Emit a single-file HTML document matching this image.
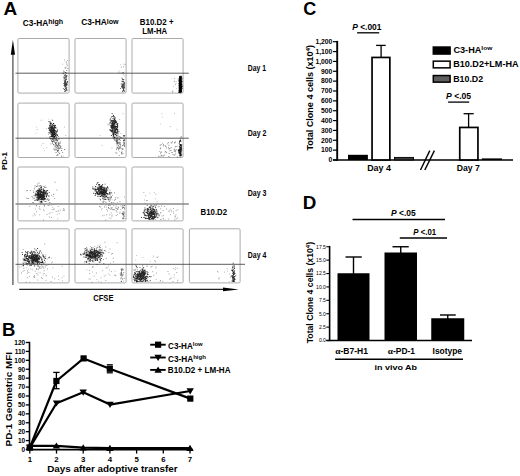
<!DOCTYPE html>
<html><head><meta charset="utf-8"><style>
html,body{margin:0;padding:0;background:#fff;}
body{width:520px;height:476px;overflow:hidden;}
svg{display:block;}
</style></head><body>
<svg width="520" height="476" viewBox="0 0 520 476">
<rect width="520" height="476" fill="#fff"/>
<rect x="17.9" y="38.5" width="51.199999999999996" height="54.599999999999994" rx="1.2" fill="none" stroke="#ababab" stroke-width="1.0"/>
<rect x="75.0" y="38.5" width="51.099999999999994" height="54.599999999999994" rx="1.2" fill="none" stroke="#ababab" stroke-width="1.0"/>
<rect x="132.0" y="38.5" width="51.099999999999994" height="54.599999999999994" rx="1.2" fill="none" stroke="#ababab" stroke-width="1.0"/>
<rect x="17.9" y="103.1" width="51.199999999999996" height="54.400000000000006" rx="1.2" fill="none" stroke="#ababab" stroke-width="1.0"/>
<rect x="75.0" y="103.1" width="51.099999999999994" height="54.400000000000006" rx="1.2" fill="none" stroke="#ababab" stroke-width="1.0"/>
<rect x="132.0" y="103.1" width="51.099999999999994" height="54.400000000000006" rx="1.2" fill="none" stroke="#ababab" stroke-width="1.0"/>
<rect x="17.9" y="167.0" width="51.199999999999996" height="53.900000000000006" rx="1.2" fill="none" stroke="#ababab" stroke-width="1.0"/>
<rect x="75.0" y="167.0" width="51.099999999999994" height="53.900000000000006" rx="1.2" fill="none" stroke="#ababab" stroke-width="1.0"/>
<rect x="132.0" y="167.0" width="51.099999999999994" height="53.900000000000006" rx="1.2" fill="none" stroke="#ababab" stroke-width="1.0"/>
<rect x="17.9" y="228.8" width="51.199999999999996" height="54.099999999999966" rx="1.2" fill="none" stroke="#ababab" stroke-width="1.0"/>
<rect x="75.0" y="228.8" width="51.099999999999994" height="54.099999999999966" rx="1.2" fill="none" stroke="#ababab" stroke-width="1.0"/>
<rect x="132.0" y="228.8" width="51.099999999999994" height="54.099999999999966" rx="1.2" fill="none" stroke="#ababab" stroke-width="1.0"/>
<rect x="189.4" y="228.8" width="50.69999999999999" height="54.099999999999966" rx="1.2" fill="none" stroke="#ababab" stroke-width="1.0"/>
<path d="M65.7 84.0h0.9v0.9h-0.9zM64.2 82.2h0.9v0.9h-0.9zM64.1 81.0h0.9v0.9h-0.9zM66.9 84.4h0.9v0.9h-0.9zM64.6 80.8h0.9v0.9h-0.9zM65.7 87.2h0.9v0.9h-0.9zM64.2 84.7h0.9v0.9h-0.9zM66.1 83.8h0.9v0.9h-0.9zM64.8 75.3h0.9v0.9h-0.9zM63.8 71.6h0.9v0.9h-0.9zM65.0 72.0h0.9v0.9h-0.9zM65.6 75.8h0.9v0.9h-0.9zM65.1 85.0h0.9v0.9h-0.9zM64.7 67.6h0.9v0.9h-0.9zM65.4 83.7h0.9v0.9h-0.9zM64.7 74.1h0.9v0.9h-0.9zM64.3 77.6h0.9v0.9h-0.9zM64.3 90.9h0.9v0.9h-0.9zM66.4 83.8h0.9v0.9h-0.9zM65.2 80.2h0.9v0.9h-0.9zM65.4 84.7h0.9v0.9h-0.9zM65.4 76.0h0.9v0.9h-0.9zM65.4 89.6h0.9v0.9h-0.9zM63.9 89.0h0.9v0.9h-0.9zM66.0 84.5h0.9v0.9h-0.9zM66.1 82.8h0.9v0.9h-0.9zM66.1 83.6h0.9v0.9h-0.9zM64.7 85.3h0.9v0.9h-0.9zM63.9 84.8h0.9v0.9h-0.9zM65.1 80.2h0.9v0.9h-0.9zM66.7 89.8h0.9v0.9h-0.9zM64.3 75.4h0.9v0.9h-0.9zM62.9 88.2h0.9v0.9h-0.9zM65.2 81.0h0.9v0.9h-0.9zM64.9 81.9h0.9v0.9h-0.9zM67.1 82.4h0.9v0.9h-0.9zM64.9 81.2h0.9v0.9h-0.9zM65.2 86.3h0.9v0.9h-0.9zM64.0 82.7h0.9v0.9h-0.9zM64.8 83.9h0.9v0.9h-0.9zM66.1 83.8h0.9v0.9h-0.9zM66.6 81.8h0.9v0.9h-0.9zM66.0 84.0h0.9v0.9h-0.9zM65.7 75.6h0.9v0.9h-0.9zM62.9 73.0h0.9v0.9h-0.9zM64.2 82.0h0.9v0.9h-0.9zM64.6 78.6h0.9v0.9h-0.9zM65.9 85.3h0.9v0.9h-0.9zM65.1 82.9h0.9v0.9h-0.9zM65.9 88.6h0.9v0.9h-0.9zM65.2 77.3h0.9v0.9h-0.9zM64.0 84.2h0.9v0.9h-0.9zM64.3 85.7h0.9v0.9h-0.9zM65.5 90.3h0.9v0.9h-0.9zM64.6 84.6h0.9v0.9h-0.9zM62.9 83.2h0.9v0.9h-0.9zM65.7 76.6h0.9v0.9h-0.9zM66.3 70.2h0.9v0.9h-0.9zM66.2 72.7h0.9v0.9h-0.9zM66.2 78.5h0.9v0.9h-0.9zM63.5 84.9h0.9v0.9h-0.9zM65.0 83.6h0.9v0.9h-0.9zM64.1 83.0h0.9v0.9h-0.9zM64.6 91.1h0.9v0.9h-0.9zM64.3 83.7h0.9v0.9h-0.9zM63.8 79.9h0.9v0.9h-0.9zM65.3 90.3h0.9v0.9h-0.9zM64.9 79.5h0.9v0.9h-0.9zM65.3 80.4h0.9v0.9h-0.9zM64.9 81.6h0.9v0.9h-0.9zM64.3 75.0h0.9v0.9h-0.9zM65.7 77.1h0.9v0.9h-0.9zM64.5 82.6h0.9v0.9h-0.9zM66.2 72.6h0.9v0.9h-0.9zM65.4 83.8h0.9v0.9h-0.9zM65.8 79.1h0.9v0.9h-0.9zM65.1 80.5h0.9v0.9h-0.9zM63.8 76.8h0.9v0.9h-0.9zM65.3 85.9h0.9v0.9h-0.9zM64.7 81.1h0.9v0.9h-0.9zM64.9 88.1h0.9v0.9h-0.9zM65.3 83.0h0.9v0.9h-0.9zM64.6 86.5h0.9v0.9h-0.9zM66.4 75.0h0.9v0.9h-0.9zM65.1 90.3h0.9v0.9h-0.9zM66.2 87.5h0.9v0.9h-0.9zM66.4 89.4h0.9v0.9h-0.9zM67.1 81.0h0.9v0.9h-0.9zM66.3 75.9h0.9v0.9h-0.9zM66.3 87.2h0.9v0.9h-0.9zM63.3 76.6h0.9v0.9h-0.9zM64.1 89.3h0.9v0.9h-0.9zM66.3 83.9h0.9v0.9h-0.9zM62.8 73.3h0.9v0.9h-0.9zM65.4 85.7h0.9v0.9h-0.9zM65.3 82.4h0.9v0.9h-0.9zM63.5 78.4h0.9v0.9h-0.9z" fill="#000" fill-opacity="0.75"/>
<path d="M65.8 61.2h0.9v0.9h-0.9zM65.7 66.5h0.9v0.9h-0.9zM62.6 72.2h0.9v0.9h-0.9zM66.0 63.7h0.9v0.9h-0.9zM65.8 61.8h0.9v0.9h-0.9zM66.9 64.8h0.9v0.9h-0.9zM66.8 67.9h0.9v0.9h-0.9zM64.0 59.5h0.9v0.9h-0.9zM66.3 63.7h0.9v0.9h-0.9zM67.2 60.0h0.9v0.9h-0.9zM67.4 67.9h0.9v0.9h-0.9zM63.0 70.5h0.9v0.9h-0.9zM62.2 63.7h0.9v0.9h-0.9zM65.9 63.6h0.9v0.9h-0.9z" fill="#000" fill-opacity="0.4"/>
<path d="M120.8 83.4h0.9v0.9h-0.9zM122.4 71.9h0.9v0.9h-0.9zM122.0 81.2h0.9v0.9h-0.9zM122.9 86.7h0.9v0.9h-0.9zM123.9 86.7h0.9v0.9h-0.9zM123.2 89.0h0.9v0.9h-0.9zM123.6 81.8h0.9v0.9h-0.9zM124.2 83.4h0.9v0.9h-0.9zM122.8 80.8h0.9v0.9h-0.9zM121.5 86.5h0.9v0.9h-0.9zM123.8 84.4h0.9v0.9h-0.9zM120.1 88.2h0.9v0.9h-0.9zM122.9 87.6h0.9v0.9h-0.9zM121.8 86.9h0.9v0.9h-0.9zM122.8 85.3h0.9v0.9h-0.9zM122.6 84.0h0.9v0.9h-0.9zM124.0 90.8h0.9v0.9h-0.9zM123.1 89.5h0.9v0.9h-0.9zM122.7 87.5h0.9v0.9h-0.9zM123.1 85.6h0.9v0.9h-0.9zM122.4 86.2h0.9v0.9h-0.9zM123.1 88.8h0.9v0.9h-0.9zM121.8 84.9h0.9v0.9h-0.9zM124.0 86.2h0.9v0.9h-0.9zM122.8 84.7h0.9v0.9h-0.9zM123.1 85.5h0.9v0.9h-0.9zM122.7 79.3h0.9v0.9h-0.9zM124.0 82.7h0.9v0.9h-0.9zM123.6 83.0h0.9v0.9h-0.9zM123.2 83.8h0.9v0.9h-0.9zM121.9 86.5h0.9v0.9h-0.9zM122.8 85.3h0.9v0.9h-0.9zM123.4 81.8h0.9v0.9h-0.9zM121.8 80.9h0.9v0.9h-0.9zM123.6 87.7h0.9v0.9h-0.9zM121.5 83.8h0.9v0.9h-0.9zM122.0 90.8h0.9v0.9h-0.9zM122.4 82.7h0.9v0.9h-0.9zM122.8 87.8h0.9v0.9h-0.9zM123.3 87.5h0.9v0.9h-0.9zM123.0 85.2h0.9v0.9h-0.9zM122.9 87.4h0.9v0.9h-0.9zM123.1 89.2h0.9v0.9h-0.9zM123.4 78.9h0.9v0.9h-0.9zM121.5 77.7h0.9v0.9h-0.9zM123.8 90.3h0.9v0.9h-0.9zM121.1 85.8h0.9v0.9h-0.9zM122.3 84.8h0.9v0.9h-0.9zM122.1 87.5h0.9v0.9h-0.9zM122.9 81.2h0.9v0.9h-0.9zM121.7 85.7h0.9v0.9h-0.9zM121.7 87.0h0.9v0.9h-0.9zM122.5 91.4h0.9v0.9h-0.9zM122.9 88.8h0.9v0.9h-0.9zM122.6 84.8h0.9v0.9h-0.9zM121.4 80.7h0.9v0.9h-0.9zM122.8 90.1h0.9v0.9h-0.9zM124.1 87.5h0.9v0.9h-0.9zM122.1 78.7h0.9v0.9h-0.9zM123.4 87.3h0.9v0.9h-0.9zM124.1 84.8h0.9v0.9h-0.9zM121.7 87.4h0.9v0.9h-0.9zM123.9 82.3h0.9v0.9h-0.9z" fill="#000" fill-opacity="0.75"/>
<path d="M122.8 71.9h0.9v0.9h-0.9zM123.8 75.4h0.9v0.9h-0.9zM120.3 64.4h0.9v0.9h-0.9zM122.7 72.6h0.9v0.9h-0.9zM119.5 72.5h0.9v0.9h-0.9zM121.9 78.8h0.9v0.9h-0.9zM123.4 63.7h0.9v0.9h-0.9zM118.5 70.7h0.9v0.9h-0.9zM123.1 73.7h0.9v0.9h-0.9zM118.1 72.4h0.9v0.9h-0.9zM124.7 64.3h0.9v0.9h-0.9zM121.3 73.1h0.9v0.9h-0.9zM120.9 66.8h0.9v0.9h-0.9zM123.0 66.3h0.9v0.9h-0.9z" fill="#000" fill-opacity="0.4"/>
<path d="M179.2 76.2L181.4 75.6L182 92.6L178.6 92.6Z" fill="#000"/>
<path d="M181.1 84.3h0.9v0.9h-0.9zM180.3 76.9h0.9v0.9h-0.9zM179.4 81.3h0.9v0.9h-0.9zM179.8 88.8h0.9v0.9h-0.9zM179.6 92.0h0.9v0.9h-0.9zM180.1 86.4h0.9v0.9h-0.9zM180.8 80.7h0.9v0.9h-0.9zM180.8 83.7h0.9v0.9h-0.9zM179.3 84.3h0.9v0.9h-0.9zM180.3 84.0h0.9v0.9h-0.9zM179.5 89.3h0.9v0.9h-0.9zM178.8 84.3h0.9v0.9h-0.9zM179.3 87.8h0.9v0.9h-0.9zM178.9 90.0h0.9v0.9h-0.9zM179.6 79.1h0.9v0.9h-0.9zM180.6 78.9h0.9v0.9h-0.9zM179.7 80.5h0.9v0.9h-0.9zM179.6 87.4h0.9v0.9h-0.9zM179.4 86.7h0.9v0.9h-0.9zM178.6 78.4h0.9v0.9h-0.9zM180.3 85.7h0.9v0.9h-0.9zM180.3 85.3h0.9v0.9h-0.9zM179.4 76.7h0.9v0.9h-0.9zM181.0 77.8h0.9v0.9h-0.9zM179.4 88.6h0.9v0.9h-0.9zM180.0 77.5h0.9v0.9h-0.9zM179.3 87.1h0.9v0.9h-0.9zM179.3 89.7h0.9v0.9h-0.9zM178.9 83.1h0.9v0.9h-0.9zM181.5 79.6h0.9v0.9h-0.9zM179.9 88.6h0.9v0.9h-0.9zM178.6 80.1h0.9v0.9h-0.9zM180.3 82.5h0.9v0.9h-0.9zM180.2 84.1h0.9v0.9h-0.9zM180.2 78.9h0.9v0.9h-0.9zM181.5 84.3h0.9v0.9h-0.9zM180.2 80.7h0.9v0.9h-0.9zM179.6 81.5h0.9v0.9h-0.9zM179.4 84.2h0.9v0.9h-0.9zM180.2 87.5h0.9v0.9h-0.9zM180.1 85.8h0.9v0.9h-0.9zM179.4 80.9h0.9v0.9h-0.9zM179.8 83.3h0.9v0.9h-0.9zM180.3 85.7h0.9v0.9h-0.9zM180.4 77.7h0.9v0.9h-0.9zM179.7 77.8h0.9v0.9h-0.9zM178.4 83.0h0.9v0.9h-0.9zM180.4 85.0h0.9v0.9h-0.9zM179.9 83.7h0.9v0.9h-0.9zM179.4 82.6h0.9v0.9h-0.9zM179.8 83.2h0.9v0.9h-0.9zM179.2 85.0h0.9v0.9h-0.9zM180.4 85.7h0.9v0.9h-0.9zM179.9 83.8h0.9v0.9h-0.9zM178.8 87.3h0.9v0.9h-0.9zM180.5 86.8h0.9v0.9h-0.9zM180.6 85.9h0.9v0.9h-0.9zM180.1 81.2h0.9v0.9h-0.9zM180.7 87.7h0.9v0.9h-0.9zM178.9 85.5h0.9v0.9h-0.9zM181.4 87.2h0.9v0.9h-0.9zM180.5 89.5h0.9v0.9h-0.9zM181.1 76.7h0.9v0.9h-0.9zM179.0 86.4h0.9v0.9h-0.9zM179.7 78.0h0.9v0.9h-0.9zM180.0 90.9h0.9v0.9h-0.9zM181.9 85.9h0.9v0.9h-0.9zM179.2 83.3h0.9v0.9h-0.9zM180.7 81.0h0.9v0.9h-0.9zM180.4 86.5h0.9v0.9h-0.9zM179.6 89.5h0.9v0.9h-0.9zM181.0 84.2h0.9v0.9h-0.9zM181.3 87.4h0.9v0.9h-0.9zM180.0 86.5h0.9v0.9h-0.9zM179.4 86.3h0.9v0.9h-0.9zM180.8 76.3h0.9v0.9h-0.9zM180.6 84.2h0.9v0.9h-0.9zM180.0 76.0h0.9v0.9h-0.9zM179.5 81.5h0.9v0.9h-0.9zM180.6 89.0h0.9v0.9h-0.9zM180.3 81.5h0.9v0.9h-0.9zM180.8 83.9h0.9v0.9h-0.9zM181.8 87.9h0.9v0.9h-0.9zM180.6 90.2h0.9v0.9h-0.9zM181.0 86.0h0.9v0.9h-0.9zM180.3 81.8h0.9v0.9h-0.9zM180.3 83.7h0.9v0.9h-0.9zM181.5 85.5h0.9v0.9h-0.9zM181.6 84.3h0.9v0.9h-0.9zM180.1 79.7h0.9v0.9h-0.9zM181.0 83.5h0.9v0.9h-0.9zM178.9 89.7h0.9v0.9h-0.9zM180.6 79.9h0.9v0.9h-0.9zM178.9 81.2h0.9v0.9h-0.9zM180.7 89.7h0.9v0.9h-0.9zM179.9 87.0h0.9v0.9h-0.9zM180.1 89.6h0.9v0.9h-0.9zM179.5 90.0h0.9v0.9h-0.9zM180.5 80.2h0.9v0.9h-0.9zM180.9 81.0h0.9v0.9h-0.9zM179.5 85.8h0.9v0.9h-0.9zM180.0 84.9h0.9v0.9h-0.9zM179.7 89.1h0.9v0.9h-0.9zM181.4 82.3h0.9v0.9h-0.9zM180.5 84.8h0.9v0.9h-0.9zM180.2 92.2h0.9v0.9h-0.9zM180.4 79.6h0.9v0.9h-0.9zM179.6 86.8h0.9v0.9h-0.9zM179.0 76.3h0.9v0.9h-0.9zM179.6 87.8h0.9v0.9h-0.9zM180.5 83.8h0.9v0.9h-0.9zM180.0 87.6h0.9v0.9h-0.9zM179.5 87.0h0.9v0.9h-0.9zM179.4 82.7h0.9v0.9h-0.9zM180.3 90.2h0.9v0.9h-0.9zM180.0 80.8h0.9v0.9h-0.9zM180.9 83.4h0.9v0.9h-0.9zM179.4 76.5h0.9v0.9h-0.9zM180.2 89.3h0.9v0.9h-0.9zM180.0 83.3h0.9v0.9h-0.9zM180.7 90.6h0.9v0.9h-0.9zM179.8 87.9h0.9v0.9h-0.9zM180.9 87.3h0.9v0.9h-0.9zM180.7 83.5h0.9v0.9h-0.9zM180.0 87.9h0.9v0.9h-0.9zM180.6 76.0h0.9v0.9h-0.9zM180.0 80.8h0.9v0.9h-0.9zM180.0 81.5h0.9v0.9h-0.9zM181.3 85.8h0.9v0.9h-0.9zM179.8 78.5h0.9v0.9h-0.9zM178.5 84.9h0.9v0.9h-0.9zM178.9 86.2h0.9v0.9h-0.9zM180.2 86.0h0.9v0.9h-0.9zM180.2 82.9h0.9v0.9h-0.9zM179.7 81.8h0.9v0.9h-0.9zM180.3 76.1h0.9v0.9h-0.9zM180.9 91.1h0.9v0.9h-0.9zM181.6 81.1h0.9v0.9h-0.9zM180.2 84.2h0.9v0.9h-0.9zM180.4 83.0h0.9v0.9h-0.9zM180.2 82.3h0.9v0.9h-0.9zM180.0 79.1h0.9v0.9h-0.9zM180.8 83.3h0.9v0.9h-0.9zM179.3 88.0h0.9v0.9h-0.9zM181.1 83.5h0.9v0.9h-0.9zM180.4 85.8h0.9v0.9h-0.9zM179.7 92.3h0.9v0.9h-0.9zM179.8 84.9h0.9v0.9h-0.9zM178.5 92.0h0.9v0.9h-0.9zM179.8 81.1h0.9v0.9h-0.9zM180.8 87.8h0.9v0.9h-0.9zM178.9 91.5h0.9v0.9h-0.9zM180.0 88.3h0.9v0.9h-0.9zM180.8 81.2h0.9v0.9h-0.9zM178.4 79.9h0.9v0.9h-0.9zM179.0 82.6h0.9v0.9h-0.9zM180.6 81.3h0.9v0.9h-0.9zM181.7 86.1h0.9v0.9h-0.9zM178.9 83.5h0.9v0.9h-0.9zM179.5 80.7h0.9v0.9h-0.9zM180.7 78.4h0.9v0.9h-0.9zM178.5 81.3h0.9v0.9h-0.9zM180.2 88.0h0.9v0.9h-0.9zM180.4 86.3h0.9v0.9h-0.9zM180.3 87.7h0.9v0.9h-0.9zM180.7 90.7h0.9v0.9h-0.9zM180.7 86.5h0.9v0.9h-0.9zM180.2 77.2h0.9v0.9h-0.9zM180.5 83.2h0.9v0.9h-0.9zM181.8 77.7h0.9v0.9h-0.9zM179.2 85.0h0.9v0.9h-0.9zM180.0 76.0h0.9v0.9h-0.9zM179.7 84.1h0.9v0.9h-0.9zM179.7 85.0h0.9v0.9h-0.9zM179.6 87.3h0.9v0.9h-0.9zM181.2 84.3h0.9v0.9h-0.9zM179.5 82.2h0.9v0.9h-0.9zM179.3 88.4h0.9v0.9h-0.9zM180.3 82.1h0.9v0.9h-0.9z" fill="#000" fill-opacity="0.9"/>
<path d="M173.2 85.7h0.9v0.9h-0.9zM177.9 79.1h0.9v0.9h-0.9zM173.7 80.8h0.9v0.9h-0.9zM175.6 82.7h0.9v0.9h-0.9zM177.9 79.0h0.9v0.9h-0.9zM177.7 78.4h0.9v0.9h-0.9zM172.3 91.0h0.9v0.9h-0.9zM175.1 84.1h0.9v0.9h-0.9zM175.6 80.9h0.9v0.9h-0.9zM176.2 87.9h0.9v0.9h-0.9zM174.0 78.1h0.9v0.9h-0.9zM174.0 81.4h0.9v0.9h-0.9zM172.0 91.5h0.9v0.9h-0.9zM172.2 90.6h0.9v0.9h-0.9z" fill="#000" fill-opacity="0.35"/>
<path d="M53.0 130.1h0.9v0.9h-0.9zM52.4 136.0h0.9v0.9h-0.9zM51.0 122.7h0.9v0.9h-0.9zM52.7 130.5h0.9v0.9h-0.9zM53.8 136.4h0.9v0.9h-0.9zM51.2 134.4h0.9v0.9h-0.9zM56.4 134.0h0.9v0.9h-0.9zM53.4 133.9h0.9v0.9h-0.9zM55.4 130.8h0.9v0.9h-0.9zM51.8 126.4h0.9v0.9h-0.9zM54.0 132.4h0.9v0.9h-0.9zM52.7 128.5h0.9v0.9h-0.9zM52.5 129.2h0.9v0.9h-0.9zM50.6 130.1h0.9v0.9h-0.9zM53.9 130.2h0.9v0.9h-0.9zM51.6 126.2h0.9v0.9h-0.9zM51.2 133.7h0.9v0.9h-0.9zM50.9 131.5h0.9v0.9h-0.9zM56.9 135.1h0.9v0.9h-0.9zM53.3 139.6h0.9v0.9h-0.9zM53.1 133.8h0.9v0.9h-0.9zM55.0 130.6h0.9v0.9h-0.9zM53.4 124.4h0.9v0.9h-0.9zM54.7 130.0h0.9v0.9h-0.9zM51.5 131.5h0.9v0.9h-0.9zM53.8 131.6h0.9v0.9h-0.9zM53.3 130.6h0.9v0.9h-0.9zM48.8 128.6h0.9v0.9h-0.9zM54.1 134.4h0.9v0.9h-0.9zM52.7 131.2h0.9v0.9h-0.9zM52.4 135.3h0.9v0.9h-0.9zM51.8 127.4h0.9v0.9h-0.9zM51.0 136.1h0.9v0.9h-0.9zM52.2 136.0h0.9v0.9h-0.9zM53.9 125.3h0.9v0.9h-0.9zM50.4 130.3h0.9v0.9h-0.9zM53.8 128.7h0.9v0.9h-0.9zM52.5 135.9h0.9v0.9h-0.9zM53.9 132.2h0.9v0.9h-0.9zM52.7 127.5h0.9v0.9h-0.9zM51.6 130.5h0.9v0.9h-0.9zM52.3 128.3h0.9v0.9h-0.9zM51.6 130.8h0.9v0.9h-0.9zM54.0 128.4h0.9v0.9h-0.9zM54.0 131.3h0.9v0.9h-0.9zM54.1 135.8h0.9v0.9h-0.9zM52.5 140.9h0.9v0.9h-0.9zM52.5 134.2h0.9v0.9h-0.9zM56.3 138.5h0.9v0.9h-0.9zM49.8 121.9h0.9v0.9h-0.9zM54.1 133.3h0.9v0.9h-0.9zM52.8 133.8h0.9v0.9h-0.9zM53.8 132.4h0.9v0.9h-0.9zM54.1 129.9h0.9v0.9h-0.9zM52.2 120.2h0.9v0.9h-0.9zM53.4 125.7h0.9v0.9h-0.9zM50.9 129.7h0.9v0.9h-0.9zM51.3 132.4h0.9v0.9h-0.9zM49.5 126.7h0.9v0.9h-0.9zM53.3 130.3h0.9v0.9h-0.9zM52.9 135.1h0.9v0.9h-0.9zM53.1 135.2h0.9v0.9h-0.9zM53.4 130.0h0.9v0.9h-0.9zM52.6 135.3h0.9v0.9h-0.9zM52.1 129.4h0.9v0.9h-0.9zM51.1 131.1h0.9v0.9h-0.9zM52.5 135.2h0.9v0.9h-0.9zM51.5 132.8h0.9v0.9h-0.9zM53.3 132.0h0.9v0.9h-0.9zM55.5 128.2h0.9v0.9h-0.9zM55.6 131.8h0.9v0.9h-0.9zM52.0 134.9h0.9v0.9h-0.9zM53.0 128.7h0.9v0.9h-0.9zM52.6 130.8h0.9v0.9h-0.9zM49.4 129.6h0.9v0.9h-0.9zM48.8 129.9h0.9v0.9h-0.9zM51.6 132.3h0.9v0.9h-0.9zM51.7 127.3h0.9v0.9h-0.9zM50.4 132.0h0.9v0.9h-0.9zM49.8 122.9h0.9v0.9h-0.9zM49.8 121.5h0.9v0.9h-0.9zM51.7 137.9h0.9v0.9h-0.9zM50.7 133.7h0.9v0.9h-0.9zM52.2 131.9h0.9v0.9h-0.9zM53.4 130.1h0.9v0.9h-0.9zM53.8 138.4h0.9v0.9h-0.9zM51.0 131.3h0.9v0.9h-0.9zM52.4 133.2h0.9v0.9h-0.9zM52.9 134.2h0.9v0.9h-0.9zM50.4 138.7h0.9v0.9h-0.9zM53.7 129.0h0.9v0.9h-0.9zM51.0 129.1h0.9v0.9h-0.9zM50.1 129.6h0.9v0.9h-0.9zM56.5 130.5h0.9v0.9h-0.9zM51.4 135.9h0.9v0.9h-0.9zM51.3 126.7h0.9v0.9h-0.9zM51.8 135.2h0.9v0.9h-0.9zM53.5 127.2h0.9v0.9h-0.9zM52.4 134.5h0.9v0.9h-0.9zM49.4 125.8h0.9v0.9h-0.9zM48.5 127.8h0.9v0.9h-0.9zM51.9 134.0h0.9v0.9h-0.9zM55.8 132.3h0.9v0.9h-0.9zM51.3 136.0h0.9v0.9h-0.9zM54.9 134.2h0.9v0.9h-0.9zM50.5 127.3h0.9v0.9h-0.9zM49.9 130.3h0.9v0.9h-0.9zM49.5 137.6h0.9v0.9h-0.9zM51.4 125.6h0.9v0.9h-0.9zM52.6 129.4h0.9v0.9h-0.9zM52.3 131.8h0.9v0.9h-0.9zM49.7 136.1h0.9v0.9h-0.9zM51.4 130.6h0.9v0.9h-0.9zM52.9 131.0h0.9v0.9h-0.9zM50.9 126.5h0.9v0.9h-0.9zM53.5 134.0h0.9v0.9h-0.9zM55.4 127.0h0.9v0.9h-0.9zM51.5 141.2h0.9v0.9h-0.9zM56.7 131.3h0.9v0.9h-0.9zM53.3 134.0h0.9v0.9h-0.9zM51.5 129.7h0.9v0.9h-0.9zM51.5 129.7h0.9v0.9h-0.9zM52.3 133.9h0.9v0.9h-0.9zM50.3 128.8h0.9v0.9h-0.9zM51.0 130.5h0.9v0.9h-0.9zM54.1 129.5h0.9v0.9h-0.9zM53.5 132.0h0.9v0.9h-0.9zM52.8 132.1h0.9v0.9h-0.9zM51.9 130.0h0.9v0.9h-0.9zM51.2 134.1h0.9v0.9h-0.9zM53.3 136.5h0.9v0.9h-0.9zM51.3 127.2h0.9v0.9h-0.9zM52.4 127.4h0.9v0.9h-0.9zM53.9 127.0h0.9v0.9h-0.9zM48.4 127.5h0.9v0.9h-0.9zM48.9 127.6h0.9v0.9h-0.9zM54.2 130.1h0.9v0.9h-0.9zM50.7 133.7h0.9v0.9h-0.9zM54.9 126.7h0.9v0.9h-0.9zM52.7 131.9h0.9v0.9h-0.9zM57.0 134.7h0.9v0.9h-0.9zM53.5 136.3h0.9v0.9h-0.9zM53.7 132.0h0.9v0.9h-0.9zM50.5 128.0h0.9v0.9h-0.9zM51.0 130.9h0.9v0.9h-0.9zM52.6 130.2h0.9v0.9h-0.9zM52.5 141.2h0.9v0.9h-0.9zM52.2 130.0h0.9v0.9h-0.9zM54.4 132.2h0.9v0.9h-0.9zM50.9 128.5h0.9v0.9h-0.9zM50.1 123.3h0.9v0.9h-0.9zM52.9 132.9h0.9v0.9h-0.9zM51.3 126.0h0.9v0.9h-0.9zM53.3 130.5h0.9v0.9h-0.9zM51.8 127.9h0.9v0.9h-0.9zM49.6 122.6h0.9v0.9h-0.9zM50.0 138.2h0.9v0.9h-0.9zM52.7 128.9h0.9v0.9h-0.9zM51.0 129.0h0.9v0.9h-0.9zM52.5 130.2h0.9v0.9h-0.9zM49.5 130.5h0.9v0.9h-0.9zM51.0 130.0h0.9v0.9h-0.9zM52.5 128.0h0.9v0.9h-0.9zM54.3 133.2h0.9v0.9h-0.9zM53.7 128.1h0.9v0.9h-0.9zM55.0 135.5h0.9v0.9h-0.9zM53.1 136.8h0.9v0.9h-0.9zM53.7 129.5h0.9v0.9h-0.9zM52.0 124.3h0.9v0.9h-0.9zM51.6 128.2h0.9v0.9h-0.9zM50.1 122.9h0.9v0.9h-0.9zM53.9 130.2h0.9v0.9h-0.9zM53.0 135.0h0.9v0.9h-0.9zM51.1 129.8h0.9v0.9h-0.9zM52.3 132.4h0.9v0.9h-0.9zM55.7 132.9h0.9v0.9h-0.9zM50.1 130.7h0.9v0.9h-0.9zM49.7 126.9h0.9v0.9h-0.9zM53.9 124.8h0.9v0.9h-0.9zM50.2 131.8h0.9v0.9h-0.9zM54.9 133.2h0.9v0.9h-0.9zM51.2 129.0h0.9v0.9h-0.9zM52.8 128.9h0.9v0.9h-0.9zM54.8 133.1h0.9v0.9h-0.9zM55.1 135.7h0.9v0.9h-0.9zM54.4 136.5h0.9v0.9h-0.9zM51.4 123.6h0.9v0.9h-0.9zM52.1 132.0h0.9v0.9h-0.9zM52.5 134.7h0.9v0.9h-0.9zM54.3 126.0h0.9v0.9h-0.9zM53.2 133.4h0.9v0.9h-0.9zM54.7 134.4h0.9v0.9h-0.9zM48.8 132.5h0.9v0.9h-0.9zM51.4 127.6h0.9v0.9h-0.9zM52.2 126.0h0.9v0.9h-0.9zM52.4 136.0h0.9v0.9h-0.9zM55.1 125.0h0.9v0.9h-0.9zM50.3 128.7h0.9v0.9h-0.9zM53.3 131.5h0.9v0.9h-0.9zM53.4 127.2h0.9v0.9h-0.9zM50.7 128.5h0.9v0.9h-0.9zM53.8 131.1h0.9v0.9h-0.9zM52.7 127.6h0.9v0.9h-0.9zM57.0 129.5h0.9v0.9h-0.9zM54.3 127.0h0.9v0.9h-0.9zM52.3 130.3h0.9v0.9h-0.9zM54.3 133.6h0.9v0.9h-0.9zM53.8 136.1h0.9v0.9h-0.9zM51.3 127.9h0.9v0.9h-0.9zM53.7 132.7h0.9v0.9h-0.9zM54.0 136.7h0.9v0.9h-0.9zM55.5 135.0h0.9v0.9h-0.9zM50.2 131.5h0.9v0.9h-0.9zM49.5 125.5h0.9v0.9h-0.9zM52.1 137.8h0.9v0.9h-0.9zM54.2 135.9h0.9v0.9h-0.9zM55.1 138.0h0.9v0.9h-0.9zM52.1 130.1h0.9v0.9h-0.9zM52.8 130.8h0.9v0.9h-0.9zM52.1 128.1h0.9v0.9h-0.9zM50.7 138.1h0.9v0.9h-0.9zM51.2 131.9h0.9v0.9h-0.9zM54.0 131.2h0.9v0.9h-0.9zM53.7 130.1h0.9v0.9h-0.9zM53.3 123.1h0.9v0.9h-0.9zM53.1 127.7h0.9v0.9h-0.9zM48.5 131.9h0.9v0.9h-0.9zM52.4 127.1h0.9v0.9h-0.9zM53.9 137.4h0.9v0.9h-0.9zM50.4 132.0h0.9v0.9h-0.9zM56.2 136.6h0.9v0.9h-0.9zM52.2 130.7h0.9v0.9h-0.9zM53.0 123.0h0.9v0.9h-0.9zM55.2 142.5h0.9v0.9h-0.9zM54.1 136.1h0.9v0.9h-0.9zM54.1 125.8h0.9v0.9h-0.9zM51.4 125.0h0.9v0.9h-0.9zM54.1 131.6h0.9v0.9h-0.9zM53.4 132.3h0.9v0.9h-0.9zM50.0 127.3h0.9v0.9h-0.9zM51.4 130.9h0.9v0.9h-0.9zM49.7 124.9h0.9v0.9h-0.9zM49.3 128.7h0.9v0.9h-0.9zM49.1 124.8h0.9v0.9h-0.9zM53.3 131.2h0.9v0.9h-0.9zM51.3 139.8h0.9v0.9h-0.9zM53.6 127.3h0.9v0.9h-0.9zM51.9 129.6h0.9v0.9h-0.9zM53.0 138.3h0.9v0.9h-0.9zM49.7 125.6h0.9v0.9h-0.9zM53.2 131.9h0.9v0.9h-0.9zM50.1 124.5h0.9v0.9h-0.9zM53.7 132.8h0.9v0.9h-0.9zM53.1 127.5h0.9v0.9h-0.9zM50.0 133.4h0.9v0.9h-0.9zM53.0 129.0h0.9v0.9h-0.9zM48.8 128.4h0.9v0.9h-0.9zM53.5 129.1h0.9v0.9h-0.9zM49.9 138.1h0.9v0.9h-0.9zM52.2 142.5h0.9v0.9h-0.9zM55.0 134.5h0.9v0.9h-0.9zM53.3 134.9h0.9v0.9h-0.9zM52.8 125.1h0.9v0.9h-0.9zM48.1 127.8h0.9v0.9h-0.9zM55.3 143.1h0.9v0.9h-0.9zM52.1 138.9h0.9v0.9h-0.9zM55.9 136.8h0.9v0.9h-0.9zM53.4 137.5h0.9v0.9h-0.9zM51.5 125.1h0.9v0.9h-0.9zM48.5 121.0h0.9v0.9h-0.9zM51.0 131.1h0.9v0.9h-0.9zM52.2 129.8h0.9v0.9h-0.9zM55.7 138.9h0.9v0.9h-0.9zM54.4 130.0h0.9v0.9h-0.9zM51.5 127.1h0.9v0.9h-0.9zM51.0 134.8h0.9v0.9h-0.9zM50.2 129.5h0.9v0.9h-0.9zM55.2 130.7h0.9v0.9h-0.9zM52.4 127.1h0.9v0.9h-0.9zM50.1 126.7h0.9v0.9h-0.9z" fill="#000" fill-opacity="0.85"/>
<path d="M58.2 137.9h0.9v0.9h-0.9zM57.4 141.4h0.9v0.9h-0.9zM58.2 143.6h0.9v0.9h-0.9zM58.0 147.6h0.9v0.9h-0.9zM56.7 149.9h0.9v0.9h-0.9zM52.9 144.4h0.9v0.9h-0.9zM53.4 144.1h0.9v0.9h-0.9zM54.8 145.6h0.9v0.9h-0.9zM58.1 146.4h0.9v0.9h-0.9zM53.3 137.9h0.9v0.9h-0.9zM57.2 140.0h0.9v0.9h-0.9zM61.2 155.8h0.9v0.9h-0.9zM59.5 143.2h0.9v0.9h-0.9zM57.9 136.2h0.9v0.9h-0.9zM50.4 143.4h0.9v0.9h-0.9zM55.9 139.7h0.9v0.9h-0.9zM56.9 144.7h0.9v0.9h-0.9zM53.5 137.5h0.9v0.9h-0.9zM58.1 148.7h0.9v0.9h-0.9zM58.9 153.1h0.9v0.9h-0.9zM53.4 148.5h0.9v0.9h-0.9zM57.9 137.9h0.9v0.9h-0.9zM56.8 140.1h0.9v0.9h-0.9zM54.8 146.1h0.9v0.9h-0.9zM55.4 144.2h0.9v0.9h-0.9zM57.9 142.7h0.9v0.9h-0.9zM56.7 150.2h0.9v0.9h-0.9zM56.3 140.4h0.9v0.9h-0.9zM59.0 144.9h0.9v0.9h-0.9zM56.6 145.9h0.9v0.9h-0.9zM53.9 141.3h0.9v0.9h-0.9zM54.8 140.2h0.9v0.9h-0.9zM57.9 143.1h0.9v0.9h-0.9zM56.0 143.7h0.9v0.9h-0.9zM58.6 137.9h0.9v0.9h-0.9zM61.4 148.2h0.9v0.9h-0.9zM61.2 150.0h0.9v0.9h-0.9zM58.1 144.2h0.9v0.9h-0.9zM62.2 152.2h0.9v0.9h-0.9zM59.2 148.1h0.9v0.9h-0.9zM57.4 154.0h0.9v0.9h-0.9zM55.8 148.9h0.9v0.9h-0.9zM54.7 142.2h0.9v0.9h-0.9zM57.1 145.1h0.9v0.9h-0.9zM54.7 149.5h0.9v0.9h-0.9zM57.3 150.6h0.9v0.9h-0.9zM58.0 145.2h0.9v0.9h-0.9zM54.1 149.4h0.9v0.9h-0.9zM64.2 149.1h0.9v0.9h-0.9zM56.4 134.2h0.9v0.9h-0.9zM57.3 148.3h0.9v0.9h-0.9zM56.5 155.0h0.9v0.9h-0.9zM60.3 146.3h0.9v0.9h-0.9zM55.8 145.0h0.9v0.9h-0.9zM56.2 146.9h0.9v0.9h-0.9zM55.6 152.0h0.9v0.9h-0.9zM57.8 150.2h0.9v0.9h-0.9zM53.2 130.1h0.9v0.9h-0.9zM54.5 139.7h0.9v0.9h-0.9zM58.5 138.8h0.9v0.9h-0.9zM60.4 145.9h0.9v0.9h-0.9zM55.6 148.4h0.9v0.9h-0.9zM59.5 145.0h0.9v0.9h-0.9zM58.4 151.8h0.9v0.9h-0.9zM56.8 146.4h0.9v0.9h-0.9zM60.2 141.5h0.9v0.9h-0.9zM54.6 146.6h0.9v0.9h-0.9zM57.8 142.7h0.9v0.9h-0.9zM57.6 150.0h0.9v0.9h-0.9zM56.1 141.9h0.9v0.9h-0.9zM51.8 136.4h0.9v0.9h-0.9zM57.2 151.2h0.9v0.9h-0.9zM60.1 147.7h0.9v0.9h-0.9zM58.0 150.0h0.9v0.9h-0.9zM58.0 143.5h0.9v0.9h-0.9zM55.8 148.9h0.9v0.9h-0.9zM56.8 146.5h0.9v0.9h-0.9zM53.8 134.0h0.9v0.9h-0.9zM55.7 144.5h0.9v0.9h-0.9zM53.8 136.1h0.9v0.9h-0.9zM57.2 145.7h0.9v0.9h-0.9zM56.7 138.7h0.9v0.9h-0.9zM54.7 138.6h0.9v0.9h-0.9zM57.4 154.4h0.9v0.9h-0.9zM58.5 142.3h0.9v0.9h-0.9zM55.8 143.8h0.9v0.9h-0.9zM59.5 146.8h0.9v0.9h-0.9zM52.0 132.9h0.9v0.9h-0.9zM53.2 140.4h0.9v0.9h-0.9zM54.0 141.2h0.9v0.9h-0.9zM55.6 148.3h0.9v0.9h-0.9z" fill="#000" fill-opacity="0.6"/>
<path d="M51.0 132.2h0.9v0.9h-0.9zM51.1 124.4h0.9v0.9h-0.9zM42.7 143.1h0.9v0.9h-0.9zM43.2 147.7h0.9v0.9h-0.9zM46.3 146.9h0.9v0.9h-0.9zM59.2 143.7h0.9v0.9h-0.9zM48.6 118.7h0.9v0.9h-0.9zM36.2 126.7h0.9v0.9h-0.9zM49.0 137.6h0.9v0.9h-0.9zM41.2 144.7h0.9v0.9h-0.9zM35.4 132.7h0.9v0.9h-0.9zM65.3 135.1h0.9v0.9h-0.9zM44.1 149.9h0.9v0.9h-0.9zM51.7 118.9h0.9v0.9h-0.9zM46.1 128.2h0.9v0.9h-0.9zM36.7 129.0h0.9v0.9h-0.9zM62.9 155.7h0.9v0.9h-0.9zM64.0 126.6h0.9v0.9h-0.9zM40.8 119.8h0.9v0.9h-0.9zM48.0 133.8h0.9v0.9h-0.9z" fill="#000" fill-opacity="0.3"/>
<path d="M112.9 125.8h0.9v0.9h-0.9zM111.4 129.4h0.9v0.9h-0.9zM113.4 122.3h0.9v0.9h-0.9zM112.9 127.8h0.9v0.9h-0.9zM111.5 124.4h0.9v0.9h-0.9zM115.7 126.4h0.9v0.9h-0.9zM115.6 121.3h0.9v0.9h-0.9zM113.2 131.3h0.9v0.9h-0.9zM111.3 131.3h0.9v0.9h-0.9zM109.9 118.7h0.9v0.9h-0.9zM112.6 125.0h0.9v0.9h-0.9zM113.3 124.4h0.9v0.9h-0.9zM112.9 116.2h0.9v0.9h-0.9zM111.3 120.1h0.9v0.9h-0.9zM111.0 125.2h0.9v0.9h-0.9zM110.7 120.4h0.9v0.9h-0.9zM114.6 126.8h0.9v0.9h-0.9zM112.0 130.1h0.9v0.9h-0.9zM111.2 123.3h0.9v0.9h-0.9zM110.0 129.8h0.9v0.9h-0.9zM113.5 133.3h0.9v0.9h-0.9zM113.6 123.0h0.9v0.9h-0.9zM114.9 132.1h0.9v0.9h-0.9zM114.5 132.2h0.9v0.9h-0.9zM116.7 132.8h0.9v0.9h-0.9zM116.1 126.1h0.9v0.9h-0.9zM113.8 127.8h0.9v0.9h-0.9zM112.3 122.5h0.9v0.9h-0.9zM111.6 131.2h0.9v0.9h-0.9zM114.6 130.2h0.9v0.9h-0.9zM109.6 129.0h0.9v0.9h-0.9zM114.6 126.3h0.9v0.9h-0.9zM113.1 123.2h0.9v0.9h-0.9zM113.1 114.9h0.9v0.9h-0.9zM114.7 123.5h0.9v0.9h-0.9zM113.5 117.6h0.9v0.9h-0.9zM114.8 125.6h0.9v0.9h-0.9zM111.7 122.5h0.9v0.9h-0.9zM113.5 138.4h0.9v0.9h-0.9zM112.5 123.5h0.9v0.9h-0.9zM115.0 121.6h0.9v0.9h-0.9zM113.4 135.8h0.9v0.9h-0.9zM114.5 118.1h0.9v0.9h-0.9zM115.8 132.3h0.9v0.9h-0.9zM112.7 133.0h0.9v0.9h-0.9zM110.8 126.5h0.9v0.9h-0.9zM114.3 119.7h0.9v0.9h-0.9zM117.3 123.0h0.9v0.9h-0.9zM112.4 127.5h0.9v0.9h-0.9zM117.4 130.5h0.9v0.9h-0.9zM111.6 129.7h0.9v0.9h-0.9zM116.3 128.5h0.9v0.9h-0.9zM111.7 124.7h0.9v0.9h-0.9zM114.5 132.0h0.9v0.9h-0.9zM112.0 121.6h0.9v0.9h-0.9zM113.5 123.1h0.9v0.9h-0.9zM115.7 127.2h0.9v0.9h-0.9zM111.1 131.0h0.9v0.9h-0.9zM115.5 128.8h0.9v0.9h-0.9zM115.7 129.0h0.9v0.9h-0.9zM111.3 124.5h0.9v0.9h-0.9zM112.2 131.9h0.9v0.9h-0.9zM113.9 115.9h0.9v0.9h-0.9zM112.4 123.5h0.9v0.9h-0.9zM110.0 120.4h0.9v0.9h-0.9zM112.0 121.3h0.9v0.9h-0.9zM109.5 129.5h0.9v0.9h-0.9zM111.8 131.1h0.9v0.9h-0.9zM114.0 121.5h0.9v0.9h-0.9zM110.6 127.0h0.9v0.9h-0.9zM113.2 136.4h0.9v0.9h-0.9zM114.0 128.2h0.9v0.9h-0.9zM113.6 134.2h0.9v0.9h-0.9zM112.8 132.2h0.9v0.9h-0.9zM112.9 132.8h0.9v0.9h-0.9zM116.8 124.7h0.9v0.9h-0.9zM113.9 128.6h0.9v0.9h-0.9zM115.7 138.1h0.9v0.9h-0.9zM114.3 122.7h0.9v0.9h-0.9zM114.8 120.8h0.9v0.9h-0.9zM113.3 133.2h0.9v0.9h-0.9zM113.4 123.8h0.9v0.9h-0.9zM111.7 127.3h0.9v0.9h-0.9zM110.1 130.4h0.9v0.9h-0.9zM112.4 124.9h0.9v0.9h-0.9zM113.9 125.6h0.9v0.9h-0.9zM113.7 120.7h0.9v0.9h-0.9zM112.2 126.3h0.9v0.9h-0.9zM110.3 120.5h0.9v0.9h-0.9zM111.9 129.1h0.9v0.9h-0.9zM115.5 127.0h0.9v0.9h-0.9zM117.1 131.7h0.9v0.9h-0.9zM111.3 125.8h0.9v0.9h-0.9zM114.8 132.0h0.9v0.9h-0.9zM114.3 132.6h0.9v0.9h-0.9zM115.9 132.7h0.9v0.9h-0.9zM114.9 130.4h0.9v0.9h-0.9zM114.2 128.9h0.9v0.9h-0.9zM115.5 127.9h0.9v0.9h-0.9zM116.4 124.0h0.9v0.9h-0.9zM115.3 126.2h0.9v0.9h-0.9zM113.0 126.6h0.9v0.9h-0.9zM114.3 137.2h0.9v0.9h-0.9zM111.3 120.8h0.9v0.9h-0.9zM117.3 124.9h0.9v0.9h-0.9zM115.4 127.8h0.9v0.9h-0.9zM113.5 121.9h0.9v0.9h-0.9zM117.3 129.9h0.9v0.9h-0.9zM114.1 123.4h0.9v0.9h-0.9zM111.8 128.8h0.9v0.9h-0.9zM113.0 127.0h0.9v0.9h-0.9zM113.0 115.2h0.9v0.9h-0.9zM113.1 129.8h0.9v0.9h-0.9zM115.3 119.9h0.9v0.9h-0.9zM115.6 128.1h0.9v0.9h-0.9zM113.5 134.2h0.9v0.9h-0.9zM113.6 131.1h0.9v0.9h-0.9zM113.3 126.7h0.9v0.9h-0.9zM115.6 126.7h0.9v0.9h-0.9zM113.3 127.7h0.9v0.9h-0.9zM113.9 125.5h0.9v0.9h-0.9zM111.9 122.7h0.9v0.9h-0.9zM112.4 126.9h0.9v0.9h-0.9zM112.3 126.6h0.9v0.9h-0.9zM117.4 136.7h0.9v0.9h-0.9zM113.7 129.3h0.9v0.9h-0.9zM115.6 137.9h0.9v0.9h-0.9zM114.0 126.5h0.9v0.9h-0.9zM116.4 128.2h0.9v0.9h-0.9zM117.4 126.4h0.9v0.9h-0.9zM114.2 122.4h0.9v0.9h-0.9zM116.2 121.5h0.9v0.9h-0.9zM113.2 125.4h0.9v0.9h-0.9zM116.5 131.3h0.9v0.9h-0.9zM112.1 121.5h0.9v0.9h-0.9zM112.8 120.0h0.9v0.9h-0.9zM112.8 126.6h0.9v0.9h-0.9zM112.3 123.7h0.9v0.9h-0.9zM114.0 123.1h0.9v0.9h-0.9zM110.9 135.1h0.9v0.9h-0.9zM112.6 126.5h0.9v0.9h-0.9zM112.1 129.7h0.9v0.9h-0.9zM111.4 126.5h0.9v0.9h-0.9zM114.2 130.5h0.9v0.9h-0.9zM114.1 126.1h0.9v0.9h-0.9zM110.4 126.2h0.9v0.9h-0.9zM114.5 129.9h0.9v0.9h-0.9zM115.2 126.0h0.9v0.9h-0.9zM112.3 133.4h0.9v0.9h-0.9zM115.9 122.7h0.9v0.9h-0.9zM113.1 134.3h0.9v0.9h-0.9zM111.5 121.3h0.9v0.9h-0.9zM110.2 124.9h0.9v0.9h-0.9zM111.1 127.5h0.9v0.9h-0.9zM114.4 120.7h0.9v0.9h-0.9zM112.9 123.6h0.9v0.9h-0.9zM115.5 129.9h0.9v0.9h-0.9zM113.3 125.3h0.9v0.9h-0.9zM116.2 122.4h0.9v0.9h-0.9zM111.9 130.5h0.9v0.9h-0.9zM114.8 126.8h0.9v0.9h-0.9zM117.3 128.9h0.9v0.9h-0.9zM113.4 134.0h0.9v0.9h-0.9zM111.0 126.9h0.9v0.9h-0.9zM114.0 128.2h0.9v0.9h-0.9zM115.6 140.5h0.9v0.9h-0.9zM110.8 116.7h0.9v0.9h-0.9zM111.2 127.9h0.9v0.9h-0.9zM112.2 122.8h0.9v0.9h-0.9zM113.4 128.8h0.9v0.9h-0.9zM114.4 122.4h0.9v0.9h-0.9zM112.2 124.4h0.9v0.9h-0.9zM111.1 120.3h0.9v0.9h-0.9zM110.9 130.7h0.9v0.9h-0.9zM114.8 126.5h0.9v0.9h-0.9zM113.7 125.1h0.9v0.9h-0.9zM115.2 121.1h0.9v0.9h-0.9zM114.7 132.4h0.9v0.9h-0.9zM110.3 118.5h0.9v0.9h-0.9zM117.4 131.4h0.9v0.9h-0.9zM116.0 128.2h0.9v0.9h-0.9zM112.7 124.0h0.9v0.9h-0.9zM114.3 126.9h0.9v0.9h-0.9zM114.2 119.1h0.9v0.9h-0.9zM112.3 133.9h0.9v0.9h-0.9zM113.2 120.1h0.9v0.9h-0.9zM108.6 124.4h0.9v0.9h-0.9zM114.4 131.0h0.9v0.9h-0.9zM117.1 124.1h0.9v0.9h-0.9zM112.2 127.9h0.9v0.9h-0.9zM111.6 127.8h0.9v0.9h-0.9zM113.7 123.1h0.9v0.9h-0.9zM112.3 124.4h0.9v0.9h-0.9zM116.3 135.1h0.9v0.9h-0.9zM115.1 130.9h0.9v0.9h-0.9zM116.6 129.0h0.9v0.9h-0.9zM117.0 126.4h0.9v0.9h-0.9zM112.4 122.3h0.9v0.9h-0.9zM111.9 120.2h0.9v0.9h-0.9zM116.6 129.2h0.9v0.9h-0.9zM113.0 123.7h0.9v0.9h-0.9zM111.9 125.4h0.9v0.9h-0.9zM112.8 121.0h0.9v0.9h-0.9zM112.5 118.3h0.9v0.9h-0.9zM112.3 127.3h0.9v0.9h-0.9zM110.2 122.3h0.9v0.9h-0.9zM112.3 136.7h0.9v0.9h-0.9zM115.7 134.6h0.9v0.9h-0.9zM111.1 125.5h0.9v0.9h-0.9zM117.5 131.8h0.9v0.9h-0.9zM112.3 122.4h0.9v0.9h-0.9zM114.9 132.2h0.9v0.9h-0.9zM113.8 137.1h0.9v0.9h-0.9zM111.5 130.0h0.9v0.9h-0.9zM113.6 137.7h0.9v0.9h-0.9zM111.7 116.0h0.9v0.9h-0.9zM117.0 125.8h0.9v0.9h-0.9zM113.2 125.3h0.9v0.9h-0.9zM116.9 129.5h0.9v0.9h-0.9zM115.4 126.4h0.9v0.9h-0.9zM113.3 129.7h0.9v0.9h-0.9zM113.6 127.4h0.9v0.9h-0.9zM115.1 122.1h0.9v0.9h-0.9zM114.7 119.8h0.9v0.9h-0.9zM114.0 131.8h0.9v0.9h-0.9zM112.5 123.2h0.9v0.9h-0.9zM115.2 129.2h0.9v0.9h-0.9zM115.6 128.2h0.9v0.9h-0.9zM113.5 124.2h0.9v0.9h-0.9zM113.8 119.0h0.9v0.9h-0.9zM112.8 127.9h0.9v0.9h-0.9zM115.6 132.6h0.9v0.9h-0.9zM111.6 112.9h0.9v0.9h-0.9zM114.5 119.5h0.9v0.9h-0.9zM114.3 139.6h0.9v0.9h-0.9zM113.1 127.4h0.9v0.9h-0.9zM115.0 128.6h0.9v0.9h-0.9zM112.5 133.7h0.9v0.9h-0.9zM112.9 135.1h0.9v0.9h-0.9zM115.9 128.1h0.9v0.9h-0.9zM112.2 130.8h0.9v0.9h-0.9zM112.1 123.6h0.9v0.9h-0.9zM115.6 126.4h0.9v0.9h-0.9zM113.5 120.4h0.9v0.9h-0.9zM115.0 129.9h0.9v0.9h-0.9zM116.7 128.9h0.9v0.9h-0.9zM115.4 129.2h0.9v0.9h-0.9zM117.3 129.3h0.9v0.9h-0.9zM114.6 117.2h0.9v0.9h-0.9zM112.8 125.8h0.9v0.9h-0.9zM109.3 122.6h0.9v0.9h-0.9zM111.9 125.3h0.9v0.9h-0.9zM111.1 129.9h0.9v0.9h-0.9zM115.0 134.1h0.9v0.9h-0.9zM112.0 125.9h0.9v0.9h-0.9zM110.8 123.4h0.9v0.9h-0.9zM113.1 124.3h0.9v0.9h-0.9zM110.7 126.5h0.9v0.9h-0.9zM111.6 125.9h0.9v0.9h-0.9zM117.1 127.3h0.9v0.9h-0.9z" fill="#000" fill-opacity="0.85"/>
<path d="M118.1 145.3h0.9v0.9h-0.9zM113.4 134.5h0.9v0.9h-0.9zM117.6 133.3h0.9v0.9h-0.9zM117.3 138.2h0.9v0.9h-0.9zM117.5 138.9h0.9v0.9h-0.9zM118.2 149.3h0.9v0.9h-0.9zM116.0 140.7h0.9v0.9h-0.9zM116.9 146.8h0.9v0.9h-0.9zM113.9 137.0h0.9v0.9h-0.9zM117.4 134.8h0.9v0.9h-0.9zM118.8 155.2h0.9v0.9h-0.9zM119.6 146.6h0.9v0.9h-0.9zM116.2 136.6h0.9v0.9h-0.9zM116.3 141.1h0.9v0.9h-0.9zM116.3 152.5h0.9v0.9h-0.9zM119.1 143.7h0.9v0.9h-0.9zM117.7 139.0h0.9v0.9h-0.9zM119.3 146.3h0.9v0.9h-0.9zM119.9 143.8h0.9v0.9h-0.9zM118.7 131.2h0.9v0.9h-0.9zM122.5 152.9h0.9v0.9h-0.9zM116.3 147.7h0.9v0.9h-0.9zM116.2 141.8h0.9v0.9h-0.9zM119.3 138.6h0.9v0.9h-0.9zM116.8 138.1h0.9v0.9h-0.9zM115.6 132.6h0.9v0.9h-0.9zM116.7 142.8h0.9v0.9h-0.9zM121.0 137.6h0.9v0.9h-0.9zM114.5 136.4h0.9v0.9h-0.9zM119.5 137.4h0.9v0.9h-0.9zM121.0 152.3h0.9v0.9h-0.9zM116.3 138.6h0.9v0.9h-0.9zM117.3 147.7h0.9v0.9h-0.9zM122.5 148.6h0.9v0.9h-0.9zM119.4 142.1h0.9v0.9h-0.9zM122.0 145.0h0.9v0.9h-0.9zM119.2 136.2h0.9v0.9h-0.9zM116.0 140.5h0.9v0.9h-0.9zM117.7 142.6h0.9v0.9h-0.9zM113.7 137.8h0.9v0.9h-0.9zM119.9 136.7h0.9v0.9h-0.9zM121.5 151.5h0.9v0.9h-0.9zM118.3 148.1h0.9v0.9h-0.9zM118.5 141.5h0.9v0.9h-0.9zM114.8 137.1h0.9v0.9h-0.9zM117.5 142.6h0.9v0.9h-0.9zM117.6 136.5h0.9v0.9h-0.9zM119.8 140.2h0.9v0.9h-0.9zM117.4 142.1h0.9v0.9h-0.9zM117.8 142.7h0.9v0.9h-0.9zM116.5 138.9h0.9v0.9h-0.9zM120.1 145.4h0.9v0.9h-0.9zM116.0 149.2h0.9v0.9h-0.9zM116.7 140.2h0.9v0.9h-0.9zM117.3 143.1h0.9v0.9h-0.9zM119.0 139.1h0.9v0.9h-0.9zM115.8 143.4h0.9v0.9h-0.9zM121.5 148.2h0.9v0.9h-0.9zM119.0 138.8h0.9v0.9h-0.9zM119.5 137.8h0.9v0.9h-0.9zM116.1 141.3h0.9v0.9h-0.9zM116.0 140.5h0.9v0.9h-0.9zM118.6 142.9h0.9v0.9h-0.9zM116.9 142.4h0.9v0.9h-0.9zM114.1 123.7h0.9v0.9h-0.9zM116.4 132.4h0.9v0.9h-0.9zM119.8 147.5h0.9v0.9h-0.9zM117.2 140.1h0.9v0.9h-0.9zM116.7 141.6h0.9v0.9h-0.9zM115.5 139.5h0.9v0.9h-0.9zM119.3 147.9h0.9v0.9h-0.9zM118.6 146.9h0.9v0.9h-0.9zM117.7 142.4h0.9v0.9h-0.9zM120.2 143.9h0.9v0.9h-0.9zM116.9 143.5h0.9v0.9h-0.9zM120.5 137.4h0.9v0.9h-0.9zM117.1 140.7h0.9v0.9h-0.9zM121.8 148.8h0.9v0.9h-0.9zM117.8 144.8h0.9v0.9h-0.9zM121.4 153.5h0.9v0.9h-0.9z" fill="#000" fill-opacity="0.6"/>
<path d="M123.6 143.2h0.9v0.9h-0.9zM122.9 135.3h0.9v0.9h-0.9zM123.9 142.6h0.9v0.9h-0.9zM123.0 140.0h0.9v0.9h-0.9zM123.5 135.2h0.9v0.9h-0.9zM124.2 135.2h0.9v0.9h-0.9zM123.3 144.5h0.9v0.9h-0.9zM121.6 137.5h0.9v0.9h-0.9zM123.6 138.6h0.9v0.9h-0.9zM124.1 144.9h0.9v0.9h-0.9zM123.8 143.4h0.9v0.9h-0.9zM123.4 136.7h0.9v0.9h-0.9zM124.2 146.2h0.9v0.9h-0.9zM123.8 136.2h0.9v0.9h-0.9zM123.7 140.1h0.9v0.9h-0.9zM124.0 140.2h0.9v0.9h-0.9zM124.2 139.4h0.9v0.9h-0.9zM123.5 142.0h0.9v0.9h-0.9zM123.4 140.6h0.9v0.9h-0.9zM123.5 144.3h0.9v0.9h-0.9zM123.5 142.2h0.9v0.9h-0.9zM124.2 135.1h0.9v0.9h-0.9z" fill="#000" fill-opacity="0.7"/>
<path d="M111.5 147.5h0.9v0.9h-0.9zM115.3 128.7h0.9v0.9h-0.9zM99.8 135.2h0.9v0.9h-0.9zM109.2 119.6h0.9v0.9h-0.9zM116.0 145.4h0.9v0.9h-0.9zM118.9 151.2h0.9v0.9h-0.9zM119.2 119.1h0.9v0.9h-0.9zM101.5 144.8h0.9v0.9h-0.9zM120.0 142.5h0.9v0.9h-0.9zM112.1 113.6h0.9v0.9h-0.9zM115.1 152.3h0.9v0.9h-0.9zM120.5 133.1h0.9v0.9h-0.9zM107.2 123.8h0.9v0.9h-0.9zM122.6 113.3h0.9v0.9h-0.9zM121.4 146.4h0.9v0.9h-0.9z" fill="#000" fill-opacity="0.3"/>
<path d="M179.9 138.5h0.9v0.9h-0.9zM181.0 146.8h0.9v0.9h-0.9zM179.1 148.9h0.9v0.9h-0.9zM179.9 149.0h0.9v0.9h-0.9zM179.8 147.5h0.9v0.9h-0.9zM179.6 143.9h0.9v0.9h-0.9zM180.0 153.2h0.9v0.9h-0.9zM180.7 155.3h0.9v0.9h-0.9zM180.0 149.5h0.9v0.9h-0.9zM180.1 150.8h0.9v0.9h-0.9zM179.1 150.9h0.9v0.9h-0.9zM179.2 140.5h0.9v0.9h-0.9zM179.9 140.9h0.9v0.9h-0.9zM178.3 150.0h0.9v0.9h-0.9zM180.6 153.1h0.9v0.9h-0.9zM181.3 150.4h0.9v0.9h-0.9zM180.2 154.7h0.9v0.9h-0.9zM180.6 151.9h0.9v0.9h-0.9zM179.3 146.8h0.9v0.9h-0.9zM179.1 146.3h0.9v0.9h-0.9zM178.5 149.6h0.9v0.9h-0.9zM180.3 145.3h0.9v0.9h-0.9zM180.1 149.7h0.9v0.9h-0.9zM179.1 141.5h0.9v0.9h-0.9zM179.8 147.5h0.9v0.9h-0.9zM180.6 147.4h0.9v0.9h-0.9zM179.8 149.7h0.9v0.9h-0.9zM180.4 150.1h0.9v0.9h-0.9zM180.8 147.9h0.9v0.9h-0.9zM179.9 152.1h0.9v0.9h-0.9zM180.3 150.2h0.9v0.9h-0.9zM180.7 154.6h0.9v0.9h-0.9zM180.6 151.7h0.9v0.9h-0.9zM180.9 150.5h0.9v0.9h-0.9zM177.9 149.9h0.9v0.9h-0.9zM179.6 144.7h0.9v0.9h-0.9zM178.4 152.2h0.9v0.9h-0.9zM179.4 152.5h0.9v0.9h-0.9zM179.9 139.9h0.9v0.9h-0.9zM179.4 148.4h0.9v0.9h-0.9zM180.2 140.4h0.9v0.9h-0.9zM179.3 155.3h0.9v0.9h-0.9zM180.8 149.2h0.9v0.9h-0.9zM179.3 152.4h0.9v0.9h-0.9zM179.3 153.2h0.9v0.9h-0.9zM179.3 148.4h0.9v0.9h-0.9zM178.4 151.5h0.9v0.9h-0.9zM179.4 143.9h0.9v0.9h-0.9zM179.9 147.7h0.9v0.9h-0.9zM179.4 155.1h0.9v0.9h-0.9zM180.3 152.2h0.9v0.9h-0.9zM180.0 145.1h0.9v0.9h-0.9zM180.8 145.8h0.9v0.9h-0.9zM179.8 152.0h0.9v0.9h-0.9zM179.9 144.0h0.9v0.9h-0.9zM180.4 146.5h0.9v0.9h-0.9zM179.1 149.5h0.9v0.9h-0.9zM180.4 154.2h0.9v0.9h-0.9zM180.8 147.3h0.9v0.9h-0.9zM179.5 148.7h0.9v0.9h-0.9zM179.1 150.6h0.9v0.9h-0.9zM179.7 148.0h0.9v0.9h-0.9zM181.2 148.8h0.9v0.9h-0.9zM180.1 149.8h0.9v0.9h-0.9zM180.1 154.0h0.9v0.9h-0.9zM181.0 144.6h0.9v0.9h-0.9zM179.5 148.1h0.9v0.9h-0.9zM180.7 136.5h0.9v0.9h-0.9zM180.5 153.7h0.9v0.9h-0.9zM181.3 154.4h0.9v0.9h-0.9zM180.6 149.8h0.9v0.9h-0.9zM179.5 146.7h0.9v0.9h-0.9zM180.2 154.8h0.9v0.9h-0.9zM180.1 144.0h0.9v0.9h-0.9zM179.1 149.2h0.9v0.9h-0.9zM179.4 152.0h0.9v0.9h-0.9zM178.8 142.9h0.9v0.9h-0.9zM180.3 151.0h0.9v0.9h-0.9zM178.7 152.9h0.9v0.9h-0.9zM179.9 148.6h0.9v0.9h-0.9zM179.2 153.6h0.9v0.9h-0.9zM180.7 144.8h0.9v0.9h-0.9zM180.1 155.0h0.9v0.9h-0.9zM180.2 147.3h0.9v0.9h-0.9zM180.6 150.5h0.9v0.9h-0.9zM179.9 144.4h0.9v0.9h-0.9zM178.8 149.3h0.9v0.9h-0.9zM179.8 151.0h0.9v0.9h-0.9z" fill="#000" fill-opacity="0.9"/>
<path d="M162.6 155.9h0.9v0.9h-0.9zM170.6 142.2h0.9v0.9h-0.9zM172.0 151.9h0.9v0.9h-0.9zM179.1 145.9h0.9v0.9h-0.9zM181.2 144.2h0.9v0.9h-0.9zM179.8 144.9h0.9v0.9h-0.9zM166.2 152.0h0.9v0.9h-0.9zM172.1 141.3h0.9v0.9h-0.9zM161.0 154.8h0.9v0.9h-0.9zM170.5 150.1h0.9v0.9h-0.9zM159.7 144.8h0.9v0.9h-0.9zM160.7 144.3h0.9v0.9h-0.9zM160.9 151.5h0.9v0.9h-0.9zM165.2 151.1h0.9v0.9h-0.9zM165.4 146.1h0.9v0.9h-0.9zM174.9 146.3h0.9v0.9h-0.9zM159.8 148.4h0.9v0.9h-0.9zM160.7 155.6h0.9v0.9h-0.9zM173.8 149.6h0.9v0.9h-0.9zM174.1 154.4h0.9v0.9h-0.9zM175.1 151.3h0.9v0.9h-0.9zM175.3 150.0h0.9v0.9h-0.9zM173.9 148.8h0.9v0.9h-0.9zM171.3 151.9h0.9v0.9h-0.9zM175.8 148.9h0.9v0.9h-0.9zM160.0 152.6h0.9v0.9h-0.9zM163.1 143.9h0.9v0.9h-0.9zM175.8 146.2h0.9v0.9h-0.9zM162.6 155.0h0.9v0.9h-0.9zM170.7 147.3h0.9v0.9h-0.9zM164.2 154.5h0.9v0.9h-0.9zM168.4 156.0h0.9v0.9h-0.9zM178.0 150.3h0.9v0.9h-0.9zM173.9 142.6h0.9v0.9h-0.9zM168.7 153.1h0.9v0.9h-0.9zM164.6 151.7h0.9v0.9h-0.9zM177.3 145.7h0.9v0.9h-0.9zM173.8 154.8h0.9v0.9h-0.9zM168.6 148.7h0.9v0.9h-0.9zM178.9 141.9h0.9v0.9h-0.9zM174.6 142.1h0.9v0.9h-0.9zM181.5 144.7h0.9v0.9h-0.9zM173.9 150.8h0.9v0.9h-0.9zM179.6 154.0h0.9v0.9h-0.9zM171.2 142.6h0.9v0.9h-0.9zM175.0 141.4h0.9v0.9h-0.9zM178.2 151.0h0.9v0.9h-0.9zM160.2 147.6h0.9v0.9h-0.9zM169.4 148.1h0.9v0.9h-0.9zM172.5 154.1h0.9v0.9h-0.9zM159.4 155.7h0.9v0.9h-0.9zM176.9 156.5h0.9v0.9h-0.9zM175.2 153.5h0.9v0.9h-0.9zM180.5 141.1h0.9v0.9h-0.9zM166.9 143.4h0.9v0.9h-0.9zM169.3 150.4h0.9v0.9h-0.9zM179.9 156.3h0.9v0.9h-0.9zM167.9 142.3h0.9v0.9h-0.9zM178.0 149.2h0.9v0.9h-0.9zM168.1 147.3h0.9v0.9h-0.9zM166.1 147.5h0.9v0.9h-0.9zM164.7 145.3h0.9v0.9h-0.9zM163.1 145.3h0.9v0.9h-0.9zM168.4 144.8h0.9v0.9h-0.9zM161.9 142.7h0.9v0.9h-0.9zM177.9 149.9h0.9v0.9h-0.9zM181.4 148.1h0.9v0.9h-0.9zM160.3 152.4h0.9v0.9h-0.9zM159.3 151.2h0.9v0.9h-0.9zM158.1 156.2h0.9v0.9h-0.9z" fill="#000" fill-opacity="0.5"/>
<path d="M160.2 123.4h0.9v0.9h-0.9zM176.5 128.9h0.9v0.9h-0.9zM161.5 113.3h0.9v0.9h-0.9zM169.8 126.0h0.9v0.9h-0.9zM174.1 112.8h0.9v0.9h-0.9zM161.9 116.7h0.9v0.9h-0.9z" fill="#000" fill-opacity="0.3"/>
<path d="M38.3 199.1h0.9v0.9h-0.9zM41.1 200.7h0.9v0.9h-0.9zM40.1 193.5h0.9v0.9h-0.9zM41.0 196.2h0.9v0.9h-0.9zM44.7 193.7h0.9v0.9h-0.9zM37.7 192.0h0.9v0.9h-0.9zM42.9 196.8h0.9v0.9h-0.9zM37.6 197.8h0.9v0.9h-0.9zM42.2 197.8h0.9v0.9h-0.9zM37.1 199.9h0.9v0.9h-0.9zM40.0 195.0h0.9v0.9h-0.9zM38.7 189.2h0.9v0.9h-0.9zM39.4 197.9h0.9v0.9h-0.9zM43.4 192.0h0.9v0.9h-0.9zM43.8 197.5h0.9v0.9h-0.9zM40.6 191.8h0.9v0.9h-0.9zM38.8 197.6h0.9v0.9h-0.9zM43.3 191.9h0.9v0.9h-0.9zM37.3 199.3h0.9v0.9h-0.9zM36.4 186.0h0.9v0.9h-0.9zM40.4 191.1h0.9v0.9h-0.9zM40.4 196.3h0.9v0.9h-0.9zM41.3 192.1h0.9v0.9h-0.9zM40.7 191.2h0.9v0.9h-0.9zM48.8 192.2h0.9v0.9h-0.9zM38.3 196.9h0.9v0.9h-0.9zM39.5 191.1h0.9v0.9h-0.9zM38.6 189.0h0.9v0.9h-0.9zM43.5 191.9h0.9v0.9h-0.9zM38.4 192.9h0.9v0.9h-0.9zM37.3 190.0h0.9v0.9h-0.9zM40.2 194.1h0.9v0.9h-0.9zM38.9 197.9h0.9v0.9h-0.9zM41.6 197.7h0.9v0.9h-0.9zM34.8 194.3h0.9v0.9h-0.9zM43.0 190.2h0.9v0.9h-0.9zM41.4 198.8h0.9v0.9h-0.9zM39.6 196.7h0.9v0.9h-0.9zM38.8 193.1h0.9v0.9h-0.9zM41.8 197.4h0.9v0.9h-0.9zM39.8 193.6h0.9v0.9h-0.9zM41.8 196.1h0.9v0.9h-0.9zM45.9 191.6h0.9v0.9h-0.9zM40.8 195.1h0.9v0.9h-0.9zM43.9 199.0h0.9v0.9h-0.9zM42.4 194.0h0.9v0.9h-0.9zM38.9 190.9h0.9v0.9h-0.9zM44.5 187.1h0.9v0.9h-0.9zM42.8 188.2h0.9v0.9h-0.9zM37.9 191.6h0.9v0.9h-0.9zM41.6 193.7h0.9v0.9h-0.9zM46.1 196.3h0.9v0.9h-0.9zM43.4 195.4h0.9v0.9h-0.9zM42.9 192.4h0.9v0.9h-0.9zM39.4 194.8h0.9v0.9h-0.9zM40.6 194.0h0.9v0.9h-0.9zM42.0 194.9h0.9v0.9h-0.9zM38.6 192.7h0.9v0.9h-0.9zM35.7 196.7h0.9v0.9h-0.9zM45.5 192.3h0.9v0.9h-0.9zM38.7 185.6h0.9v0.9h-0.9zM35.8 196.5h0.9v0.9h-0.9zM33.0 202.6h0.9v0.9h-0.9zM45.5 198.9h0.9v0.9h-0.9zM40.1 197.2h0.9v0.9h-0.9zM38.1 195.4h0.9v0.9h-0.9zM37.4 196.9h0.9v0.9h-0.9zM43.8 193.4h0.9v0.9h-0.9zM39.7 190.7h0.9v0.9h-0.9zM36.8 194.8h0.9v0.9h-0.9zM41.8 198.0h0.9v0.9h-0.9zM40.7 189.5h0.9v0.9h-0.9zM38.8 191.8h0.9v0.9h-0.9zM38.7 194.5h0.9v0.9h-0.9zM38.7 197.4h0.9v0.9h-0.9zM40.7 197.4h0.9v0.9h-0.9zM39.2 197.0h0.9v0.9h-0.9zM37.3 192.7h0.9v0.9h-0.9zM43.6 196.1h0.9v0.9h-0.9zM44.7 201.1h0.9v0.9h-0.9zM40.2 195.1h0.9v0.9h-0.9zM40.7 195.5h0.9v0.9h-0.9zM43.6 199.0h0.9v0.9h-0.9zM38.7 191.6h0.9v0.9h-0.9zM41.7 198.7h0.9v0.9h-0.9zM44.4 193.6h0.9v0.9h-0.9zM40.0 193.1h0.9v0.9h-0.9zM34.9 192.8h0.9v0.9h-0.9zM37.2 197.1h0.9v0.9h-0.9zM38.6 192.5h0.9v0.9h-0.9zM40.6 196.6h0.9v0.9h-0.9zM35.8 194.3h0.9v0.9h-0.9zM36.4 194.0h0.9v0.9h-0.9zM41.9 195.3h0.9v0.9h-0.9zM46.9 194.2h0.9v0.9h-0.9zM42.6 196.0h0.9v0.9h-0.9zM40.2 194.8h0.9v0.9h-0.9zM44.1 197.4h0.9v0.9h-0.9zM44.0 190.1h0.9v0.9h-0.9zM43.7 195.9h0.9v0.9h-0.9zM37.1 195.8h0.9v0.9h-0.9zM46.3 190.5h0.9v0.9h-0.9zM36.5 195.1h0.9v0.9h-0.9zM39.7 195.4h0.9v0.9h-0.9zM33.9 188.4h0.9v0.9h-0.9zM41.6 189.2h0.9v0.9h-0.9zM40.1 194.1h0.9v0.9h-0.9zM42.6 195.2h0.9v0.9h-0.9zM39.9 187.6h0.9v0.9h-0.9zM37.1 191.7h0.9v0.9h-0.9zM40.4 192.5h0.9v0.9h-0.9zM36.4 193.4h0.9v0.9h-0.9zM46.8 192.8h0.9v0.9h-0.9zM35.7 190.9h0.9v0.9h-0.9zM42.6 195.2h0.9v0.9h-0.9zM37.4 195.8h0.9v0.9h-0.9zM38.4 197.5h0.9v0.9h-0.9zM39.0 190.7h0.9v0.9h-0.9zM42.9 194.0h0.9v0.9h-0.9zM40.7 196.3h0.9v0.9h-0.9zM41.0 197.3h0.9v0.9h-0.9zM36.6 197.2h0.9v0.9h-0.9zM43.1 189.3h0.9v0.9h-0.9zM39.9 189.9h0.9v0.9h-0.9zM39.3 194.0h0.9v0.9h-0.9zM45.0 192.8h0.9v0.9h-0.9zM43.5 186.2h0.9v0.9h-0.9zM40.9 201.6h0.9v0.9h-0.9zM43.0 194.2h0.9v0.9h-0.9zM37.2 200.2h0.9v0.9h-0.9zM40.2 194.6h0.9v0.9h-0.9zM41.3 196.1h0.9v0.9h-0.9zM39.5 196.4h0.9v0.9h-0.9zM38.8 194.5h0.9v0.9h-0.9zM40.4 192.2h0.9v0.9h-0.9zM37.3 193.8h0.9v0.9h-0.9zM40.4 199.3h0.9v0.9h-0.9zM44.1 189.9h0.9v0.9h-0.9zM42.3 191.9h0.9v0.9h-0.9zM41.6 194.2h0.9v0.9h-0.9zM39.1 194.8h0.9v0.9h-0.9zM46.9 194.4h0.9v0.9h-0.9zM41.0 187.1h0.9v0.9h-0.9zM37.6 195.7h0.9v0.9h-0.9zM47.3 189.9h0.9v0.9h-0.9zM47.0 193.1h0.9v0.9h-0.9zM41.0 196.0h0.9v0.9h-0.9zM42.7 195.8h0.9v0.9h-0.9zM42.1 198.1h0.9v0.9h-0.9zM41.3 194.8h0.9v0.9h-0.9zM43.3 198.6h0.9v0.9h-0.9zM38.9 191.1h0.9v0.9h-0.9zM38.9 195.4h0.9v0.9h-0.9zM37.9 193.1h0.9v0.9h-0.9zM42.1 193.5h0.9v0.9h-0.9zM40.8 197.5h0.9v0.9h-0.9zM40.6 200.9h0.9v0.9h-0.9zM43.8 204.5h0.9v0.9h-0.9zM39.3 195.9h0.9v0.9h-0.9zM40.3 185.3h0.9v0.9h-0.9zM46.6 194.9h0.9v0.9h-0.9zM46.5 189.9h0.9v0.9h-0.9zM43.0 193.5h0.9v0.9h-0.9zM41.2 186.2h0.9v0.9h-0.9zM42.8 193.2h0.9v0.9h-0.9zM37.4 194.6h0.9v0.9h-0.9zM42.9 197.3h0.9v0.9h-0.9zM43.8 196.2h0.9v0.9h-0.9zM40.7 197.8h0.9v0.9h-0.9zM36.6 190.0h0.9v0.9h-0.9zM42.9 198.6h0.9v0.9h-0.9zM39.5 194.6h0.9v0.9h-0.9zM40.9 194.4h0.9v0.9h-0.9zM38.7 193.2h0.9v0.9h-0.9zM41.5 201.2h0.9v0.9h-0.9zM36.9 192.4h0.9v0.9h-0.9zM43.0 192.0h0.9v0.9h-0.9zM40.1 196.7h0.9v0.9h-0.9zM39.9 194.5h0.9v0.9h-0.9zM44.7 190.8h0.9v0.9h-0.9zM48.2 195.5h0.9v0.9h-0.9zM40.4 191.9h0.9v0.9h-0.9zM40.1 197.1h0.9v0.9h-0.9zM38.0 189.9h0.9v0.9h-0.9zM41.8 194.6h0.9v0.9h-0.9zM43.8 194.0h0.9v0.9h-0.9zM41.8 197.5h0.9v0.9h-0.9zM40.0 194.4h0.9v0.9h-0.9zM43.6 196.1h0.9v0.9h-0.9zM42.1 194.5h0.9v0.9h-0.9zM36.6 193.3h0.9v0.9h-0.9zM43.1 191.1h0.9v0.9h-0.9zM45.6 195.7h0.9v0.9h-0.9zM43.4 194.5h0.9v0.9h-0.9zM43.8 198.5h0.9v0.9h-0.9zM40.2 192.4h0.9v0.9h-0.9zM37.8 194.7h0.9v0.9h-0.9zM43.9 195.8h0.9v0.9h-0.9zM46.7 192.8h0.9v0.9h-0.9zM40.2 193.4h0.9v0.9h-0.9zM38.7 193.5h0.9v0.9h-0.9zM40.9 195.6h0.9v0.9h-0.9zM42.6 199.6h0.9v0.9h-0.9zM40.1 196.0h0.9v0.9h-0.9zM40.5 189.8h0.9v0.9h-0.9zM43.7 191.6h0.9v0.9h-0.9zM45.8 194.2h0.9v0.9h-0.9zM43.3 196.7h0.9v0.9h-0.9zM41.4 195.0h0.9v0.9h-0.9zM43.6 196.4h0.9v0.9h-0.9zM42.3 192.0h0.9v0.9h-0.9zM40.5 202.7h0.9v0.9h-0.9zM38.7 193.5h0.9v0.9h-0.9zM44.4 189.7h0.9v0.9h-0.9zM41.7 194.5h0.9v0.9h-0.9zM48.3 200.2h0.9v0.9h-0.9zM44.0 191.5h0.9v0.9h-0.9zM42.0 196.3h0.9v0.9h-0.9zM40.7 195.8h0.9v0.9h-0.9zM42.6 199.4h0.9v0.9h-0.9zM44.5 195.4h0.9v0.9h-0.9zM42.2 197.2h0.9v0.9h-0.9zM46.1 195.4h0.9v0.9h-0.9zM40.5 195.9h0.9v0.9h-0.9zM39.8 191.6h0.9v0.9h-0.9zM41.1 190.9h0.9v0.9h-0.9zM34.7 195.1h0.9v0.9h-0.9zM42.8 194.4h0.9v0.9h-0.9zM37.9 194.8h0.9v0.9h-0.9zM38.7 198.4h0.9v0.9h-0.9zM37.6 190.4h0.9v0.9h-0.9zM43.8 194.3h0.9v0.9h-0.9zM41.4 198.0h0.9v0.9h-0.9zM38.8 190.5h0.9v0.9h-0.9zM40.3 191.4h0.9v0.9h-0.9zM41.1 188.6h0.9v0.9h-0.9zM40.4 196.4h0.9v0.9h-0.9zM38.0 195.8h0.9v0.9h-0.9zM38.9 189.6h0.9v0.9h-0.9zM43.9 198.0h0.9v0.9h-0.9zM44.4 192.8h0.9v0.9h-0.9zM45.3 193.3h0.9v0.9h-0.9zM39.4 195.8h0.9v0.9h-0.9zM38.5 196.8h0.9v0.9h-0.9zM36.4 191.3h0.9v0.9h-0.9zM40.6 195.1h0.9v0.9h-0.9zM39.6 194.1h0.9v0.9h-0.9zM39.5 198.9h0.9v0.9h-0.9zM44.5 192.0h0.9v0.9h-0.9zM41.8 198.8h0.9v0.9h-0.9zM39.0 188.7h0.9v0.9h-0.9zM40.9 196.3h0.9v0.9h-0.9zM36.7 199.3h0.9v0.9h-0.9zM38.9 196.5h0.9v0.9h-0.9zM40.6 198.5h0.9v0.9h-0.9zM38.9 197.6h0.9v0.9h-0.9zM37.5 189.8h0.9v0.9h-0.9zM37.7 192.4h0.9v0.9h-0.9zM44.8 198.1h0.9v0.9h-0.9zM37.7 195.2h0.9v0.9h-0.9zM38.7 193.9h0.9v0.9h-0.9zM41.7 199.0h0.9v0.9h-0.9zM39.6 195.9h0.9v0.9h-0.9zM38.5 187.9h0.9v0.9h-0.9zM41.9 190.7h0.9v0.9h-0.9zM38.4 194.6h0.9v0.9h-0.9zM45.5 193.1h0.9v0.9h-0.9zM38.0 191.2h0.9v0.9h-0.9zM38.7 193.6h0.9v0.9h-0.9zM42.4 192.9h0.9v0.9h-0.9zM35.5 199.8h0.9v0.9h-0.9zM40.9 194.2h0.9v0.9h-0.9zM40.2 194.0h0.9v0.9h-0.9zM43.8 193.2h0.9v0.9h-0.9zM40.4 192.8h0.9v0.9h-0.9zM41.1 194.3h0.9v0.9h-0.9zM43.8 193.8h0.9v0.9h-0.9zM41.3 194.3h0.9v0.9h-0.9zM37.8 194.1h0.9v0.9h-0.9zM37.6 191.6h0.9v0.9h-0.9z" fill="#000" fill-opacity="0.85"/>
<path d="M42.3 191.7h0.9v0.9h-0.9zM33.6 197.4h0.9v0.9h-0.9zM44.7 185.4h0.9v0.9h-0.9zM52.8 196.2h0.9v0.9h-0.9zM40.3 202.4h0.9v0.9h-0.9zM41.5 192.4h0.9v0.9h-0.9zM56.4 189.6h0.9v0.9h-0.9zM40.3 201.1h0.9v0.9h-0.9zM33.5 195.4h0.9v0.9h-0.9zM43.7 210.4h0.9v0.9h-0.9zM34.8 195.7h0.9v0.9h-0.9zM45.6 196.5h0.9v0.9h-0.9zM32.6 198.4h0.9v0.9h-0.9zM41.8 198.7h0.9v0.9h-0.9zM48.9 202.1h0.9v0.9h-0.9zM43.9 197.9h0.9v0.9h-0.9zM33.3 195.2h0.9v0.9h-0.9zM42.5 193.6h0.9v0.9h-0.9zM41.7 191.0h0.9v0.9h-0.9zM51.7 208.9h0.9v0.9h-0.9zM38.3 198.4h0.9v0.9h-0.9zM39.4 203.6h0.9v0.9h-0.9zM44.0 196.5h0.9v0.9h-0.9zM39.4 196.8h0.9v0.9h-0.9zM34.0 200.1h0.9v0.9h-0.9zM36.0 199.2h0.9v0.9h-0.9zM41.9 202.6h0.9v0.9h-0.9zM40.9 202.1h0.9v0.9h-0.9zM34.5 199.7h0.9v0.9h-0.9zM39.4 197.2h0.9v0.9h-0.9zM41.5 201.6h0.9v0.9h-0.9zM26.9 197.9h0.9v0.9h-0.9zM30.5 203.2h0.9v0.9h-0.9zM27.2 190.0h0.9v0.9h-0.9zM29.3 205.8h0.9v0.9h-0.9zM32.0 196.7h0.9v0.9h-0.9zM37.2 185.2h0.9v0.9h-0.9zM38.6 200.0h0.9v0.9h-0.9zM39.7 201.6h0.9v0.9h-0.9zM38.5 196.0h0.9v0.9h-0.9zM38.3 198.1h0.9v0.9h-0.9zM54.3 198.2h0.9v0.9h-0.9zM42.4 192.3h0.9v0.9h-0.9zM35.7 204.8h0.9v0.9h-0.9zM33.2 190.5h0.9v0.9h-0.9zM40.3 193.4h0.9v0.9h-0.9zM54.7 181.8h0.9v0.9h-0.9zM43.5 200.3h0.9v0.9h-0.9zM33.2 192.1h0.9v0.9h-0.9zM44.0 205.8h0.9v0.9h-0.9zM34.6 186.5h0.9v0.9h-0.9zM47.8 205.1h0.9v0.9h-0.9zM38.7 182.7h0.9v0.9h-0.9zM51.2 194.8h0.9v0.9h-0.9zM48.9 195.7h0.9v0.9h-0.9zM38.4 193.3h0.9v0.9h-0.9zM51.3 204.6h0.9v0.9h-0.9zM26.0 190.4h0.9v0.9h-0.9zM53.4 193.8h0.9v0.9h-0.9zM31.5 196.0h0.9v0.9h-0.9zM40.2 195.4h0.9v0.9h-0.9zM37.6 194.1h0.9v0.9h-0.9zM37.8 198.0h0.9v0.9h-0.9zM35.3 194.3h0.9v0.9h-0.9zM40.0 203.8h0.9v0.9h-0.9zM43.6 195.3h0.9v0.9h-0.9zM44.8 198.4h0.9v0.9h-0.9zM48.6 199.0h0.9v0.9h-0.9zM53.6 204.1h0.9v0.9h-0.9zM40.7 193.5h0.9v0.9h-0.9zM47.2 199.1h0.9v0.9h-0.9zM40.3 187.1h0.9v0.9h-0.9zM28.2 198.1h0.9v0.9h-0.9zM46.4 200.8h0.9v0.9h-0.9zM32.0 202.2h0.9v0.9h-0.9zM37.3 198.3h0.9v0.9h-0.9zM43.9 191.2h0.9v0.9h-0.9zM36.9 183.6h0.9v0.9h-0.9zM34.6 185.2h0.9v0.9h-0.9zM44.1 196.4h0.9v0.9h-0.9zM47.4 198.1h0.9v0.9h-0.9zM36.6 198.1h0.9v0.9h-0.9zM38.3 199.7h0.9v0.9h-0.9zM43.2 190.1h0.9v0.9h-0.9zM41.0 196.3h0.9v0.9h-0.9zM38.8 201.4h0.9v0.9h-0.9zM53.0 193.8h0.9v0.9h-0.9zM38.5 182.5h0.9v0.9h-0.9zM40.1 193.4h0.9v0.9h-0.9zM25.9 197.7h0.9v0.9h-0.9zM45.1 191.6h0.9v0.9h-0.9zM38.4 190.2h0.9v0.9h-0.9zM46.3 186.9h0.9v0.9h-0.9zM38.8 207.7h0.9v0.9h-0.9zM41.4 198.8h0.9v0.9h-0.9zM40.0 189.0h0.9v0.9h-0.9zM40.8 198.4h0.9v0.9h-0.9zM33.8 198.0h0.9v0.9h-0.9zM49.7 202.4h0.9v0.9h-0.9zM29.9 190.1h0.9v0.9h-0.9z" fill="#000" fill-opacity="0.45"/>
<path d="M63.7 209.8h0.9v0.9h-0.9zM36.2 205.3h0.9v0.9h-0.9zM49.0 216.5h0.9v0.9h-0.9zM52.9 208.8h0.9v0.9h-0.9zM57.5 210.7h0.9v0.9h-0.9zM57.7 206.1h0.9v0.9h-0.9zM43.1 209.3h0.9v0.9h-0.9zM39.2 206.1h0.9v0.9h-0.9zM63.3 208.1h0.9v0.9h-0.9zM48.8 213.3h0.9v0.9h-0.9zM39.6 208.8h0.9v0.9h-0.9zM34.7 214.7h0.9v0.9h-0.9zM57.3 218.4h0.9v0.9h-0.9zM58.8 213.2h0.9v0.9h-0.9zM49.4 204.5h0.9v0.9h-0.9zM43.1 219.4h0.9v0.9h-0.9zM52.4 207.2h0.9v0.9h-0.9zM63.3 209.5h0.9v0.9h-0.9zM49.7 212.4h0.9v0.9h-0.9zM56.8 213.9h0.9v0.9h-0.9zM60.0 209.5h0.9v0.9h-0.9zM55.7 211.0h0.9v0.9h-0.9zM46.5 214.0h0.9v0.9h-0.9zM36.1 211.3h0.9v0.9h-0.9zM53.7 208.5h0.9v0.9h-0.9zM58.3 210.6h0.9v0.9h-0.9zM62.7 210.2h0.9v0.9h-0.9zM35.2 208.7h0.9v0.9h-0.9zM33.9 213.6h0.9v0.9h-0.9zM51.6 212.2h0.9v0.9h-0.9zM58.1 210.6h0.9v0.9h-0.9zM32.6 215.4h0.9v0.9h-0.9zM50.9 217.0h0.9v0.9h-0.9zM39.1 214.4h0.9v0.9h-0.9zM64.0 209.5h0.9v0.9h-0.9z" fill="#000" fill-opacity="0.4"/>
<path d="M103.8 187.7h0.9v0.9h-0.9zM100.6 189.2h0.9v0.9h-0.9zM105.1 188.7h0.9v0.9h-0.9zM104.6 191.0h0.9v0.9h-0.9zM104.3 188.1h0.9v0.9h-0.9zM101.2 191.3h0.9v0.9h-0.9zM106.1 192.6h0.9v0.9h-0.9zM102.5 195.3h0.9v0.9h-0.9zM109.8 196.7h0.9v0.9h-0.9zM107.4 194.4h0.9v0.9h-0.9zM100.2 187.7h0.9v0.9h-0.9zM102.7 189.0h0.9v0.9h-0.9zM94.1 188.4h0.9v0.9h-0.9zM100.6 185.5h0.9v0.9h-0.9zM103.0 196.3h0.9v0.9h-0.9zM102.6 191.1h0.9v0.9h-0.9zM102.9 187.6h0.9v0.9h-0.9zM99.2 189.3h0.9v0.9h-0.9zM101.4 188.5h0.9v0.9h-0.9zM101.3 188.4h0.9v0.9h-0.9zM96.7 191.3h0.9v0.9h-0.9zM97.9 190.1h0.9v0.9h-0.9zM104.6 183.7h0.9v0.9h-0.9zM99.6 188.5h0.9v0.9h-0.9zM101.8 190.3h0.9v0.9h-0.9zM106.7 193.5h0.9v0.9h-0.9zM97.1 192.7h0.9v0.9h-0.9zM105.1 190.8h0.9v0.9h-0.9zM98.8 185.7h0.9v0.9h-0.9zM95.3 186.2h0.9v0.9h-0.9zM102.5 195.5h0.9v0.9h-0.9zM99.1 183.9h0.9v0.9h-0.9zM97.4 186.7h0.9v0.9h-0.9zM97.8 186.7h0.9v0.9h-0.9zM105.4 196.2h0.9v0.9h-0.9zM95.0 193.5h0.9v0.9h-0.9zM95.2 188.5h0.9v0.9h-0.9zM103.3 190.6h0.9v0.9h-0.9zM104.0 190.1h0.9v0.9h-0.9zM107.0 186.3h0.9v0.9h-0.9zM101.1 190.7h0.9v0.9h-0.9zM92.5 186.5h0.9v0.9h-0.9zM102.0 193.6h0.9v0.9h-0.9zM106.4 192.9h0.9v0.9h-0.9zM104.6 199.0h0.9v0.9h-0.9zM101.9 187.2h0.9v0.9h-0.9zM100.1 193.4h0.9v0.9h-0.9zM99.4 190.8h0.9v0.9h-0.9zM105.3 191.9h0.9v0.9h-0.9zM99.7 193.0h0.9v0.9h-0.9zM106.1 190.8h0.9v0.9h-0.9zM99.8 186.3h0.9v0.9h-0.9zM97.9 189.1h0.9v0.9h-0.9zM95.8 192.8h0.9v0.9h-0.9zM98.1 191.2h0.9v0.9h-0.9zM105.6 191.9h0.9v0.9h-0.9zM96.9 193.0h0.9v0.9h-0.9zM93.2 192.8h0.9v0.9h-0.9zM100.3 190.9h0.9v0.9h-0.9zM98.5 188.8h0.9v0.9h-0.9zM103.7 189.1h0.9v0.9h-0.9zM100.6 186.4h0.9v0.9h-0.9zM102.6 186.8h0.9v0.9h-0.9zM100.2 186.2h0.9v0.9h-0.9zM101.9 185.6h0.9v0.9h-0.9zM100.8 194.9h0.9v0.9h-0.9zM103.9 193.3h0.9v0.9h-0.9zM107.2 187.3h0.9v0.9h-0.9zM99.9 191.4h0.9v0.9h-0.9zM103.9 195.2h0.9v0.9h-0.9zM105.8 191.0h0.9v0.9h-0.9zM102.8 189.7h0.9v0.9h-0.9zM97.5 182.1h0.9v0.9h-0.9zM97.6 191.5h0.9v0.9h-0.9zM110.7 192.3h0.9v0.9h-0.9zM100.8 188.8h0.9v0.9h-0.9zM98.4 192.7h0.9v0.9h-0.9zM104.6 189.8h0.9v0.9h-0.9zM109.4 198.4h0.9v0.9h-0.9zM103.8 194.2h0.9v0.9h-0.9zM103.4 187.6h0.9v0.9h-0.9zM94.5 189.3h0.9v0.9h-0.9zM101.2 186.5h0.9v0.9h-0.9zM103.8 191.0h0.9v0.9h-0.9zM104.9 189.8h0.9v0.9h-0.9zM99.9 190.6h0.9v0.9h-0.9zM101.4 189.2h0.9v0.9h-0.9zM97.4 188.4h0.9v0.9h-0.9zM111.0 196.6h0.9v0.9h-0.9zM100.0 193.5h0.9v0.9h-0.9zM103.0 191.4h0.9v0.9h-0.9zM102.4 194.3h0.9v0.9h-0.9zM104.0 191.0h0.9v0.9h-0.9zM102.8 194.3h0.9v0.9h-0.9zM106.2 188.8h0.9v0.9h-0.9zM101.0 188.1h0.9v0.9h-0.9zM99.9 191.1h0.9v0.9h-0.9zM96.1 190.5h0.9v0.9h-0.9zM103.6 192.3h0.9v0.9h-0.9zM102.5 198.1h0.9v0.9h-0.9zM97.8 193.2h0.9v0.9h-0.9zM106.2 187.5h0.9v0.9h-0.9zM96.8 187.6h0.9v0.9h-0.9zM101.1 191.0h0.9v0.9h-0.9zM98.7 190.8h0.9v0.9h-0.9zM104.4 197.5h0.9v0.9h-0.9zM104.0 191.5h0.9v0.9h-0.9zM94.8 189.0h0.9v0.9h-0.9zM106.0 188.0h0.9v0.9h-0.9zM100.1 192.0h0.9v0.9h-0.9zM104.1 188.7h0.9v0.9h-0.9zM106.2 190.4h0.9v0.9h-0.9zM99.5 192.5h0.9v0.9h-0.9zM99.8 187.1h0.9v0.9h-0.9zM99.9 191.8h0.9v0.9h-0.9zM103.4 192.1h0.9v0.9h-0.9zM94.9 186.4h0.9v0.9h-0.9zM99.7 188.1h0.9v0.9h-0.9zM104.6 187.3h0.9v0.9h-0.9zM99.5 193.9h0.9v0.9h-0.9zM93.1 188.6h0.9v0.9h-0.9zM99.4 189.6h0.9v0.9h-0.9zM103.7 192.3h0.9v0.9h-0.9zM101.2 188.0h0.9v0.9h-0.9zM100.6 186.7h0.9v0.9h-0.9zM108.8 193.4h0.9v0.9h-0.9zM109.1 192.3h0.9v0.9h-0.9zM98.6 188.0h0.9v0.9h-0.9zM98.9 193.2h0.9v0.9h-0.9zM98.7 187.0h0.9v0.9h-0.9zM96.9 188.8h0.9v0.9h-0.9zM100.8 192.2h0.9v0.9h-0.9zM107.3 193.0h0.9v0.9h-0.9zM100.8 192.8h0.9v0.9h-0.9zM102.9 191.8h0.9v0.9h-0.9zM96.1 191.9h0.9v0.9h-0.9zM97.0 192.1h0.9v0.9h-0.9zM103.4 191.5h0.9v0.9h-0.9zM101.2 189.8h0.9v0.9h-0.9zM100.1 196.1h0.9v0.9h-0.9zM103.9 189.6h0.9v0.9h-0.9zM96.8 194.0h0.9v0.9h-0.9zM99.1 193.7h0.9v0.9h-0.9zM103.8 191.2h0.9v0.9h-0.9zM103.9 192.6h0.9v0.9h-0.9zM98.2 184.1h0.9v0.9h-0.9zM98.5 184.9h0.9v0.9h-0.9zM100.8 193.6h0.9v0.9h-0.9zM99.2 190.3h0.9v0.9h-0.9zM105.9 196.1h0.9v0.9h-0.9zM100.0 199.3h0.9v0.9h-0.9zM101.9 192.1h0.9v0.9h-0.9zM105.9 193.0h0.9v0.9h-0.9zM103.7 196.5h0.9v0.9h-0.9zM101.4 193.1h0.9v0.9h-0.9zM104.6 191.8h0.9v0.9h-0.9zM99.5 185.9h0.9v0.9h-0.9zM106.3 196.5h0.9v0.9h-0.9zM105.8 193.1h0.9v0.9h-0.9zM100.3 187.2h0.9v0.9h-0.9zM100.2 187.5h0.9v0.9h-0.9zM94.7 190.4h0.9v0.9h-0.9zM103.4 191.9h0.9v0.9h-0.9zM103.7 193.7h0.9v0.9h-0.9zM100.8 185.2h0.9v0.9h-0.9zM101.2 186.0h0.9v0.9h-0.9zM107.4 189.4h0.9v0.9h-0.9zM95.2 186.1h0.9v0.9h-0.9zM102.1 189.1h0.9v0.9h-0.9zM102.2 184.0h0.9v0.9h-0.9zM97.5 196.0h0.9v0.9h-0.9zM102.7 192.2h0.9v0.9h-0.9zM101.0 187.8h0.9v0.9h-0.9zM99.8 193.2h0.9v0.9h-0.9zM100.3 191.5h0.9v0.9h-0.9zM102.1 192.8h0.9v0.9h-0.9zM98.8 194.2h0.9v0.9h-0.9zM99.9 188.9h0.9v0.9h-0.9zM107.7 198.8h0.9v0.9h-0.9zM101.0 187.3h0.9v0.9h-0.9zM109.7 193.6h0.9v0.9h-0.9zM100.7 186.6h0.9v0.9h-0.9zM102.6 192.8h0.9v0.9h-0.9zM98.0 188.1h0.9v0.9h-0.9zM102.9 190.2h0.9v0.9h-0.9zM94.8 189.5h0.9v0.9h-0.9zM104.4 188.4h0.9v0.9h-0.9zM102.9 194.4h0.9v0.9h-0.9zM102.2 194.9h0.9v0.9h-0.9zM100.0 190.9h0.9v0.9h-0.9zM98.7 190.7h0.9v0.9h-0.9zM104.8 192.6h0.9v0.9h-0.9zM96.8 182.8h0.9v0.9h-0.9zM101.1 194.7h0.9v0.9h-0.9zM103.5 189.8h0.9v0.9h-0.9zM104.6 195.6h0.9v0.9h-0.9zM96.0 191.7h0.9v0.9h-0.9zM99.6 193.4h0.9v0.9h-0.9zM104.4 194.1h0.9v0.9h-0.9zM103.3 193.3h0.9v0.9h-0.9zM97.4 191.7h0.9v0.9h-0.9zM102.3 196.4h0.9v0.9h-0.9zM104.9 190.1h0.9v0.9h-0.9zM104.7 188.4h0.9v0.9h-0.9zM101.1 191.8h0.9v0.9h-0.9zM101.2 192.9h0.9v0.9h-0.9zM102.5 192.0h0.9v0.9h-0.9zM105.8 194.9h0.9v0.9h-0.9zM105.0 192.3h0.9v0.9h-0.9zM101.5 191.8h0.9v0.9h-0.9zM109.4 191.8h0.9v0.9h-0.9zM101.7 193.0h0.9v0.9h-0.9zM98.9 192.3h0.9v0.9h-0.9zM96.8 189.1h0.9v0.9h-0.9zM103.5 189.0h0.9v0.9h-0.9zM105.3 192.5h0.9v0.9h-0.9zM100.4 191.0h0.9v0.9h-0.9zM101.9 190.9h0.9v0.9h-0.9zM99.3 190.1h0.9v0.9h-0.9zM100.2 191.1h0.9v0.9h-0.9zM105.1 190.3h0.9v0.9h-0.9zM99.4 190.9h0.9v0.9h-0.9zM103.0 190.8h0.9v0.9h-0.9zM96.1 183.9h0.9v0.9h-0.9zM101.8 192.3h0.9v0.9h-0.9zM104.9 194.3h0.9v0.9h-0.9zM94.5 188.8h0.9v0.9h-0.9zM98.6 190.9h0.9v0.9h-0.9zM99.5 193.0h0.9v0.9h-0.9zM102.8 190.7h0.9v0.9h-0.9zM99.7 192.9h0.9v0.9h-0.9zM99.4 191.9h0.9v0.9h-0.9zM105.5 198.8h0.9v0.9h-0.9zM92.2 188.3h0.9v0.9h-0.9zM104.1 190.1h0.9v0.9h-0.9zM102.5 188.4h0.9v0.9h-0.9zM100.4 188.3h0.9v0.9h-0.9zM96.3 191.8h0.9v0.9h-0.9zM107.2 196.9h0.9v0.9h-0.9zM106.2 189.8h0.9v0.9h-0.9zM103.8 192.2h0.9v0.9h-0.9zM101.2 185.3h0.9v0.9h-0.9zM94.8 193.0h0.9v0.9h-0.9zM98.8 190.9h0.9v0.9h-0.9zM103.8 188.7h0.9v0.9h-0.9zM99.3 190.7h0.9v0.9h-0.9zM94.8 195.0h0.9v0.9h-0.9zM98.6 190.3h0.9v0.9h-0.9zM99.3 184.4h0.9v0.9h-0.9zM105.7 193.2h0.9v0.9h-0.9zM102.3 194.3h0.9v0.9h-0.9zM99.4 195.8h0.9v0.9h-0.9zM95.7 189.1h0.9v0.9h-0.9zM101.6 193.5h0.9v0.9h-0.9zM101.1 186.9h0.9v0.9h-0.9zM99.3 191.9h0.9v0.9h-0.9zM98.1 194.1h0.9v0.9h-0.9zM99.4 186.4h0.9v0.9h-0.9zM102.7 189.1h0.9v0.9h-0.9zM101.4 187.9h0.9v0.9h-0.9z" fill="#000" fill-opacity="0.85"/>
<path d="M101.0 195.4h0.9v0.9h-0.9zM102.4 193.5h0.9v0.9h-0.9zM111.6 214.6h0.9v0.9h-0.9zM104.8 205.4h0.9v0.9h-0.9zM103.2 199.4h0.9v0.9h-0.9zM95.5 189.6h0.9v0.9h-0.9zM103.9 186.6h0.9v0.9h-0.9zM103.3 193.8h0.9v0.9h-0.9zM108.8 200.9h0.9v0.9h-0.9zM100.6 203.0h0.9v0.9h-0.9zM119.5 211.7h0.9v0.9h-0.9zM108.8 208.1h0.9v0.9h-0.9zM109.2 204.1h0.9v0.9h-0.9zM108.4 204.6h0.9v0.9h-0.9zM102.9 192.4h0.9v0.9h-0.9zM112.1 195.2h0.9v0.9h-0.9zM103.4 200.8h0.9v0.9h-0.9zM108.0 207.0h0.9v0.9h-0.9zM118.2 207.2h0.9v0.9h-0.9zM108.1 199.6h0.9v0.9h-0.9zM106.2 202.7h0.9v0.9h-0.9zM114.9 199.0h0.9v0.9h-0.9zM109.2 214.4h0.9v0.9h-0.9zM123.3 214.2h0.9v0.9h-0.9zM97.4 192.4h0.9v0.9h-0.9zM113.2 205.2h0.9v0.9h-0.9zM98.8 198.4h0.9v0.9h-0.9zM111.3 208.0h0.9v0.9h-0.9zM103.0 201.9h0.9v0.9h-0.9zM100.4 190.2h0.9v0.9h-0.9zM115.8 210.3h0.9v0.9h-0.9zM94.7 191.0h0.9v0.9h-0.9zM99.0 206.1h0.9v0.9h-0.9zM111.7 209.3h0.9v0.9h-0.9zM111.4 203.7h0.9v0.9h-0.9zM102.7 204.2h0.9v0.9h-0.9zM115.5 204.2h0.9v0.9h-0.9zM116.4 211.5h0.9v0.9h-0.9zM109.5 204.2h0.9v0.9h-0.9zM115.8 205.6h0.9v0.9h-0.9zM102.0 192.9h0.9v0.9h-0.9zM102.4 197.7h0.9v0.9h-0.9zM115.1 197.3h0.9v0.9h-0.9zM101.3 194.4h0.9v0.9h-0.9zM108.1 187.5h0.9v0.9h-0.9zM110.2 208.8h0.9v0.9h-0.9zM104.6 196.3h0.9v0.9h-0.9zM104.8 201.6h0.9v0.9h-0.9zM108.7 203.1h0.9v0.9h-0.9zM114.0 192.3h0.9v0.9h-0.9zM106.2 206.7h0.9v0.9h-0.9zM110.9 202.0h0.9v0.9h-0.9zM113.3 202.3h0.9v0.9h-0.9zM101.8 192.1h0.9v0.9h-0.9zM124.1 196.7h0.9v0.9h-0.9zM117.7 197.4h0.9v0.9h-0.9zM116.9 213.9h0.9v0.9h-0.9zM109.6 189.6h0.9v0.9h-0.9zM101.2 196.1h0.9v0.9h-0.9zM110.6 207.2h0.9v0.9h-0.9zM122.0 206.4h0.9v0.9h-0.9zM120.5 205.5h0.9v0.9h-0.9zM106.7 190.3h0.9v0.9h-0.9zM118.2 204.2h0.9v0.9h-0.9zM107.8 197.7h0.9v0.9h-0.9zM104.8 192.4h0.9v0.9h-0.9zM117.7 206.5h0.9v0.9h-0.9zM110.7 196.9h0.9v0.9h-0.9zM100.6 204.0h0.9v0.9h-0.9zM111.6 203.8h0.9v0.9h-0.9zM101.6 189.5h0.9v0.9h-0.9zM116.8 201.9h0.9v0.9h-0.9zM104.0 199.2h0.9v0.9h-0.9zM108.9 201.1h0.9v0.9h-0.9zM97.5 194.8h0.9v0.9h-0.9zM117.0 208.8h0.9v0.9h-0.9zM105.3 201.7h0.9v0.9h-0.9zM111.6 199.4h0.9v0.9h-0.9zM116.7 197.4h0.9v0.9h-0.9zM110.3 198.4h0.9v0.9h-0.9zM108.6 194.0h0.9v0.9h-0.9zM114.1 199.8h0.9v0.9h-0.9zM112.8 209.0h0.9v0.9h-0.9zM109.8 204.4h0.9v0.9h-0.9zM115.0 207.4h0.9v0.9h-0.9zM120.4 209.2h0.9v0.9h-0.9zM109.7 205.1h0.9v0.9h-0.9zM107.8 198.4h0.9v0.9h-0.9zM102.5 195.5h0.9v0.9h-0.9zM102.6 199.2h0.9v0.9h-0.9zM109.7 199.6h0.9v0.9h-0.9zM107.7 196.8h0.9v0.9h-0.9zM102.5 201.2h0.9v0.9h-0.9zM104.3 193.6h0.9v0.9h-0.9zM116.6 208.0h0.9v0.9h-0.9zM105.8 204.4h0.9v0.9h-0.9zM111.5 201.9h0.9v0.9h-0.9zM105.3 194.1h0.9v0.9h-0.9zM104.1 206.5h0.9v0.9h-0.9zM97.2 192.8h0.9v0.9h-0.9zM109.8 195.4h0.9v0.9h-0.9zM104.8 196.8h0.9v0.9h-0.9zM108.7 197.1h0.9v0.9h-0.9zM109.1 199.6h0.9v0.9h-0.9zM102.0 202.6h0.9v0.9h-0.9zM111.4 192.7h0.9v0.9h-0.9zM119.5 201.3h0.9v0.9h-0.9zM111.7 206.9h0.9v0.9h-0.9z" fill="#000" fill-opacity="0.45"/>
<path d="M122.5 213.8h0.9v0.9h-0.9zM122.4 213.1h0.9v0.9h-0.9zM122.0 204.7h0.9v0.9h-0.9zM124.0 207.5h0.9v0.9h-0.9zM123.8 205.1h0.9v0.9h-0.9zM122.8 218.4h0.9v0.9h-0.9zM122.5 211.5h0.9v0.9h-0.9zM123.4 211.6h0.9v0.9h-0.9zM123.7 211.8h0.9v0.9h-0.9zM123.2 217.7h0.9v0.9h-0.9zM122.9 213.4h0.9v0.9h-0.9zM122.2 213.5h0.9v0.9h-0.9zM123.1 213.8h0.9v0.9h-0.9zM122.4 206.9h0.9v0.9h-0.9zM121.6 213.1h0.9v0.9h-0.9zM121.9 207.8h0.9v0.9h-0.9zM122.9 206.9h0.9v0.9h-0.9zM123.7 213.3h0.9v0.9h-0.9zM123.8 215.8h0.9v0.9h-0.9zM122.6 214.7h0.9v0.9h-0.9zM122.6 217.3h0.9v0.9h-0.9zM124.0 208.7h0.9v0.9h-0.9zM123.1 215.7h0.9v0.9h-0.9zM123.6 215.5h0.9v0.9h-0.9z" fill="#000" fill-opacity="0.6"/>
<path d="M108.2 205.1h0.9v0.9h-0.9zM119.4 212.8h0.9v0.9h-0.9zM106.2 214.3h0.9v0.9h-0.9zM123.7 205.3h0.9v0.9h-0.9zM105.3 219.6h0.9v0.9h-0.9zM100.1 206.6h0.9v0.9h-0.9zM101.7 208.2h0.9v0.9h-0.9zM111.5 215.8h0.9v0.9h-0.9zM101.0 209.4h0.9v0.9h-0.9zM124.5 218.0h0.9v0.9h-0.9zM115.8 207.8h0.9v0.9h-0.9zM114.2 209.0h0.9v0.9h-0.9zM115.7 215.1h0.9v0.9h-0.9zM110.5 217.8h0.9v0.9h-0.9zM122.1 218.1h0.9v0.9h-0.9zM117.8 208.6h0.9v0.9h-0.9zM110.8 212.5h0.9v0.9h-0.9zM107.1 210.6h0.9v0.9h-0.9zM103.6 214.8h0.9v0.9h-0.9zM107.9 207.6h0.9v0.9h-0.9zM108.8 217.4h0.9v0.9h-0.9zM102.0 215.4h0.9v0.9h-0.9zM123.1 206.8h0.9v0.9h-0.9zM106.4 209.0h0.9v0.9h-0.9zM113.5 209.4h0.9v0.9h-0.9z" fill="#000" fill-opacity="0.4"/>
<path d="M154.6 211.6h0.9v0.9h-0.9zM149.7 214.9h0.9v0.9h-0.9zM151.8 215.8h0.9v0.9h-0.9zM154.4 213.7h0.9v0.9h-0.9zM149.6 212.7h0.9v0.9h-0.9zM151.0 211.8h0.9v0.9h-0.9zM144.1 209.5h0.9v0.9h-0.9zM148.3 218.0h0.9v0.9h-0.9zM149.6 211.6h0.9v0.9h-0.9zM147.4 209.8h0.9v0.9h-0.9zM158.5 214.4h0.9v0.9h-0.9zM153.2 216.7h0.9v0.9h-0.9zM150.7 207.7h0.9v0.9h-0.9zM153.3 209.0h0.9v0.9h-0.9zM150.9 212.9h0.9v0.9h-0.9zM148.9 213.4h0.9v0.9h-0.9zM152.7 207.7h0.9v0.9h-0.9zM147.0 208.2h0.9v0.9h-0.9zM148.6 212.6h0.9v0.9h-0.9zM154.0 214.8h0.9v0.9h-0.9zM151.4 214.8h0.9v0.9h-0.9zM153.6 213.9h0.9v0.9h-0.9zM152.0 206.4h0.9v0.9h-0.9zM146.9 210.0h0.9v0.9h-0.9zM149.6 213.8h0.9v0.9h-0.9zM154.3 216.1h0.9v0.9h-0.9zM150.6 204.5h0.9v0.9h-0.9zM147.2 208.0h0.9v0.9h-0.9zM153.9 216.6h0.9v0.9h-0.9zM150.0 210.8h0.9v0.9h-0.9zM145.2 214.8h0.9v0.9h-0.9zM156.0 212.4h0.9v0.9h-0.9zM143.6 210.5h0.9v0.9h-0.9zM149.6 217.6h0.9v0.9h-0.9zM145.0 214.5h0.9v0.9h-0.9zM143.8 213.1h0.9v0.9h-0.9zM154.0 217.5h0.9v0.9h-0.9zM151.1 211.3h0.9v0.9h-0.9zM153.9 215.3h0.9v0.9h-0.9zM156.3 214.2h0.9v0.9h-0.9zM148.9 212.8h0.9v0.9h-0.9zM142.7 211.9h0.9v0.9h-0.9zM154.0 210.5h0.9v0.9h-0.9zM148.2 214.8h0.9v0.9h-0.9zM144.4 215.2h0.9v0.9h-0.9zM152.5 212.6h0.9v0.9h-0.9zM148.3 216.6h0.9v0.9h-0.9zM156.8 217.4h0.9v0.9h-0.9zM153.2 212.1h0.9v0.9h-0.9zM144.5 207.6h0.9v0.9h-0.9zM151.0 216.2h0.9v0.9h-0.9zM149.0 214.6h0.9v0.9h-0.9zM153.4 212.6h0.9v0.9h-0.9zM154.9 207.2h0.9v0.9h-0.9zM153.0 216.2h0.9v0.9h-0.9zM158.3 214.5h0.9v0.9h-0.9zM152.5 214.1h0.9v0.9h-0.9zM149.0 206.4h0.9v0.9h-0.9zM150.7 211.0h0.9v0.9h-0.9zM148.4 215.2h0.9v0.9h-0.9zM151.6 212.0h0.9v0.9h-0.9zM152.7 208.8h0.9v0.9h-0.9zM149.9 216.3h0.9v0.9h-0.9zM147.8 214.9h0.9v0.9h-0.9zM148.8 207.1h0.9v0.9h-0.9zM149.4 212.5h0.9v0.9h-0.9zM143.2 216.9h0.9v0.9h-0.9zM145.0 209.3h0.9v0.9h-0.9zM149.0 219.2h0.9v0.9h-0.9zM147.3 211.7h0.9v0.9h-0.9zM149.5 217.4h0.9v0.9h-0.9zM144.3 214.7h0.9v0.9h-0.9zM152.1 218.5h0.9v0.9h-0.9zM154.8 216.0h0.9v0.9h-0.9zM150.3 213.0h0.9v0.9h-0.9zM152.2 216.7h0.9v0.9h-0.9zM151.0 212.8h0.9v0.9h-0.9zM153.1 211.8h0.9v0.9h-0.9zM150.9 217.5h0.9v0.9h-0.9zM156.3 212.9h0.9v0.9h-0.9zM145.7 212.1h0.9v0.9h-0.9zM153.3 209.0h0.9v0.9h-0.9zM146.5 209.7h0.9v0.9h-0.9zM149.3 213.2h0.9v0.9h-0.9zM149.7 209.4h0.9v0.9h-0.9zM151.0 209.8h0.9v0.9h-0.9zM153.2 213.7h0.9v0.9h-0.9zM146.6 212.0h0.9v0.9h-0.9zM150.1 208.5h0.9v0.9h-0.9zM153.9 211.2h0.9v0.9h-0.9zM154.1 209.2h0.9v0.9h-0.9zM153.3 212.3h0.9v0.9h-0.9zM150.0 216.3h0.9v0.9h-0.9zM147.4 215.1h0.9v0.9h-0.9zM154.3 213.5h0.9v0.9h-0.9zM147.6 214.2h0.9v0.9h-0.9zM145.5 218.1h0.9v0.9h-0.9zM152.0 210.6h0.9v0.9h-0.9zM155.8 209.0h0.9v0.9h-0.9zM149.0 218.2h0.9v0.9h-0.9zM146.6 211.6h0.9v0.9h-0.9zM152.3 208.2h0.9v0.9h-0.9zM152.0 216.3h0.9v0.9h-0.9zM149.1 214.9h0.9v0.9h-0.9zM146.1 215.3h0.9v0.9h-0.9zM155.6 213.8h0.9v0.9h-0.9zM149.4 219.1h0.9v0.9h-0.9zM155.3 212.5h0.9v0.9h-0.9zM151.6 212.1h0.9v0.9h-0.9zM148.2 218.7h0.9v0.9h-0.9zM149.9 216.4h0.9v0.9h-0.9zM149.8 213.3h0.9v0.9h-0.9zM153.0 218.1h0.9v0.9h-0.9zM151.6 209.5h0.9v0.9h-0.9zM148.4 208.4h0.9v0.9h-0.9zM146.6 208.6h0.9v0.9h-0.9zM147.7 211.1h0.9v0.9h-0.9zM153.4 215.9h0.9v0.9h-0.9zM147.3 212.9h0.9v0.9h-0.9zM144.4 217.1h0.9v0.9h-0.9zM153.2 206.1h0.9v0.9h-0.9zM154.0 216.5h0.9v0.9h-0.9zM146.8 213.0h0.9v0.9h-0.9zM152.7 211.8h0.9v0.9h-0.9zM148.6 210.7h0.9v0.9h-0.9zM147.1 208.2h0.9v0.9h-0.9zM152.3 217.2h0.9v0.9h-0.9zM147.4 209.2h0.9v0.9h-0.9zM152.6 211.6h0.9v0.9h-0.9zM150.3 209.1h0.9v0.9h-0.9zM146.8 205.2h0.9v0.9h-0.9zM153.7 215.5h0.9v0.9h-0.9zM148.4 209.2h0.9v0.9h-0.9zM149.6 217.0h0.9v0.9h-0.9zM152.5 211.6h0.9v0.9h-0.9zM154.4 214.6h0.9v0.9h-0.9zM149.0 217.0h0.9v0.9h-0.9zM150.7 213.3h0.9v0.9h-0.9zM147.7 208.4h0.9v0.9h-0.9zM145.8 217.7h0.9v0.9h-0.9zM151.8 217.8h0.9v0.9h-0.9zM152.6 213.3h0.9v0.9h-0.9zM154.7 215.7h0.9v0.9h-0.9zM150.1 212.2h0.9v0.9h-0.9zM156.9 212.8h0.9v0.9h-0.9zM147.9 217.6h0.9v0.9h-0.9zM148.6 212.5h0.9v0.9h-0.9zM151.6 213.9h0.9v0.9h-0.9zM152.3 218.0h0.9v0.9h-0.9zM150.4 211.0h0.9v0.9h-0.9zM151.0 211.9h0.9v0.9h-0.9zM146.0 217.9h0.9v0.9h-0.9zM149.7 219.1h0.9v0.9h-0.9zM152.7 218.8h0.9v0.9h-0.9zM151.1 218.2h0.9v0.9h-0.9zM153.0 210.5h0.9v0.9h-0.9zM157.6 216.7h0.9v0.9h-0.9zM150.3 205.8h0.9v0.9h-0.9zM146.9 218.1h0.9v0.9h-0.9zM157.7 212.9h0.9v0.9h-0.9zM152.1 217.0h0.9v0.9h-0.9zM148.1 214.8h0.9v0.9h-0.9zM153.2 211.8h0.9v0.9h-0.9zM156.8 214.4h0.9v0.9h-0.9zM143.2 212.5h0.9v0.9h-0.9zM151.8 212.5h0.9v0.9h-0.9zM151.1 215.4h0.9v0.9h-0.9zM155.7 210.6h0.9v0.9h-0.9zM153.2 211.2h0.9v0.9h-0.9zM147.1 212.7h0.9v0.9h-0.9zM152.3 210.5h0.9v0.9h-0.9zM153.3 212.5h0.9v0.9h-0.9zM149.5 213.5h0.9v0.9h-0.9zM147.5 213.3h0.9v0.9h-0.9zM153.0 210.9h0.9v0.9h-0.9zM150.9 216.2h0.9v0.9h-0.9zM153.1 211.1h0.9v0.9h-0.9zM149.8 207.1h0.9v0.9h-0.9zM148.2 212.9h0.9v0.9h-0.9zM148.8 214.5h0.9v0.9h-0.9zM156.7 210.7h0.9v0.9h-0.9zM154.8 216.9h0.9v0.9h-0.9zM154.0 214.1h0.9v0.9h-0.9zM154.8 217.1h0.9v0.9h-0.9zM150.8 215.0h0.9v0.9h-0.9zM146.5 199.9h0.9v0.9h-0.9zM153.0 214.0h0.9v0.9h-0.9zM154.6 211.7h0.9v0.9h-0.9zM149.7 219.1h0.9v0.9h-0.9zM147.8 215.8h0.9v0.9h-0.9zM151.4 212.5h0.9v0.9h-0.9zM154.4 211.8h0.9v0.9h-0.9zM154.9 217.1h0.9v0.9h-0.9zM148.5 216.3h0.9v0.9h-0.9zM153.8 213.4h0.9v0.9h-0.9zM160.3 212.4h0.9v0.9h-0.9zM149.1 213.0h0.9v0.9h-0.9zM153.4 218.6h0.9v0.9h-0.9zM150.3 213.9h0.9v0.9h-0.9zM153.7 215.7h0.9v0.9h-0.9zM150.0 217.1h0.9v0.9h-0.9zM153.7 215.7h0.9v0.9h-0.9zM141.1 217.1h0.9v0.9h-0.9zM148.5 210.4h0.9v0.9h-0.9zM151.6 213.1h0.9v0.9h-0.9zM153.0 217.7h0.9v0.9h-0.9zM151.1 213.5h0.9v0.9h-0.9zM156.0 215.2h0.9v0.9h-0.9zM144.5 215.4h0.9v0.9h-0.9zM149.8 215.5h0.9v0.9h-0.9zM154.4 213.5h0.9v0.9h-0.9zM150.2 215.9h0.9v0.9h-0.9zM152.4 217.6h0.9v0.9h-0.9zM152.0 214.4h0.9v0.9h-0.9zM149.9 215.0h0.9v0.9h-0.9zM151.1 212.2h0.9v0.9h-0.9zM147.0 210.2h0.9v0.9h-0.9zM150.6 213.9h0.9v0.9h-0.9zM151.1 214.1h0.9v0.9h-0.9zM148.4 214.3h0.9v0.9h-0.9zM148.8 217.7h0.9v0.9h-0.9zM144.9 218.1h0.9v0.9h-0.9zM154.2 209.8h0.9v0.9h-0.9zM148.9 213.4h0.9v0.9h-0.9zM147.7 215.5h0.9v0.9h-0.9zM143.9 214.3h0.9v0.9h-0.9zM148.9 212.2h0.9v0.9h-0.9zM153.8 216.2h0.9v0.9h-0.9zM156.1 210.6h0.9v0.9h-0.9zM144.4 211.6h0.9v0.9h-0.9zM155.9 204.5h0.9v0.9h-0.9zM148.9 213.6h0.9v0.9h-0.9zM147.5 211.0h0.9v0.9h-0.9zM153.7 204.6h0.9v0.9h-0.9zM150.2 212.5h0.9v0.9h-0.9zM151.0 218.6h0.9v0.9h-0.9zM152.6 211.0h0.9v0.9h-0.9zM154.9 211.6h0.9v0.9h-0.9zM151.2 217.8h0.9v0.9h-0.9zM152.8 216.4h0.9v0.9h-0.9zM153.9 212.9h0.9v0.9h-0.9zM153.0 213.1h0.9v0.9h-0.9zM151.3 210.2h0.9v0.9h-0.9zM148.5 215.7h0.9v0.9h-0.9zM149.3 212.3h0.9v0.9h-0.9zM148.7 216.9h0.9v0.9h-0.9zM155.9 215.8h0.9v0.9h-0.9zM145.9 215.4h0.9v0.9h-0.9z" fill="#000" fill-opacity="0.85"/>
<path d="M163.1 217.7h0.9v0.9h-0.9zM161.0 205.6h0.9v0.9h-0.9zM152.7 208.6h0.9v0.9h-0.9zM168.7 209.9h0.9v0.9h-0.9zM164.0 206.0h0.9v0.9h-0.9zM155.0 218.9h0.9v0.9h-0.9zM174.4 219.5h0.9v0.9h-0.9zM162.7 218.6h0.9v0.9h-0.9zM150.8 208.0h0.9v0.9h-0.9zM177.3 217.5h0.9v0.9h-0.9zM162.7 210.1h0.9v0.9h-0.9zM152.8 209.3h0.9v0.9h-0.9zM159.0 215.3h0.9v0.9h-0.9zM157.9 206.3h0.9v0.9h-0.9zM151.4 205.1h0.9v0.9h-0.9zM160.3 219.0h0.9v0.9h-0.9zM155.2 210.3h0.9v0.9h-0.9zM156.6 216.9h0.9v0.9h-0.9zM170.9 211.4h0.9v0.9h-0.9zM154.9 206.4h0.9v0.9h-0.9zM150.7 212.1h0.9v0.9h-0.9zM155.5 207.6h0.9v0.9h-0.9zM159.2 206.2h0.9v0.9h-0.9zM155.1 205.3h0.9v0.9h-0.9zM168.5 211.0h0.9v0.9h-0.9zM177.3 208.9h0.9v0.9h-0.9zM175.7 210.0h0.9v0.9h-0.9zM164.6 219.4h0.9v0.9h-0.9zM174.4 217.4h0.9v0.9h-0.9zM174.5 215.6h0.9v0.9h-0.9zM169.7 208.7h0.9v0.9h-0.9zM174.9 216.2h0.9v0.9h-0.9zM161.7 215.5h0.9v0.9h-0.9zM173.2 212.9h0.9v0.9h-0.9zM166.2 208.6h0.9v0.9h-0.9zM172.9 208.1h0.9v0.9h-0.9zM172.9 211.3h0.9v0.9h-0.9zM152.0 209.1h0.9v0.9h-0.9zM175.8 218.3h0.9v0.9h-0.9zM151.1 212.0h0.9v0.9h-0.9zM163.2 215.2h0.9v0.9h-0.9zM168.3 218.5h0.9v0.9h-0.9zM175.5 214.3h0.9v0.9h-0.9zM151.8 207.4h0.9v0.9h-0.9zM170.8 209.8h0.9v0.9h-0.9zM160.7 218.8h0.9v0.9h-0.9zM151.3 205.7h0.9v0.9h-0.9zM160.3 208.3h0.9v0.9h-0.9zM169.9 214.3h0.9v0.9h-0.9zM152.6 217.8h0.9v0.9h-0.9z" fill="#000" fill-opacity="0.4"/>
<path d="M156.9 203.0h0.9v0.9h-0.9zM155.4 193.8h0.9v0.9h-0.9zM154.9 198.4h0.9v0.9h-0.9zM149.4 192.7h0.9v0.9h-0.9zM144.0 202.8h0.9v0.9h-0.9zM153.8 192.2h0.9v0.9h-0.9zM144.2 199.6h0.9v0.9h-0.9zM156.6 201.3h0.9v0.9h-0.9zM145.2 195.3h0.9v0.9h-0.9zM143.4 192.1h0.9v0.9h-0.9z" fill="#000" fill-opacity="0.35"/>
<path d="M34.9 255.2h0.9v0.9h-0.9zM33.5 259.0h0.9v0.9h-0.9zM31.5 258.3h0.9v0.9h-0.9zM22.5 262.4h0.9v0.9h-0.9zM27.5 251.1h0.9v0.9h-0.9zM28.3 255.4h0.9v0.9h-0.9zM35.8 255.1h0.9v0.9h-0.9zM34.5 255.0h0.9v0.9h-0.9zM44.1 259.8h0.9v0.9h-0.9zM42.9 254.8h0.9v0.9h-0.9zM36.4 255.0h0.9v0.9h-0.9zM36.0 260.2h0.9v0.9h-0.9zM25.1 254.4h0.9v0.9h-0.9zM27.3 253.2h0.9v0.9h-0.9zM29.4 255.0h0.9v0.9h-0.9zM25.9 258.4h0.9v0.9h-0.9zM35.8 253.8h0.9v0.9h-0.9zM30.3 258.1h0.9v0.9h-0.9zM31.9 255.8h0.9v0.9h-0.9zM37.1 260.8h0.9v0.9h-0.9zM36.5 257.4h0.9v0.9h-0.9zM43.0 263.6h0.9v0.9h-0.9zM31.1 257.7h0.9v0.9h-0.9zM39.0 255.5h0.9v0.9h-0.9zM35.0 258.2h0.9v0.9h-0.9zM29.5 257.3h0.9v0.9h-0.9zM25.2 256.3h0.9v0.9h-0.9zM23.1 265.3h0.9v0.9h-0.9zM40.6 262.0h0.9v0.9h-0.9zM34.6 261.2h0.9v0.9h-0.9zM39.4 261.3h0.9v0.9h-0.9zM37.6 255.1h0.9v0.9h-0.9zM35.2 256.3h0.9v0.9h-0.9zM27.1 254.4h0.9v0.9h-0.9zM35.2 261.4h0.9v0.9h-0.9zM26.2 263.6h0.9v0.9h-0.9zM40.4 256.8h0.9v0.9h-0.9zM30.7 257.8h0.9v0.9h-0.9zM37.9 256.8h0.9v0.9h-0.9zM27.5 259.1h0.9v0.9h-0.9zM22.7 258.5h0.9v0.9h-0.9zM38.8 259.0h0.9v0.9h-0.9zM36.9 259.6h0.9v0.9h-0.9zM36.6 258.5h0.9v0.9h-0.9zM28.9 257.3h0.9v0.9h-0.9zM32.6 262.0h0.9v0.9h-0.9zM41.1 259.3h0.9v0.9h-0.9zM29.2 255.7h0.9v0.9h-0.9zM32.1 262.4h0.9v0.9h-0.9zM34.7 257.8h0.9v0.9h-0.9zM29.2 260.8h0.9v0.9h-0.9zM34.4 257.8h0.9v0.9h-0.9zM33.5 263.4h0.9v0.9h-0.9zM32.2 263.4h0.9v0.9h-0.9zM39.2 258.2h0.9v0.9h-0.9zM37.4 257.6h0.9v0.9h-0.9zM28.9 257.1h0.9v0.9h-0.9zM28.5 259.6h0.9v0.9h-0.9zM33.1 259.8h0.9v0.9h-0.9zM37.1 248.0h0.9v0.9h-0.9zM34.6 252.2h0.9v0.9h-0.9zM33.8 255.2h0.9v0.9h-0.9zM33.5 262.4h0.9v0.9h-0.9zM24.5 258.6h0.9v0.9h-0.9zM32.6 251.9h0.9v0.9h-0.9zM36.2 258.1h0.9v0.9h-0.9zM30.5 255.7h0.9v0.9h-0.9zM49.1 256.7h0.9v0.9h-0.9zM24.0 255.0h0.9v0.9h-0.9zM31.2 256.8h0.9v0.9h-0.9zM32.6 254.6h0.9v0.9h-0.9zM35.7 256.5h0.9v0.9h-0.9zM26.2 255.4h0.9v0.9h-0.9zM31.1 260.7h0.9v0.9h-0.9zM35.4 256.9h0.9v0.9h-0.9zM33.1 258.7h0.9v0.9h-0.9zM43.2 256.0h0.9v0.9h-0.9zM35.3 260.3h0.9v0.9h-0.9zM28.2 258.6h0.9v0.9h-0.9zM33.8 256.5h0.9v0.9h-0.9zM35.8 261.3h0.9v0.9h-0.9zM38.7 257.4h0.9v0.9h-0.9zM33.9 265.5h0.9v0.9h-0.9zM27.5 258.7h0.9v0.9h-0.9zM37.4 258.5h0.9v0.9h-0.9zM36.3 258.6h0.9v0.9h-0.9zM36.8 262.1h0.9v0.9h-0.9zM31.9 258.6h0.9v0.9h-0.9zM32.7 256.7h0.9v0.9h-0.9zM32.9 254.4h0.9v0.9h-0.9zM36.7 263.4h0.9v0.9h-0.9zM41.5 262.1h0.9v0.9h-0.9zM28.2 262.9h0.9v0.9h-0.9zM29.4 257.8h0.9v0.9h-0.9zM42.2 254.6h0.9v0.9h-0.9zM37.2 258.9h0.9v0.9h-0.9zM32.2 255.2h0.9v0.9h-0.9zM35.1 256.5h0.9v0.9h-0.9zM38.2 261.9h0.9v0.9h-0.9zM26.1 256.4h0.9v0.9h-0.9zM31.4 254.2h0.9v0.9h-0.9zM27.4 258.3h0.9v0.9h-0.9zM32.0 252.7h0.9v0.9h-0.9zM30.3 259.7h0.9v0.9h-0.9zM27.0 255.0h0.9v0.9h-0.9zM40.9 262.2h0.9v0.9h-0.9zM24.9 253.7h0.9v0.9h-0.9zM34.9 254.2h0.9v0.9h-0.9zM31.7 256.6h0.9v0.9h-0.9zM35.8 249.9h0.9v0.9h-0.9zM22.0 254.1h0.9v0.9h-0.9zM38.1 257.5h0.9v0.9h-0.9zM24.5 259.6h0.9v0.9h-0.9zM36.5 257.2h0.9v0.9h-0.9zM31.3 259.4h0.9v0.9h-0.9zM39.0 258.5h0.9v0.9h-0.9zM35.7 257.8h0.9v0.9h-0.9zM31.1 255.1h0.9v0.9h-0.9zM34.3 257.0h0.9v0.9h-0.9zM31.8 261.0h0.9v0.9h-0.9zM35.4 260.8h0.9v0.9h-0.9zM25.1 259.8h0.9v0.9h-0.9zM30.1 255.4h0.9v0.9h-0.9zM28.7 261.9h0.9v0.9h-0.9zM37.1 255.7h0.9v0.9h-0.9zM27.3 258.0h0.9v0.9h-0.9zM30.7 263.3h0.9v0.9h-0.9zM25.7 252.1h0.9v0.9h-0.9zM31.7 258.0h0.9v0.9h-0.9zM33.7 260.4h0.9v0.9h-0.9zM43.4 256.9h0.9v0.9h-0.9zM30.3 252.4h0.9v0.9h-0.9zM34.2 260.7h0.9v0.9h-0.9zM31.7 261.8h0.9v0.9h-0.9zM33.2 262.8h0.9v0.9h-0.9zM34.7 254.6h0.9v0.9h-0.9zM29.8 253.1h0.9v0.9h-0.9zM24.3 258.9h0.9v0.9h-0.9zM37.3 264.3h0.9v0.9h-0.9zM32.7 257.2h0.9v0.9h-0.9zM27.5 261.2h0.9v0.9h-0.9zM34.9 256.1h0.9v0.9h-0.9zM36.4 259.8h0.9v0.9h-0.9zM23.7 260.4h0.9v0.9h-0.9zM33.7 256.7h0.9v0.9h-0.9zM30.9 263.6h0.9v0.9h-0.9zM40.7 263.8h0.9v0.9h-0.9zM27.3 255.9h0.9v0.9h-0.9zM37.5 254.1h0.9v0.9h-0.9zM29.4 252.2h0.9v0.9h-0.9zM42.3 261.4h0.9v0.9h-0.9zM35.3 258.7h0.9v0.9h-0.9zM30.9 256.7h0.9v0.9h-0.9zM36.1 255.7h0.9v0.9h-0.9zM39.1 256.4h0.9v0.9h-0.9zM28.6 262.2h0.9v0.9h-0.9zM32.3 259.8h0.9v0.9h-0.9zM30.9 250.8h0.9v0.9h-0.9zM35.7 253.7h0.9v0.9h-0.9zM38.4 253.0h0.9v0.9h-0.9zM23.7 259.0h0.9v0.9h-0.9zM35.1 258.3h0.9v0.9h-0.9zM26.9 260.8h0.9v0.9h-0.9zM25.7 256.5h0.9v0.9h-0.9zM29.1 256.8h0.9v0.9h-0.9zM37.3 256.0h0.9v0.9h-0.9zM35.8 260.2h0.9v0.9h-0.9zM24.4 254.3h0.9v0.9h-0.9zM31.1 256.1h0.9v0.9h-0.9zM34.5 251.8h0.9v0.9h-0.9zM36.6 260.4h0.9v0.9h-0.9zM32.2 253.6h0.9v0.9h-0.9zM33.0 256.3h0.9v0.9h-0.9zM35.8 257.7h0.9v0.9h-0.9zM36.6 256.6h0.9v0.9h-0.9zM40.2 250.6h0.9v0.9h-0.9zM27.9 259.6h0.9v0.9h-0.9zM25.4 260.4h0.9v0.9h-0.9zM26.9 258.3h0.9v0.9h-0.9zM28.4 256.6h0.9v0.9h-0.9zM33.9 257.7h0.9v0.9h-0.9zM31.1 264.9h0.9v0.9h-0.9zM33.0 254.9h0.9v0.9h-0.9zM37.6 260.6h0.9v0.9h-0.9zM39.1 263.7h0.9v0.9h-0.9zM28.3 261.4h0.9v0.9h-0.9zM38.7 258.0h0.9v0.9h-0.9zM34.2 248.4h0.9v0.9h-0.9zM30.1 263.7h0.9v0.9h-0.9zM24.1 256.3h0.9v0.9h-0.9zM34.4 259.8h0.9v0.9h-0.9zM41.2 252.4h0.9v0.9h-0.9zM33.2 260.8h0.9v0.9h-0.9zM26.4 257.9h0.9v0.9h-0.9zM42.4 262.2h0.9v0.9h-0.9zM35.7 249.6h0.9v0.9h-0.9zM32.3 259.2h0.9v0.9h-0.9zM31.5 257.8h0.9v0.9h-0.9zM48.4 257.3h0.9v0.9h-0.9zM28.2 258.8h0.9v0.9h-0.9zM31.4 257.0h0.9v0.9h-0.9zM32.6 260.5h0.9v0.9h-0.9zM34.2 254.2h0.9v0.9h-0.9zM32.3 259.5h0.9v0.9h-0.9zM30.7 261.7h0.9v0.9h-0.9zM36.9 254.8h0.9v0.9h-0.9zM34.6 264.3h0.9v0.9h-0.9zM40.8 257.8h0.9v0.9h-0.9zM37.5 255.8h0.9v0.9h-0.9zM25.8 259.8h0.9v0.9h-0.9zM34.2 259.6h0.9v0.9h-0.9zM32.9 259.0h0.9v0.9h-0.9zM30.4 259.5h0.9v0.9h-0.9zM37.2 257.8h0.9v0.9h-0.9zM37.1 252.3h0.9v0.9h-0.9zM29.1 262.6h0.9v0.9h-0.9zM41.8 258.8h0.9v0.9h-0.9zM32.5 253.9h0.9v0.9h-0.9zM34.8 260.5h0.9v0.9h-0.9zM25.6 259.8h0.9v0.9h-0.9zM35.5 259.4h0.9v0.9h-0.9zM27.4 259.7h0.9v0.9h-0.9zM25.5 262.8h0.9v0.9h-0.9zM33.7 254.3h0.9v0.9h-0.9zM39.7 261.7h0.9v0.9h-0.9zM29.7 265.1h0.9v0.9h-0.9zM28.0 259.0h0.9v0.9h-0.9zM38.9 250.7h0.9v0.9h-0.9zM38.0 257.8h0.9v0.9h-0.9zM32.9 254.6h0.9v0.9h-0.9zM34.7 254.4h0.9v0.9h-0.9zM28.2 256.6h0.9v0.9h-0.9zM26.9 263.0h0.9v0.9h-0.9zM26.4 255.6h0.9v0.9h-0.9zM31.4 258.0h0.9v0.9h-0.9zM37.0 260.6h0.9v0.9h-0.9zM31.5 256.8h0.9v0.9h-0.9zM33.2 260.6h0.9v0.9h-0.9zM36.5 256.3h0.9v0.9h-0.9zM22.7 264.9h0.9v0.9h-0.9zM37.8 258.8h0.9v0.9h-0.9zM34.7 256.3h0.9v0.9h-0.9zM28.0 256.9h0.9v0.9h-0.9zM31.9 256.0h0.9v0.9h-0.9zM25.7 257.0h0.9v0.9h-0.9zM35.9 256.4h0.9v0.9h-0.9zM33.1 251.4h0.9v0.9h-0.9zM32.0 257.6h0.9v0.9h-0.9zM26.9 252.5h0.9v0.9h-0.9zM35.1 255.4h0.9v0.9h-0.9zM35.4 256.7h0.9v0.9h-0.9zM36.1 256.9h0.9v0.9h-0.9zM25.5 257.7h0.9v0.9h-0.9zM31.4 260.1h0.9v0.9h-0.9zM30.7 256.7h0.9v0.9h-0.9zM37.3 261.7h0.9v0.9h-0.9zM36.8 261.3h0.9v0.9h-0.9zM35.3 260.5h0.9v0.9h-0.9zM37.4 259.3h0.9v0.9h-0.9zM33.3 258.5h0.9v0.9h-0.9zM45.0 258.0h0.9v0.9h-0.9zM31.8 256.8h0.9v0.9h-0.9zM32.8 258.8h0.9v0.9h-0.9zM27.3 251.7h0.9v0.9h-0.9zM34.5 252.9h0.9v0.9h-0.9zM34.3 258.4h0.9v0.9h-0.9zM38.8 263.3h0.9v0.9h-0.9zM34.8 256.2h0.9v0.9h-0.9zM27.1 255.5h0.9v0.9h-0.9zM33.2 251.4h0.9v0.9h-0.9zM33.4 258.0h0.9v0.9h-0.9zM36.2 256.9h0.9v0.9h-0.9zM33.5 255.6h0.9v0.9h-0.9zM30.7 252.3h0.9v0.9h-0.9zM33.6 263.0h0.9v0.9h-0.9zM33.8 259.2h0.9v0.9h-0.9zM28.1 262.6h0.9v0.9h-0.9zM29.2 260.6h0.9v0.9h-0.9zM33.5 254.9h0.9v0.9h-0.9zM38.1 258.0h0.9v0.9h-0.9zM33.9 259.4h0.9v0.9h-0.9zM32.9 256.8h0.9v0.9h-0.9zM35.3 256.7h0.9v0.9h-0.9zM33.3 255.9h0.9v0.9h-0.9zM25.5 255.8h0.9v0.9h-0.9zM30.5 258.0h0.9v0.9h-0.9zM38.9 252.6h0.9v0.9h-0.9zM33.6 250.9h0.9v0.9h-0.9zM27.8 256.4h0.9v0.9h-0.9zM21.7 252.1h0.9v0.9h-0.9zM33.8 258.2h0.9v0.9h-0.9zM32.4 255.4h0.9v0.9h-0.9zM43.8 257.5h0.9v0.9h-0.9zM28.7 263.4h0.9v0.9h-0.9zM36.1 256.8h0.9v0.9h-0.9zM39.0 258.5h0.9v0.9h-0.9zM36.2 258.8h0.9v0.9h-0.9zM27.9 261.1h0.9v0.9h-0.9zM33.8 254.8h0.9v0.9h-0.9zM29.2 261.1h0.9v0.9h-0.9zM31.2 258.1h0.9v0.9h-0.9zM36.3 258.4h0.9v0.9h-0.9zM25.4 260.0h0.9v0.9h-0.9zM37.7 260.8h0.9v0.9h-0.9zM41.1 259.2h0.9v0.9h-0.9zM36.9 263.1h0.9v0.9h-0.9zM31.5 263.6h0.9v0.9h-0.9zM41.7 260.5h0.9v0.9h-0.9zM42.2 260.7h0.9v0.9h-0.9zM28.6 261.6h0.9v0.9h-0.9zM34.6 259.3h0.9v0.9h-0.9zM33.8 262.4h0.9v0.9h-0.9zM35.8 255.8h0.9v0.9h-0.9zM35.4 260.3h0.9v0.9h-0.9zM29.4 256.6h0.9v0.9h-0.9zM31.1 256.1h0.9v0.9h-0.9zM34.7 261.3h0.9v0.9h-0.9zM42.5 261.8h0.9v0.9h-0.9zM38.1 261.7h0.9v0.9h-0.9zM39.7 256.8h0.9v0.9h-0.9zM36.5 259.0h0.9v0.9h-0.9zM32.4 256.5h0.9v0.9h-0.9zM30.5 257.1h0.9v0.9h-0.9zM26.8 259.7h0.9v0.9h-0.9zM32.9 258.3h0.9v0.9h-0.9zM34.7 260.3h0.9v0.9h-0.9zM30.0 257.7h0.9v0.9h-0.9zM25.0 250.9h0.9v0.9h-0.9zM23.3 262.9h0.9v0.9h-0.9zM23.9 259.5h0.9v0.9h-0.9zM40.4 256.5h0.9v0.9h-0.9zM41.1 263.9h0.9v0.9h-0.9zM37.7 265.6h0.9v0.9h-0.9zM36.1 255.7h0.9v0.9h-0.9zM35.6 256.6h0.9v0.9h-0.9zM26.5 253.9h0.9v0.9h-0.9zM44.6 256.3h0.9v0.9h-0.9zM32.9 255.9h0.9v0.9h-0.9zM33.7 257.3h0.9v0.9h-0.9zM31.0 254.2h0.9v0.9h-0.9z" fill="#000" fill-opacity="0.85"/>
<path d="M23.8 257.6h0.9v0.9h-0.9zM37.4 274.5h0.9v0.9h-0.9zM43.5 273.0h0.9v0.9h-0.9zM39.0 261.6h0.9v0.9h-0.9zM24.5 262.1h0.9v0.9h-0.9zM48.2 264.1h0.9v0.9h-0.9zM44.2 259.8h0.9v0.9h-0.9zM24.1 259.2h0.9v0.9h-0.9zM32.0 269.4h0.9v0.9h-0.9zM51.0 257.7h0.9v0.9h-0.9zM32.3 261.3h0.9v0.9h-0.9zM32.4 254.7h0.9v0.9h-0.9zM35.9 264.3h0.9v0.9h-0.9zM38.3 254.9h0.9v0.9h-0.9zM34.3 251.7h0.9v0.9h-0.9zM42.5 256.0h0.9v0.9h-0.9zM33.0 259.5h0.9v0.9h-0.9zM30.6 255.8h0.9v0.9h-0.9zM21.1 272.6h0.9v0.9h-0.9zM37.3 263.8h0.9v0.9h-0.9zM52.0 261.6h0.9v0.9h-0.9zM39.7 262.3h0.9v0.9h-0.9zM44.7 265.2h0.9v0.9h-0.9zM37.8 260.7h0.9v0.9h-0.9zM37.5 269.2h0.9v0.9h-0.9zM31.9 260.4h0.9v0.9h-0.9zM19.4 266.6h0.9v0.9h-0.9zM28.5 260.8h0.9v0.9h-0.9zM31.2 252.2h0.9v0.9h-0.9zM31.7 251.1h0.9v0.9h-0.9zM27.7 260.3h0.9v0.9h-0.9zM35.2 262.5h0.9v0.9h-0.9zM34.2 275.0h0.9v0.9h-0.9zM38.7 254.9h0.9v0.9h-0.9zM30.4 258.3h0.9v0.9h-0.9zM33.8 258.6h0.9v0.9h-0.9zM28.4 272.1h0.9v0.9h-0.9zM35.6 260.2h0.9v0.9h-0.9zM33.2 260.9h0.9v0.9h-0.9zM46.4 265.1h0.9v0.9h-0.9zM44.3 243.5h0.9v0.9h-0.9zM37.9 268.6h0.9v0.9h-0.9zM51.1 262.4h0.9v0.9h-0.9zM21.5 265.7h0.9v0.9h-0.9zM30.5 251.5h0.9v0.9h-0.9zM30.3 268.5h0.9v0.9h-0.9zM44.9 266.5h0.9v0.9h-0.9zM26.9 277.3h0.9v0.9h-0.9zM25.9 261.8h0.9v0.9h-0.9zM23.7 270.1h0.9v0.9h-0.9zM38.9 267.6h0.9v0.9h-0.9zM36.0 261.8h0.9v0.9h-0.9zM36.7 250.9h0.9v0.9h-0.9zM43.3 267.7h0.9v0.9h-0.9zM32.2 262.2h0.9v0.9h-0.9zM37.7 271.7h0.9v0.9h-0.9zM38.8 262.5h0.9v0.9h-0.9zM31.3 253.2h0.9v0.9h-0.9zM30.6 262.7h0.9v0.9h-0.9zM33.3 262.7h0.9v0.9h-0.9zM41.3 264.9h0.9v0.9h-0.9zM37.6 266.2h0.9v0.9h-0.9zM36.8 262.1h0.9v0.9h-0.9zM39.1 251.9h0.9v0.9h-0.9zM45.4 254.5h0.9v0.9h-0.9zM42.1 262.4h0.9v0.9h-0.9zM44.2 262.5h0.9v0.9h-0.9zM27.8 268.7h0.9v0.9h-0.9zM36.9 263.0h0.9v0.9h-0.9zM36.0 268.3h0.9v0.9h-0.9zM41.9 263.7h0.9v0.9h-0.9zM23.0 259.9h0.9v0.9h-0.9zM36.3 273.1h0.9v0.9h-0.9zM38.5 261.8h0.9v0.9h-0.9zM45.0 261.6h0.9v0.9h-0.9zM35.2 263.3h0.9v0.9h-0.9zM23.4 268.1h0.9v0.9h-0.9zM38.8 260.6h0.9v0.9h-0.9zM26.3 263.6h0.9v0.9h-0.9zM46.6 258.5h0.9v0.9h-0.9zM26.9 264.9h0.9v0.9h-0.9zM22.7 249.0h0.9v0.9h-0.9zM31.9 258.2h0.9v0.9h-0.9zM33.2 259.0h0.9v0.9h-0.9zM38.1 261.0h0.9v0.9h-0.9zM30.7 259.6h0.9v0.9h-0.9zM40.5 268.1h0.9v0.9h-0.9zM42.7 266.5h0.9v0.9h-0.9zM32.9 263.6h0.9v0.9h-0.9zM22.5 270.9h0.9v0.9h-0.9zM37.9 258.6h0.9v0.9h-0.9zM36.8 260.3h0.9v0.9h-0.9zM29.4 265.4h0.9v0.9h-0.9zM31.8 253.9h0.9v0.9h-0.9zM30.4 261.7h0.9v0.9h-0.9zM26.8 269.9h0.9v0.9h-0.9zM26.8 272.9h0.9v0.9h-0.9z" fill="#000" fill-opacity="0.4"/>
<path d="M33.5 276.9h0.9v0.9h-0.9zM58.3 278.9h0.9v0.9h-0.9zM45.6 274.7h0.9v0.9h-0.9zM34.8 270.8h0.9v0.9h-0.9zM25.7 267.4h0.9v0.9h-0.9zM33.7 276.1h0.9v0.9h-0.9zM52.0 276.5h0.9v0.9h-0.9zM54.3 278.3h0.9v0.9h-0.9zM39.2 267.3h0.9v0.9h-0.9zM61.7 265.8h0.9v0.9h-0.9zM45.4 279.9h0.9v0.9h-0.9zM45.7 275.3h0.9v0.9h-0.9zM40.8 266.6h0.9v0.9h-0.9zM41.1 277.1h0.9v0.9h-0.9zM39.4 266.0h0.9v0.9h-0.9zM58.0 275.7h0.9v0.9h-0.9zM42.6 274.4h0.9v0.9h-0.9zM34.3 277.2h0.9v0.9h-0.9zM42.4 266.6h0.9v0.9h-0.9zM62.0 280.4h0.9v0.9h-0.9zM50.6 281.0h0.9v0.9h-0.9zM29.2 281.7h0.9v0.9h-0.9zM41.8 278.0h0.9v0.9h-0.9zM43.7 270.3h0.9v0.9h-0.9zM25.6 281.6h0.9v0.9h-0.9zM63.5 275.4h0.9v0.9h-0.9zM61.6 277.2h0.9v0.9h-0.9zM29.1 276.2h0.9v0.9h-0.9zM47.1 268.5h0.9v0.9h-0.9zM37.5 279.5h0.9v0.9h-0.9zM33.5 276.0h0.9v0.9h-0.9zM36.0 268.8h0.9v0.9h-0.9zM27.1 271.4h0.9v0.9h-0.9zM52.5 267.4h0.9v0.9h-0.9zM39.7 272.4h0.9v0.9h-0.9z" fill="#000" fill-opacity="0.4"/>
<path d="M97.4 255.3h0.9v0.9h-0.9zM94.9 255.1h0.9v0.9h-0.9zM94.4 259.7h0.9v0.9h-0.9zM82.7 254.2h0.9v0.9h-0.9zM95.3 258.4h0.9v0.9h-0.9zM88.9 255.9h0.9v0.9h-0.9zM97.7 253.3h0.9v0.9h-0.9zM85.3 253.6h0.9v0.9h-0.9zM88.4 256.8h0.9v0.9h-0.9zM90.0 260.4h0.9v0.9h-0.9zM94.5 252.2h0.9v0.9h-0.9zM91.6 251.3h0.9v0.9h-0.9zM95.6 259.5h0.9v0.9h-0.9zM92.9 257.7h0.9v0.9h-0.9zM89.6 255.7h0.9v0.9h-0.9zM104.2 250.2h0.9v0.9h-0.9zM99.4 258.5h0.9v0.9h-0.9zM85.4 250.2h0.9v0.9h-0.9zM89.5 257.8h0.9v0.9h-0.9zM91.9 254.2h0.9v0.9h-0.9zM97.0 255.1h0.9v0.9h-0.9zM94.9 253.7h0.9v0.9h-0.9zM98.9 252.3h0.9v0.9h-0.9zM101.4 253.7h0.9v0.9h-0.9zM90.3 256.8h0.9v0.9h-0.9zM95.9 248.4h0.9v0.9h-0.9zM94.8 250.4h0.9v0.9h-0.9zM90.1 257.3h0.9v0.9h-0.9zM90.0 255.9h0.9v0.9h-0.9zM92.1 260.9h0.9v0.9h-0.9zM93.4 251.0h0.9v0.9h-0.9zM88.9 251.8h0.9v0.9h-0.9zM94.4 254.7h0.9v0.9h-0.9zM98.2 255.3h0.9v0.9h-0.9zM94.4 255.8h0.9v0.9h-0.9zM93.2 255.7h0.9v0.9h-0.9zM97.3 257.2h0.9v0.9h-0.9zM91.3 249.1h0.9v0.9h-0.9zM90.2 255.6h0.9v0.9h-0.9zM82.6 253.2h0.9v0.9h-0.9zM95.8 252.9h0.9v0.9h-0.9zM88.8 260.3h0.9v0.9h-0.9zM100.0 253.9h0.9v0.9h-0.9zM99.7 258.9h0.9v0.9h-0.9zM88.7 263.3h0.9v0.9h-0.9zM89.6 253.8h0.9v0.9h-0.9zM88.8 254.9h0.9v0.9h-0.9zM87.8 254.7h0.9v0.9h-0.9zM98.6 255.4h0.9v0.9h-0.9zM92.6 259.6h0.9v0.9h-0.9zM89.7 257.8h0.9v0.9h-0.9zM92.4 255.4h0.9v0.9h-0.9zM93.9 255.1h0.9v0.9h-0.9zM93.5 252.2h0.9v0.9h-0.9zM91.2 256.1h0.9v0.9h-0.9zM93.2 250.9h0.9v0.9h-0.9zM90.5 252.4h0.9v0.9h-0.9zM93.5 255.2h0.9v0.9h-0.9zM94.1 252.5h0.9v0.9h-0.9zM93.8 250.3h0.9v0.9h-0.9zM80.7 254.5h0.9v0.9h-0.9zM86.2 251.6h0.9v0.9h-0.9zM88.2 256.6h0.9v0.9h-0.9zM88.2 255.5h0.9v0.9h-0.9zM91.5 250.6h0.9v0.9h-0.9zM86.6 256.1h0.9v0.9h-0.9zM95.4 257.1h0.9v0.9h-0.9zM101.9 255.5h0.9v0.9h-0.9zM94.9 254.2h0.9v0.9h-0.9zM94.1 253.4h0.9v0.9h-0.9zM89.6 260.9h0.9v0.9h-0.9zM85.2 255.4h0.9v0.9h-0.9zM95.6 255.0h0.9v0.9h-0.9zM89.2 253.9h0.9v0.9h-0.9zM91.5 251.1h0.9v0.9h-0.9zM93.3 253.2h0.9v0.9h-0.9zM91.1 256.7h0.9v0.9h-0.9zM88.8 255.9h0.9v0.9h-0.9zM90.8 255.9h0.9v0.9h-0.9zM93.8 255.3h0.9v0.9h-0.9zM89.1 252.0h0.9v0.9h-0.9zM89.6 255.1h0.9v0.9h-0.9zM96.8 257.9h0.9v0.9h-0.9zM91.2 254.8h0.9v0.9h-0.9zM86.2 247.4h0.9v0.9h-0.9zM89.6 252.4h0.9v0.9h-0.9zM86.5 248.8h0.9v0.9h-0.9zM95.9 251.9h0.9v0.9h-0.9zM85.9 261.9h0.9v0.9h-0.9zM94.2 253.4h0.9v0.9h-0.9zM96.5 252.0h0.9v0.9h-0.9zM100.6 249.5h0.9v0.9h-0.9zM87.6 254.0h0.9v0.9h-0.9zM90.0 258.9h0.9v0.9h-0.9zM86.2 252.1h0.9v0.9h-0.9zM94.5 256.2h0.9v0.9h-0.9zM97.9 255.5h0.9v0.9h-0.9zM103.3 252.9h0.9v0.9h-0.9zM94.2 257.1h0.9v0.9h-0.9zM91.9 253.5h0.9v0.9h-0.9zM91.3 252.3h0.9v0.9h-0.9zM88.3 252.6h0.9v0.9h-0.9zM86.4 255.6h0.9v0.9h-0.9zM86.2 261.0h0.9v0.9h-0.9zM100.9 257.9h0.9v0.9h-0.9zM92.4 252.5h0.9v0.9h-0.9zM98.8 254.9h0.9v0.9h-0.9zM95.8 252.1h0.9v0.9h-0.9zM98.1 251.8h0.9v0.9h-0.9zM93.8 248.8h0.9v0.9h-0.9zM90.4 255.9h0.9v0.9h-0.9zM91.3 252.9h0.9v0.9h-0.9zM96.8 254.1h0.9v0.9h-0.9zM98.8 246.6h0.9v0.9h-0.9zM95.8 256.0h0.9v0.9h-0.9zM86.4 250.2h0.9v0.9h-0.9zM97.2 250.9h0.9v0.9h-0.9zM90.4 256.2h0.9v0.9h-0.9zM91.8 255.9h0.9v0.9h-0.9zM89.4 255.3h0.9v0.9h-0.9zM98.1 255.4h0.9v0.9h-0.9zM83.4 256.4h0.9v0.9h-0.9zM93.5 251.4h0.9v0.9h-0.9zM99.5 248.8h0.9v0.9h-0.9zM101.7 252.3h0.9v0.9h-0.9zM100.3 254.2h0.9v0.9h-0.9zM87.3 254.6h0.9v0.9h-0.9zM94.7 256.1h0.9v0.9h-0.9zM98.0 251.5h0.9v0.9h-0.9zM95.5 256.7h0.9v0.9h-0.9zM92.0 251.3h0.9v0.9h-0.9zM89.0 256.7h0.9v0.9h-0.9zM96.8 251.7h0.9v0.9h-0.9zM87.3 258.3h0.9v0.9h-0.9zM86.3 254.8h0.9v0.9h-0.9zM89.6 248.7h0.9v0.9h-0.9zM93.8 253.7h0.9v0.9h-0.9zM99.7 261.6h0.9v0.9h-0.9zM92.4 257.6h0.9v0.9h-0.9zM97.9 252.7h0.9v0.9h-0.9zM89.4 259.5h0.9v0.9h-0.9zM91.6 254.2h0.9v0.9h-0.9zM91.9 253.9h0.9v0.9h-0.9zM90.5 256.7h0.9v0.9h-0.9zM98.9 253.1h0.9v0.9h-0.9zM87.1 254.5h0.9v0.9h-0.9zM86.6 252.3h0.9v0.9h-0.9zM98.8 261.7h0.9v0.9h-0.9zM94.9 250.9h0.9v0.9h-0.9zM96.7 247.2h0.9v0.9h-0.9zM90.1 259.2h0.9v0.9h-0.9zM96.6 249.9h0.9v0.9h-0.9zM85.8 257.0h0.9v0.9h-0.9zM93.0 252.4h0.9v0.9h-0.9zM95.1 252.5h0.9v0.9h-0.9zM84.6 256.9h0.9v0.9h-0.9zM90.3 251.1h0.9v0.9h-0.9zM87.3 255.1h0.9v0.9h-0.9zM89.6 256.3h0.9v0.9h-0.9zM92.1 257.8h0.9v0.9h-0.9zM91.5 252.2h0.9v0.9h-0.9zM84.4 250.8h0.9v0.9h-0.9zM96.5 264.0h0.9v0.9h-0.9zM87.6 251.0h0.9v0.9h-0.9zM94.8 255.8h0.9v0.9h-0.9zM90.2 254.6h0.9v0.9h-0.9zM86.1 253.4h0.9v0.9h-0.9zM97.3 259.5h0.9v0.9h-0.9zM92.5 253.5h0.9v0.9h-0.9zM95.3 257.8h0.9v0.9h-0.9zM95.4 251.9h0.9v0.9h-0.9zM94.8 257.4h0.9v0.9h-0.9zM90.1 250.1h0.9v0.9h-0.9zM95.5 255.5h0.9v0.9h-0.9zM97.6 254.6h0.9v0.9h-0.9zM90.4 252.9h0.9v0.9h-0.9zM88.7 251.3h0.9v0.9h-0.9zM90.7 252.8h0.9v0.9h-0.9zM98.3 250.4h0.9v0.9h-0.9zM93.1 252.5h0.9v0.9h-0.9zM99.9 255.2h0.9v0.9h-0.9zM91.6 256.9h0.9v0.9h-0.9zM93.6 252.8h0.9v0.9h-0.9zM100.1 256.6h0.9v0.9h-0.9zM101.0 258.0h0.9v0.9h-0.9zM96.8 254.8h0.9v0.9h-0.9zM88.4 256.6h0.9v0.9h-0.9zM93.6 256.5h0.9v0.9h-0.9zM93.3 252.2h0.9v0.9h-0.9zM88.8 256.6h0.9v0.9h-0.9zM99.1 253.4h0.9v0.9h-0.9zM95.3 258.8h0.9v0.9h-0.9zM89.6 253.3h0.9v0.9h-0.9zM88.3 258.1h0.9v0.9h-0.9zM94.5 252.9h0.9v0.9h-0.9zM85.9 253.8h0.9v0.9h-0.9zM97.8 253.4h0.9v0.9h-0.9zM91.4 256.4h0.9v0.9h-0.9zM87.8 254.5h0.9v0.9h-0.9zM96.0 251.9h0.9v0.9h-0.9zM89.6 255.2h0.9v0.9h-0.9zM92.9 253.6h0.9v0.9h-0.9zM94.3 255.1h0.9v0.9h-0.9zM89.2 252.3h0.9v0.9h-0.9zM95.3 257.9h0.9v0.9h-0.9zM99.4 251.7h0.9v0.9h-0.9zM98.2 256.8h0.9v0.9h-0.9zM93.2 255.9h0.9v0.9h-0.9zM97.0 260.1h0.9v0.9h-0.9zM88.6 256.3h0.9v0.9h-0.9zM92.7 253.7h0.9v0.9h-0.9zM98.5 257.0h0.9v0.9h-0.9zM88.8 253.5h0.9v0.9h-0.9zM94.4 249.9h0.9v0.9h-0.9zM97.2 254.2h0.9v0.9h-0.9zM94.1 255.5h0.9v0.9h-0.9zM101.4 254.5h0.9v0.9h-0.9zM91.8 259.9h0.9v0.9h-0.9zM91.1 252.7h0.9v0.9h-0.9zM87.2 257.8h0.9v0.9h-0.9zM94.6 255.9h0.9v0.9h-0.9zM94.1 254.0h0.9v0.9h-0.9zM89.9 251.9h0.9v0.9h-0.9zM95.3 254.8h0.9v0.9h-0.9zM100.6 252.0h0.9v0.9h-0.9zM91.2 251.2h0.9v0.9h-0.9zM99.5 250.5h0.9v0.9h-0.9zM96.8 259.0h0.9v0.9h-0.9zM92.7 256.7h0.9v0.9h-0.9zM83.9 253.2h0.9v0.9h-0.9zM86.0 255.0h0.9v0.9h-0.9zM93.4 252.0h0.9v0.9h-0.9zM97.6 255.5h0.9v0.9h-0.9zM91.1 252.8h0.9v0.9h-0.9zM86.8 253.8h0.9v0.9h-0.9zM102.8 252.2h0.9v0.9h-0.9zM95.3 252.7h0.9v0.9h-0.9zM97.0 255.8h0.9v0.9h-0.9zM92.3 248.8h0.9v0.9h-0.9zM91.1 258.2h0.9v0.9h-0.9zM92.3 256.4h0.9v0.9h-0.9zM91.2 248.5h0.9v0.9h-0.9zM95.3 255.4h0.9v0.9h-0.9zM90.8 253.2h0.9v0.9h-0.9zM94.7 252.5h0.9v0.9h-0.9zM94.9 253.8h0.9v0.9h-0.9zM82.9 254.0h0.9v0.9h-0.9zM90.7 251.8h0.9v0.9h-0.9zM95.2 252.9h0.9v0.9h-0.9zM95.8 257.9h0.9v0.9h-0.9zM94.0 249.5h0.9v0.9h-0.9zM90.1 257.3h0.9v0.9h-0.9zM92.2 251.9h0.9v0.9h-0.9zM93.0 256.0h0.9v0.9h-0.9zM94.6 256.5h0.9v0.9h-0.9zM89.7 253.6h0.9v0.9h-0.9zM92.3 254.4h0.9v0.9h-0.9zM84.1 253.7h0.9v0.9h-0.9zM87.4 258.8h0.9v0.9h-0.9zM100.3 259.8h0.9v0.9h-0.9zM97.0 252.9h0.9v0.9h-0.9zM97.7 253.8h0.9v0.9h-0.9zM96.1 251.6h0.9v0.9h-0.9zM90.8 255.9h0.9v0.9h-0.9zM101.3 254.4h0.9v0.9h-0.9zM103.4 263.2h0.9v0.9h-0.9zM87.7 254.4h0.9v0.9h-0.9zM89.2 254.0h0.9v0.9h-0.9zM91.0 254.2h0.9v0.9h-0.9zM97.7 257.4h0.9v0.9h-0.9zM94.6 254.5h0.9v0.9h-0.9zM94.0 254.9h0.9v0.9h-0.9zM96.0 254.5h0.9v0.9h-0.9zM95.7 250.3h0.9v0.9h-0.9zM97.0 260.0h0.9v0.9h-0.9zM94.2 250.0h0.9v0.9h-0.9zM99.4 253.4h0.9v0.9h-0.9zM80.1 253.8h0.9v0.9h-0.9zM96.1 255.7h0.9v0.9h-0.9zM99.0 256.4h0.9v0.9h-0.9zM94.0 248.2h0.9v0.9h-0.9zM88.5 255.0h0.9v0.9h-0.9zM96.5 251.2h0.9v0.9h-0.9zM90.7 255.9h0.9v0.9h-0.9zM84.9 248.3h0.9v0.9h-0.9zM92.4 255.3h0.9v0.9h-0.9zM91.3 247.2h0.9v0.9h-0.9zM93.5 250.3h0.9v0.9h-0.9zM96.4 254.1h0.9v0.9h-0.9zM94.6 256.5h0.9v0.9h-0.9zM91.1 257.1h0.9v0.9h-0.9zM99.0 255.7h0.9v0.9h-0.9zM99.4 252.5h0.9v0.9h-0.9zM97.5 255.3h0.9v0.9h-0.9zM89.1 254.2h0.9v0.9h-0.9zM91.1 252.7h0.9v0.9h-0.9zM93.8 257.8h0.9v0.9h-0.9zM92.0 254.9h0.9v0.9h-0.9zM86.9 254.8h0.9v0.9h-0.9zM98.6 257.0h0.9v0.9h-0.9zM95.6 252.8h0.9v0.9h-0.9zM89.1 254.2h0.9v0.9h-0.9zM87.5 250.6h0.9v0.9h-0.9zM97.6 251.6h0.9v0.9h-0.9zM101.5 249.9h0.9v0.9h-0.9zM95.4 250.8h0.9v0.9h-0.9zM94.2 251.2h0.9v0.9h-0.9zM93.6 254.0h0.9v0.9h-0.9zM91.4 256.1h0.9v0.9h-0.9zM100.2 252.6h0.9v0.9h-0.9zM97.4 254.7h0.9v0.9h-0.9zM93.3 261.4h0.9v0.9h-0.9zM83.8 252.3h0.9v0.9h-0.9zM85.4 253.5h0.9v0.9h-0.9zM92.4 266.5h0.9v0.9h-0.9zM95.0 260.2h0.9v0.9h-0.9zM99.2 253.1h0.9v0.9h-0.9zM95.6 259.8h0.9v0.9h-0.9zM94.2 255.1h0.9v0.9h-0.9zM95.7 249.7h0.9v0.9h-0.9z" fill="#000" fill-opacity="0.85"/>
<path d="M88.5 256.9h0.9v0.9h-0.9zM99.2 249.5h0.9v0.9h-0.9zM92.3 254.2h0.9v0.9h-0.9zM93.7 259.0h0.9v0.9h-0.9zM95.7 255.9h0.9v0.9h-0.9zM83.7 248.7h0.9v0.9h-0.9zM97.4 245.4h0.9v0.9h-0.9zM97.0 251.0h0.9v0.9h-0.9zM88.4 258.8h0.9v0.9h-0.9zM89.5 249.8h0.9v0.9h-0.9zM89.5 255.2h0.9v0.9h-0.9zM116.7 242.3h0.9v0.9h-0.9zM94.7 253.5h0.9v0.9h-0.9zM102.4 252.7h0.9v0.9h-0.9zM86.2 254.5h0.9v0.9h-0.9zM84.0 248.4h0.9v0.9h-0.9zM90.9 260.0h0.9v0.9h-0.9zM101.5 251.3h0.9v0.9h-0.9zM98.8 252.6h0.9v0.9h-0.9zM95.7 255.8h0.9v0.9h-0.9zM99.7 251.2h0.9v0.9h-0.9zM93.8 256.1h0.9v0.9h-0.9zM95.5 250.1h0.9v0.9h-0.9zM108.5 252.1h0.9v0.9h-0.9zM100.8 256.1h0.9v0.9h-0.9zM104.5 241.8h0.9v0.9h-0.9zM111.1 253.6h0.9v0.9h-0.9zM85.0 255.6h0.9v0.9h-0.9zM112.7 257.8h0.9v0.9h-0.9zM85.0 252.1h0.9v0.9h-0.9zM105.4 246.5h0.9v0.9h-0.9zM93.3 253.1h0.9v0.9h-0.9zM112.0 253.1h0.9v0.9h-0.9zM105.2 250.8h0.9v0.9h-0.9zM88.4 260.8h0.9v0.9h-0.9zM99.7 244.5h0.9v0.9h-0.9zM99.8 258.6h0.9v0.9h-0.9zM89.9 256.1h0.9v0.9h-0.9zM96.9 251.9h0.9v0.9h-0.9zM90.1 250.8h0.9v0.9h-0.9zM92.6 246.9h0.9v0.9h-0.9zM94.4 245.9h0.9v0.9h-0.9zM95.3 254.3h0.9v0.9h-0.9zM86.5 259.9h0.9v0.9h-0.9zM110.1 262.7h0.9v0.9h-0.9zM83.9 262.4h0.9v0.9h-0.9zM96.5 254.5h0.9v0.9h-0.9zM90.0 254.8h0.9v0.9h-0.9zM105.8 258.0h0.9v0.9h-0.9zM91.4 250.8h0.9v0.9h-0.9zM91.4 258.3h0.9v0.9h-0.9zM109.5 248.5h0.9v0.9h-0.9zM94.7 252.5h0.9v0.9h-0.9zM88.8 257.2h0.9v0.9h-0.9zM99.1 246.4h0.9v0.9h-0.9zM86.5 261.9h0.9v0.9h-0.9zM97.2 257.9h0.9v0.9h-0.9zM90.7 252.5h0.9v0.9h-0.9zM98.4 251.8h0.9v0.9h-0.9zM85.9 254.8h0.9v0.9h-0.9zM101.9 248.7h0.9v0.9h-0.9zM103.1 259.0h0.9v0.9h-0.9zM87.9 254.8h0.9v0.9h-0.9zM94.4 258.6h0.9v0.9h-0.9zM100.0 247.1h0.9v0.9h-0.9zM84.0 260.9h0.9v0.9h-0.9zM95.6 257.3h0.9v0.9h-0.9zM97.4 263.9h0.9v0.9h-0.9zM85.2 261.3h0.9v0.9h-0.9zM88.2 259.1h0.9v0.9h-0.9zM105.3 246.6h0.9v0.9h-0.9zM97.9 253.1h0.9v0.9h-0.9zM92.4 255.0h0.9v0.9h-0.9zM86.4 249.1h0.9v0.9h-0.9zM99.9 259.8h0.9v0.9h-0.9zM90.2 246.2h0.9v0.9h-0.9zM113.1 261.3h0.9v0.9h-0.9zM97.6 248.7h0.9v0.9h-0.9zM90.1 256.2h0.9v0.9h-0.9z" fill="#000" fill-opacity="0.4"/>
<path d="M122.5 269.1h0.9v0.9h-0.9zM121.6 274.5h0.9v0.9h-0.9zM120.6 268.7h0.9v0.9h-0.9zM121.5 269.9h0.9v0.9h-0.9zM121.0 272.5h0.9v0.9h-0.9zM121.5 275.4h0.9v0.9h-0.9zM121.1 281.1h0.9v0.9h-0.9zM121.3 268.8h0.9v0.9h-0.9zM120.8 281.0h0.9v0.9h-0.9zM121.0 274.1h0.9v0.9h-0.9zM121.5 275.8h0.9v0.9h-0.9zM121.1 269.8h0.9v0.9h-0.9zM122.1 278.5h0.9v0.9h-0.9zM122.0 278.4h0.9v0.9h-0.9zM121.0 272.2h0.9v0.9h-0.9zM120.4 278.4h0.9v0.9h-0.9zM119.8 273.5h0.9v0.9h-0.9zM120.7 272.0h0.9v0.9h-0.9zM121.7 267.9h0.9v0.9h-0.9zM121.0 270.2h0.9v0.9h-0.9zM120.7 272.6h0.9v0.9h-0.9zM120.9 280.8h0.9v0.9h-0.9zM120.2 274.8h0.9v0.9h-0.9zM121.0 271.5h0.9v0.9h-0.9zM120.8 272.3h0.9v0.9h-0.9zM122.5 274.5h0.9v0.9h-0.9zM121.2 273.2h0.9v0.9h-0.9zM123.3 271.9h0.9v0.9h-0.9zM120.7 277.3h0.9v0.9h-0.9z" fill="#000" fill-opacity="0.6"/>
<path d="M115.5 275.4h0.9v0.9h-0.9zM96.4 278.9h0.9v0.9h-0.9zM105.5 267.7h0.9v0.9h-0.9zM103.8 275.5h0.9v0.9h-0.9zM109.2 269.5h0.9v0.9h-0.9zM122.9 273.4h0.9v0.9h-0.9zM96.0 272.6h0.9v0.9h-0.9zM109.6 274.9h0.9v0.9h-0.9zM105.2 274.7h0.9v0.9h-0.9zM123.2 280.6h0.9v0.9h-0.9zM93.7 275.6h0.9v0.9h-0.9zM110.9 271.0h0.9v0.9h-0.9zM88.6 278.5h0.9v0.9h-0.9zM106.7 267.7h0.9v0.9h-0.9zM123.4 278.2h0.9v0.9h-0.9zM113.8 274.8h0.9v0.9h-0.9zM86.3 269.4h0.9v0.9h-0.9zM124.4 277.8h0.9v0.9h-0.9zM106.6 266.9h0.9v0.9h-0.9zM108.2 265.6h0.9v0.9h-0.9zM122.8 269.6h0.9v0.9h-0.9zM108.4 273.6h0.9v0.9h-0.9zM93.8 275.7h0.9v0.9h-0.9zM102.2 270.3h0.9v0.9h-0.9zM115.0 274.8h0.9v0.9h-0.9zM100.9 281.7h0.9v0.9h-0.9zM91.7 282.0h0.9v0.9h-0.9zM100.6 277.3h0.9v0.9h-0.9zM89.1 270.1h0.9v0.9h-0.9zM89.0 273.1h0.9v0.9h-0.9zM89.9 278.7h0.9v0.9h-0.9zM105.4 280.1h0.9v0.9h-0.9zM97.9 281.2h0.9v0.9h-0.9zM92.2 271.6h0.9v0.9h-0.9zM114.6 270.7h0.9v0.9h-0.9z" fill="#000" fill-opacity="0.35"/>
<path d="M146.8 273.3h0.9v0.9h-0.9zM145.1 279.4h0.9v0.9h-0.9zM135.7 277.0h0.9v0.9h-0.9zM138.7 272.2h0.9v0.9h-0.9zM133.6 269.7h0.9v0.9h-0.9zM142.5 274.4h0.9v0.9h-0.9zM142.0 271.7h0.9v0.9h-0.9zM139.6 274.8h0.9v0.9h-0.9zM134.8 269.4h0.9v0.9h-0.9zM142.6 276.5h0.9v0.9h-0.9zM137.2 275.5h0.9v0.9h-0.9zM137.4 278.3h0.9v0.9h-0.9zM149.2 276.1h0.9v0.9h-0.9zM146.6 265.7h0.9v0.9h-0.9zM146.6 275.8h0.9v0.9h-0.9zM133.5 278.9h0.9v0.9h-0.9zM145.0 280.6h0.9v0.9h-0.9zM145.6 275.8h0.9v0.9h-0.9zM138.0 274.1h0.9v0.9h-0.9zM140.7 277.5h0.9v0.9h-0.9zM139.0 276.1h0.9v0.9h-0.9zM144.3 277.2h0.9v0.9h-0.9zM136.4 273.7h0.9v0.9h-0.9zM135.7 271.3h0.9v0.9h-0.9zM143.0 272.0h0.9v0.9h-0.9zM136.8 274.8h0.9v0.9h-0.9zM144.0 274.5h0.9v0.9h-0.9zM139.5 279.5h0.9v0.9h-0.9zM142.7 277.7h0.9v0.9h-0.9zM144.6 271.9h0.9v0.9h-0.9zM141.7 273.4h0.9v0.9h-0.9zM144.9 279.1h0.9v0.9h-0.9zM136.8 281.1h0.9v0.9h-0.9zM136.3 280.5h0.9v0.9h-0.9zM141.7 272.5h0.9v0.9h-0.9zM136.5 274.7h0.9v0.9h-0.9zM140.8 273.1h0.9v0.9h-0.9zM143.1 270.4h0.9v0.9h-0.9zM140.9 275.9h0.9v0.9h-0.9zM133.5 277.1h0.9v0.9h-0.9zM135.9 266.1h0.9v0.9h-0.9zM138.5 275.0h0.9v0.9h-0.9zM144.4 274.0h0.9v0.9h-0.9zM145.2 281.1h0.9v0.9h-0.9zM142.3 273.7h0.9v0.9h-0.9zM143.4 279.7h0.9v0.9h-0.9zM141.8 274.9h0.9v0.9h-0.9zM134.7 278.5h0.9v0.9h-0.9zM142.3 270.7h0.9v0.9h-0.9zM141.3 278.7h0.9v0.9h-0.9zM140.4 279.0h0.9v0.9h-0.9zM143.9 270.1h0.9v0.9h-0.9zM139.7 277.8h0.9v0.9h-0.9zM133.3 275.6h0.9v0.9h-0.9zM143.7 280.7h0.9v0.9h-0.9zM147.5 272.2h0.9v0.9h-0.9zM139.4 271.7h0.9v0.9h-0.9zM144.1 270.7h0.9v0.9h-0.9zM145.6 279.6h0.9v0.9h-0.9zM142.8 267.3h0.9v0.9h-0.9zM138.2 278.8h0.9v0.9h-0.9zM135.3 274.9h0.9v0.9h-0.9zM140.5 279.4h0.9v0.9h-0.9zM142.0 277.0h0.9v0.9h-0.9zM139.1 275.9h0.9v0.9h-0.9zM140.3 278.8h0.9v0.9h-0.9zM140.2 280.0h0.9v0.9h-0.9zM134.2 280.6h0.9v0.9h-0.9zM140.2 280.3h0.9v0.9h-0.9zM141.2 279.3h0.9v0.9h-0.9zM146.8 273.7h0.9v0.9h-0.9zM141.2 275.2h0.9v0.9h-0.9zM141.7 269.5h0.9v0.9h-0.9zM140.2 274.9h0.9v0.9h-0.9zM137.8 275.1h0.9v0.9h-0.9zM137.4 271.3h0.9v0.9h-0.9zM142.0 269.3h0.9v0.9h-0.9zM141.8 273.1h0.9v0.9h-0.9zM139.5 276.9h0.9v0.9h-0.9zM143.4 270.8h0.9v0.9h-0.9zM144.7 270.6h0.9v0.9h-0.9zM141.2 270.9h0.9v0.9h-0.9zM137.6 281.1h0.9v0.9h-0.9zM138.7 273.3h0.9v0.9h-0.9zM138.6 274.6h0.9v0.9h-0.9zM146.6 271.2h0.9v0.9h-0.9zM136.0 278.1h0.9v0.9h-0.9zM134.5 274.4h0.9v0.9h-0.9zM145.3 275.9h0.9v0.9h-0.9zM138.9 273.0h0.9v0.9h-0.9zM137.2 273.5h0.9v0.9h-0.9zM141.4 280.8h0.9v0.9h-0.9zM144.7 273.6h0.9v0.9h-0.9zM137.9 278.6h0.9v0.9h-0.9zM133.7 274.1h0.9v0.9h-0.9zM139.5 271.4h0.9v0.9h-0.9zM136.9 277.2h0.9v0.9h-0.9zM134.3 272.2h0.9v0.9h-0.9zM138.2 276.1h0.9v0.9h-0.9zM135.4 280.1h0.9v0.9h-0.9zM139.6 274.8h0.9v0.9h-0.9zM139.3 273.1h0.9v0.9h-0.9zM136.9 280.3h0.9v0.9h-0.9zM141.6 275.3h0.9v0.9h-0.9zM144.7 272.9h0.9v0.9h-0.9zM143.2 275.8h0.9v0.9h-0.9zM137.2 278.7h0.9v0.9h-0.9zM134.8 278.3h0.9v0.9h-0.9zM137.2 277.3h0.9v0.9h-0.9zM146.2 278.0h0.9v0.9h-0.9zM138.3 275.6h0.9v0.9h-0.9zM139.3 271.1h0.9v0.9h-0.9zM136.3 275.9h0.9v0.9h-0.9zM142.8 268.7h0.9v0.9h-0.9zM140.4 277.7h0.9v0.9h-0.9zM141.1 271.7h0.9v0.9h-0.9zM144.8 270.9h0.9v0.9h-0.9zM141.9 276.6h0.9v0.9h-0.9zM137.6 274.4h0.9v0.9h-0.9zM135.2 276.2h0.9v0.9h-0.9zM142.8 273.0h0.9v0.9h-0.9zM137.0 273.8h0.9v0.9h-0.9zM140.6 275.9h0.9v0.9h-0.9zM140.2 275.9h0.9v0.9h-0.9zM135.5 264.9h0.9v0.9h-0.9zM135.1 273.0h0.9v0.9h-0.9zM141.8 279.4h0.9v0.9h-0.9zM143.2 280.6h0.9v0.9h-0.9zM140.4 277.2h0.9v0.9h-0.9zM142.2 273.9h0.9v0.9h-0.9zM145.3 278.1h0.9v0.9h-0.9zM144.5 274.1h0.9v0.9h-0.9zM144.7 271.5h0.9v0.9h-0.9zM142.2 265.4h0.9v0.9h-0.9zM136.7 278.5h0.9v0.9h-0.9zM138.8 276.3h0.9v0.9h-0.9zM142.9 275.5h0.9v0.9h-0.9zM142.2 276.9h0.9v0.9h-0.9zM146.1 276.4h0.9v0.9h-0.9zM134.8 274.6h0.9v0.9h-0.9zM145.6 277.8h0.9v0.9h-0.9zM139.0 278.0h0.9v0.9h-0.9zM141.1 278.0h0.9v0.9h-0.9zM134.4 272.1h0.9v0.9h-0.9zM143.2 274.7h0.9v0.9h-0.9zM139.4 276.5h0.9v0.9h-0.9zM138.4 273.2h0.9v0.9h-0.9zM140.3 269.9h0.9v0.9h-0.9zM140.2 280.0h0.9v0.9h-0.9zM141.1 276.2h0.9v0.9h-0.9zM143.2 278.4h0.9v0.9h-0.9zM135.9 280.3h0.9v0.9h-0.9zM136.8 276.4h0.9v0.9h-0.9zM150.6 275.9h0.9v0.9h-0.9zM147.1 274.2h0.9v0.9h-0.9zM143.0 275.8h0.9v0.9h-0.9zM142.2 272.3h0.9v0.9h-0.9zM137.0 276.9h0.9v0.9h-0.9zM134.5 272.3h0.9v0.9h-0.9zM143.1 273.2h0.9v0.9h-0.9zM137.1 271.3h0.9v0.9h-0.9zM141.2 274.2h0.9v0.9h-0.9zM141.2 274.9h0.9v0.9h-0.9zM147.8 273.9h0.9v0.9h-0.9zM133.0 276.1h0.9v0.9h-0.9zM140.6 276.2h0.9v0.9h-0.9zM134.3 280.0h0.9v0.9h-0.9zM140.5 275.4h0.9v0.9h-0.9zM134.4 277.5h0.9v0.9h-0.9zM140.4 280.9h0.9v0.9h-0.9zM139.0 270.8h0.9v0.9h-0.9zM141.1 272.0h0.9v0.9h-0.9zM142.2 271.4h0.9v0.9h-0.9zM140.1 274.7h0.9v0.9h-0.9zM140.5 273.6h0.9v0.9h-0.9zM137.5 275.4h0.9v0.9h-0.9zM138.4 276.2h0.9v0.9h-0.9zM139.5 266.9h0.9v0.9h-0.9zM140.4 281.0h0.9v0.9h-0.9zM141.8 277.9h0.9v0.9h-0.9zM142.4 273.8h0.9v0.9h-0.9zM135.4 278.8h0.9v0.9h-0.9zM144.7 277.8h0.9v0.9h-0.9zM142.3 277.1h0.9v0.9h-0.9zM140.5 276.7h0.9v0.9h-0.9zM140.7 276.9h0.9v0.9h-0.9zM137.0 273.2h0.9v0.9h-0.9zM142.8 274.3h0.9v0.9h-0.9zM143.4 278.2h0.9v0.9h-0.9zM138.1 271.3h0.9v0.9h-0.9zM139.8 275.7h0.9v0.9h-0.9zM137.7 276.2h0.9v0.9h-0.9zM143.3 277.9h0.9v0.9h-0.9zM136.6 267.3h0.9v0.9h-0.9zM140.6 273.1h0.9v0.9h-0.9zM146.9 276.7h0.9v0.9h-0.9zM140.8 276.7h0.9v0.9h-0.9zM143.9 275.5h0.9v0.9h-0.9zM138.7 272.8h0.9v0.9h-0.9zM140.7 273.3h0.9v0.9h-0.9zM143.7 274.4h0.9v0.9h-0.9zM146.3 280.3h0.9v0.9h-0.9zM135.9 279.8h0.9v0.9h-0.9zM139.1 280.9h0.9v0.9h-0.9zM142.6 275.5h0.9v0.9h-0.9zM143.3 273.6h0.9v0.9h-0.9zM141.9 277.2h0.9v0.9h-0.9zM140.1 277.2h0.9v0.9h-0.9zM136.9 277.8h0.9v0.9h-0.9zM136.1 278.1h0.9v0.9h-0.9zM142.5 278.4h0.9v0.9h-0.9zM139.9 276.3h0.9v0.9h-0.9zM137.9 281.2h0.9v0.9h-0.9zM138.9 279.5h0.9v0.9h-0.9zM137.1 276.9h0.9v0.9h-0.9zM139.3 279.3h0.9v0.9h-0.9zM139.7 272.5h0.9v0.9h-0.9zM142.5 271.2h0.9v0.9h-0.9zM137.1 278.7h0.9v0.9h-0.9zM133.7 278.7h0.9v0.9h-0.9zM139.3 272.3h0.9v0.9h-0.9zM141.7 278.2h0.9v0.9h-0.9zM138.6 275.1h0.9v0.9h-0.9zM143.8 278.7h0.9v0.9h-0.9zM140.6 272.9h0.9v0.9h-0.9zM137.2 273.6h0.9v0.9h-0.9zM143.4 278.0h0.9v0.9h-0.9zM142.0 281.1h0.9v0.9h-0.9zM139.7 274.4h0.9v0.9h-0.9zM133.1 277.0h0.9v0.9h-0.9zM142.5 276.1h0.9v0.9h-0.9zM149.7 280.3h0.9v0.9h-0.9zM143.8 272.5h0.9v0.9h-0.9zM142.8 274.5h0.9v0.9h-0.9zM141.1 276.6h0.9v0.9h-0.9zM139.1 278.3h0.9v0.9h-0.9zM147.0 279.8h0.9v0.9h-0.9zM141.7 268.6h0.9v0.9h-0.9zM145.0 280.0h0.9v0.9h-0.9zM140.2 274.1h0.9v0.9h-0.9zM143.4 272.9h0.9v0.9h-0.9zM143.9 271.9h0.9v0.9h-0.9zM137.5 276.0h0.9v0.9h-0.9zM135.5 275.9h0.9v0.9h-0.9zM142.9 271.0h0.9v0.9h-0.9zM144.4 273.8h0.9v0.9h-0.9zM143.0 276.8h0.9v0.9h-0.9zM139.2 274.0h0.9v0.9h-0.9zM134.5 273.3h0.9v0.9h-0.9zM144.8 270.8h0.9v0.9h-0.9zM144.0 276.8h0.9v0.9h-0.9zM139.5 277.7h0.9v0.9h-0.9zM143.9 273.8h0.9v0.9h-0.9zM139.9 276.6h0.9v0.9h-0.9zM137.3 276.7h0.9v0.9h-0.9zM140.7 273.4h0.9v0.9h-0.9zM137.8 277.1h0.9v0.9h-0.9zM144.3 277.2h0.9v0.9h-0.9zM137.8 278.8h0.9v0.9h-0.9zM141.6 278.2h0.9v0.9h-0.9zM145.3 272.6h0.9v0.9h-0.9zM140.5 273.7h0.9v0.9h-0.9zM144.5 269.4h0.9v0.9h-0.9zM142.6 273.9h0.9v0.9h-0.9zM145.3 276.3h0.9v0.9h-0.9zM140.3 276.5h0.9v0.9h-0.9zM142.4 276.1h0.9v0.9h-0.9zM140.2 275.5h0.9v0.9h-0.9zM142.9 271.8h0.9v0.9h-0.9zM141.0 275.5h0.9v0.9h-0.9zM139.2 278.7h0.9v0.9h-0.9zM136.2 274.6h0.9v0.9h-0.9zM137.8 278.0h0.9v0.9h-0.9zM139.2 276.2h0.9v0.9h-0.9zM142.4 270.0h0.9v0.9h-0.9zM142.7 273.2h0.9v0.9h-0.9zM140.0 275.6h0.9v0.9h-0.9zM144.0 278.8h0.9v0.9h-0.9zM147.6 276.7h0.9v0.9h-0.9zM139.2 274.1h0.9v0.9h-0.9zM142.3 273.8h0.9v0.9h-0.9zM142.0 277.0h0.9v0.9h-0.9zM141.1 273.2h0.9v0.9h-0.9zM144.9 276.8h0.9v0.9h-0.9zM141.7 271.5h0.9v0.9h-0.9zM144.0 273.1h0.9v0.9h-0.9zM143.1 276.1h0.9v0.9h-0.9zM136.6 278.5h0.9v0.9h-0.9zM136.0 281.0h0.9v0.9h-0.9zM141.2 272.2h0.9v0.9h-0.9zM146.4 271.3h0.9v0.9h-0.9zM147.2 276.6h0.9v0.9h-0.9zM140.2 275.7h0.9v0.9h-0.9z" fill="#000" fill-opacity="0.85"/>
<path d="M173.8 274.5h0.9v0.9h-0.9zM139.0 274.4h0.9v0.9h-0.9zM155.9 272.6h0.9v0.9h-0.9zM148.2 281.4h0.9v0.9h-0.9zM176.3 272.0h0.9v0.9h-0.9zM168.6 273.6h0.9v0.9h-0.9zM143.6 277.0h0.9v0.9h-0.9zM140.5 280.9h0.9v0.9h-0.9zM136.0 279.7h0.9v0.9h-0.9zM142.7 280.1h0.9v0.9h-0.9zM174.9 268.9h0.9v0.9h-0.9zM172.5 281.1h0.9v0.9h-0.9zM169.4 279.2h0.9v0.9h-0.9zM152.2 271.3h0.9v0.9h-0.9zM155.7 278.9h0.9v0.9h-0.9zM159.7 281.2h0.9v0.9h-0.9zM169.8 277.9h0.9v0.9h-0.9zM135.2 277.8h0.9v0.9h-0.9zM142.8 279.4h0.9v0.9h-0.9zM160.0 280.1h0.9v0.9h-0.9zM141.1 278.5h0.9v0.9h-0.9zM175.3 267.2h0.9v0.9h-0.9zM136.9 269.3h0.9v0.9h-0.9zM176.9 267.9h0.9v0.9h-0.9zM144.2 273.5h0.9v0.9h-0.9zM143.3 267.1h0.9v0.9h-0.9zM153.3 274.8h0.9v0.9h-0.9zM162.4 280.8h0.9v0.9h-0.9zM177.1 281.7h0.9v0.9h-0.9zM155.5 266.6h0.9v0.9h-0.9zM173.6 276.9h0.9v0.9h-0.9zM173.3 268.3h0.9v0.9h-0.9zM177.3 279.8h0.9v0.9h-0.9zM150.5 266.5h0.9v0.9h-0.9zM155.4 267.7h0.9v0.9h-0.9zM135.9 271.2h0.9v0.9h-0.9zM151.5 266.1h0.9v0.9h-0.9zM150.2 276.6h0.9v0.9h-0.9zM140.3 269.3h0.9v0.9h-0.9zM170.8 277.5h0.9v0.9h-0.9zM147.0 281.2h0.9v0.9h-0.9zM140.6 273.5h0.9v0.9h-0.9zM140.0 273.5h0.9v0.9h-0.9zM136.1 281.9h0.9v0.9h-0.9zM167.5 271.0h0.9v0.9h-0.9z" fill="#000" fill-opacity="0.4"/>
<path d="M157.1 257.1h0.9v0.9h-0.9zM152.8 256.5h0.9v0.9h-0.9zM135.2 259.7h0.9v0.9h-0.9zM142.4 257.1h0.9v0.9h-0.9zM153.0 255.4h0.9v0.9h-0.9zM136.1 254.9h0.9v0.9h-0.9zM156.4 256.8h0.9v0.9h-0.9zM157.8 256.2h0.9v0.9h-0.9zM154.0 260.3h0.9v0.9h-0.9zM155.3 260.6h0.9v0.9h-0.9zM149.9 260.8h0.9v0.9h-0.9zM155.2 261.3h0.9v0.9h-0.9z" fill="#000" fill-opacity="0.3"/>
<path d="M232.2 270.8h0.9v0.9h-0.9zM232.6 279.2h0.9v0.9h-0.9zM233.6 272.9h0.9v0.9h-0.9zM232.4 278.9h0.9v0.9h-0.9zM233.6 273.8h0.9v0.9h-0.9zM232.3 278.1h0.9v0.9h-0.9zM233.0 277.5h0.9v0.9h-0.9zM233.4 280.3h0.9v0.9h-0.9zM233.9 272.2h0.9v0.9h-0.9zM231.9 280.4h0.9v0.9h-0.9zM232.7 272.6h0.9v0.9h-0.9zM233.5 279.8h0.9v0.9h-0.9zM234.2 276.1h0.9v0.9h-0.9zM234.2 278.2h0.9v0.9h-0.9zM232.6 265.4h0.9v0.9h-0.9zM233.1 271.9h0.9v0.9h-0.9zM231.9 276.9h0.9v0.9h-0.9zM232.8 271.5h0.9v0.9h-0.9zM230.7 275.7h0.9v0.9h-0.9zM233.0 280.7h0.9v0.9h-0.9zM233.3 276.5h0.9v0.9h-0.9zM233.0 272.1h0.9v0.9h-0.9zM233.9 281.0h0.9v0.9h-0.9zM232.8 278.5h0.9v0.9h-0.9zM234.1 272.9h0.9v0.9h-0.9zM232.6 278.8h0.9v0.9h-0.9zM232.2 267.0h0.9v0.9h-0.9zM234.1 268.1h0.9v0.9h-0.9zM232.3 277.3h0.9v0.9h-0.9zM235.3 275.3h0.9v0.9h-0.9zM231.9 275.9h0.9v0.9h-0.9zM233.2 268.9h0.9v0.9h-0.9zM232.7 276.7h0.9v0.9h-0.9zM233.9 277.4h0.9v0.9h-0.9zM231.4 270.1h0.9v0.9h-0.9zM234.4 278.7h0.9v0.9h-0.9zM232.6 281.0h0.9v0.9h-0.9zM232.4 280.5h0.9v0.9h-0.9zM233.5 270.2h0.9v0.9h-0.9zM233.8 270.9h0.9v0.9h-0.9zM232.6 279.5h0.9v0.9h-0.9zM233.9 265.4h0.9v0.9h-0.9zM233.4 280.4h0.9v0.9h-0.9zM231.7 268.8h0.9v0.9h-0.9zM233.7 281.0h0.9v0.9h-0.9zM232.8 278.7h0.9v0.9h-0.9zM232.5 278.3h0.9v0.9h-0.9zM232.2 275.1h0.9v0.9h-0.9zM232.6 277.7h0.9v0.9h-0.9zM233.6 280.8h0.9v0.9h-0.9zM234.6 272.9h0.9v0.9h-0.9zM233.4 271.5h0.9v0.9h-0.9zM233.9 266.6h0.9v0.9h-0.9zM232.4 266.5h0.9v0.9h-0.9zM232.6 276.1h0.9v0.9h-0.9zM232.1 270.0h0.9v0.9h-0.9zM233.1 274.4h0.9v0.9h-0.9zM232.8 281.0h0.9v0.9h-0.9zM231.6 280.6h0.9v0.9h-0.9zM232.7 262.8h0.9v0.9h-0.9zM232.7 278.6h0.9v0.9h-0.9zM233.4 272.0h0.9v0.9h-0.9zM232.2 273.2h0.9v0.9h-0.9zM234.1 279.3h0.9v0.9h-0.9zM233.8 280.8h0.9v0.9h-0.9zM233.9 278.7h0.9v0.9h-0.9zM232.9 274.0h0.9v0.9h-0.9zM233.7 274.1h0.9v0.9h-0.9zM233.4 273.6h0.9v0.9h-0.9zM232.9 271.6h0.9v0.9h-0.9zM232.9 274.9h0.9v0.9h-0.9zM232.8 277.1h0.9v0.9h-0.9zM231.1 275.5h0.9v0.9h-0.9z" fill="#000" fill-opacity="0.85"/>
<path d="M218.4 278.7h0.9v0.9h-0.9zM218.4 277.5h0.9v0.9h-0.9zM218.9 277.6h0.9v0.9h-0.9zM224.1 271.7h0.9v0.9h-0.9zM233.2 267.3h0.9v0.9h-0.9zM226.6 268.3h0.9v0.9h-0.9zM229.8 276.8h0.9v0.9h-0.9zM217.1 271.0h0.9v0.9h-0.9zM228.8 281.2h0.9v0.9h-0.9zM232.3 267.9h0.9v0.9h-0.9zM234.9 279.0h0.9v0.9h-0.9zM229.2 273.6h0.9v0.9h-0.9zM227.1 270.7h0.9v0.9h-0.9zM234.2 270.1h0.9v0.9h-0.9zM217.6 271.7h0.9v0.9h-0.9z" fill="#000" fill-opacity="0.35"/>
<g stroke="#4a4a4a" stroke-width="0.9">
<line x1="15.5" y1="73.2" x2="188.8" y2="73.2"/>
<line x1="15.5" y1="138.2" x2="188.8" y2="138.2"/>
<line x1="15.5" y1="204.0" x2="188.8" y2="204.0" stroke="#8a8a8a" stroke-width="1.5"/>
<line x1="15.5" y1="264.3" x2="245" y2="264.3"/>
</g>
<line x1="12.9" y1="285" x2="12.9" y2="52" stroke="#555" stroke-width="1.3"/>
<path d="M12.9 39.7L15 54.8L10.8 54.8Z" fill="#000"/>
<line x1="19.25" y1="289.4" x2="226" y2="289.4" stroke="#222" stroke-width="1.1"/>
<path d="M238.8 289.4L223 287.5L223 291.3Z" fill="#000"/>
<g stroke="#000" fill="none">
<line x1="337.2" y1="40.9" x2="337.2" y2="160.8" stroke-width="1.9"/>
<line x1="333" y1="160" x2="513" y2="160" stroke-width="1.7"/>
<line x1="333" y1="160.00" x2="337.2" y2="160.00" stroke-width="1.2"/>
<line x1="333" y1="150.14" x2="337.2" y2="150.14" stroke-width="1.2"/>
<line x1="333" y1="140.28" x2="337.2" y2="140.28" stroke-width="1.2"/>
<line x1="333" y1="130.43" x2="337.2" y2="130.43" stroke-width="1.2"/>
<line x1="333" y1="120.57" x2="337.2" y2="120.57" stroke-width="1.2"/>
<line x1="333" y1="110.71" x2="337.2" y2="110.71" stroke-width="1.2"/>
<line x1="333" y1="100.85" x2="337.2" y2="100.85" stroke-width="1.2"/>
<line x1="333" y1="90.99" x2="337.2" y2="90.99" stroke-width="1.2"/>
<line x1="333" y1="81.14" x2="337.2" y2="81.14" stroke-width="1.2"/>
<line x1="333" y1="71.28" x2="337.2" y2="71.28" stroke-width="1.2"/>
<line x1="333" y1="61.42" x2="337.2" y2="61.42" stroke-width="1.2"/>
<line x1="333" y1="51.56" x2="337.2" y2="51.56" stroke-width="1.2"/>
<line x1="333" y1="41.70" x2="337.2" y2="41.70" stroke-width="1.2"/>
</g>
<g font-family="Liberation Sans, sans-serif" font-weight="bold" font-size="6.8" text-anchor="end">
<text x="332.4" y="162.30">0</text>
<text x="332.4" y="152.44">100</text>
<text x="332.4" y="142.58">200</text>
<text x="332.4" y="132.73">300</text>
<text x="332.4" y="122.87">400</text>
<text x="332.4" y="113.01">500</text>
<text x="332.4" y="103.15">600</text>
<text x="332.4" y="93.29">700</text>
<text x="332.4" y="83.44">800</text>
<text x="332.4" y="73.58">900</text>
<text x="332.4" y="63.72">1,000</text>
<text x="332.4" y="53.86">1,100</text>
<text x="332.4" y="44.00">1,200</text>
</g>
<rect x="348" y="154.8" width="19.9" height="5.2" fill="#000"/>
<rect x="372.05" y="57.45" width="17.8" height="102.5" fill="#fff" stroke="#000" stroke-width="1.7"/>
<rect x="459.75" y="127.45" width="18.2" height="32.5" fill="#fff" stroke="#000" stroke-width="1.7"/>
<rect x="394.5" y="157.4" width="19" height="2.6" fill="#3a3a3a" stroke="#000" stroke-width="0.9"/>
<rect x="481.8" y="158.4" width="20.2" height="1.6" fill="#000"/>
<g stroke="#000" stroke-width="1.3">
<line x1="381.1" y1="57" x2="381.1" y2="45.4"/><line x1="376.1" y1="45.4" x2="385.7" y2="45.4"/>
<line x1="468.6" y1="127" x2="468.6" y2="113.7"/><line x1="463.6" y1="113.7" x2="473.7" y2="113.7"/>
<line x1="357.1" y1="32.8" x2="379.2" y2="32.8"/>
<line x1="448.1" y1="102.1" x2="469.2" y2="102.1"/>
<line x1="420.5" y1="170" x2="429.8" y2="150.6" stroke-width="1.4"/><line x1="424.8" y1="170" x2="434.4" y2="150.6" stroke-width="1.4"/>
</g>
<rect x="433.3" y="47.05" width="16.8" height="7" fill="#000" stroke="#000" stroke-width="1.5"/>
<rect x="433.3" y="61.15" width="16.8" height="6.7" fill="#fff" stroke="#000" stroke-width="1.5"/>
<rect x="433.3" y="75.55" width="16.8" height="6.6" fill="#5e5e5e" stroke="#000" stroke-width="1.5"/>
<g stroke="#000" fill="none">
<line x1="329.6" y1="245.9" x2="329.6" y2="341.2" stroke-width="1.6"/>
<line x1="326.3" y1="340.5" x2="472" y2="340.5" stroke-width="1.6"/>
<line x1="326.3" y1="340.50" x2="329.6" y2="340.50" stroke-width="1.1"/>
<line x1="326.3" y1="327.11" x2="329.6" y2="327.11" stroke-width="1.1"/>
<line x1="326.3" y1="313.71" x2="329.6" y2="313.71" stroke-width="1.1"/>
<line x1="326.3" y1="300.32" x2="329.6" y2="300.32" stroke-width="1.1"/>
<line x1="326.3" y1="286.93" x2="329.6" y2="286.93" stroke-width="1.1"/>
<line x1="326.3" y1="273.54" x2="329.6" y2="273.54" stroke-width="1.1"/>
<line x1="326.3" y1="260.14" x2="329.6" y2="260.14" stroke-width="1.1"/>
<line x1="326.3" y1="246.75" x2="329.6" y2="246.75" stroke-width="1.1"/>
</g>
<g font-family="Liberation Sans, sans-serif" font-size="5.5" text-anchor="end" fill="#000">
<text transform="translate(325.9,342.45) scale(0.92,1)">0.0</text>
<text transform="translate(325.9,329.06) scale(0.92,1)">2.5</text>
<text transform="translate(325.9,315.66) scale(0.92,1)">5.0</text>
<text transform="translate(325.9,302.27) scale(0.92,1)">7.5</text>
<text transform="translate(325.9,288.88) scale(0.92,1)">10.0</text>
<text transform="translate(325.9,275.49) scale(0.92,1)">12.5</text>
<text transform="translate(325.9,262.09) scale(0.92,1)">15.0</text>
<text transform="translate(325.9,248.70) scale(0.92,1)">17.5</text>
</g>
<rect x="337.5" y="273.25" width="32" height="67.25" fill="#000"/>
<rect x="384.5" y="252.5" width="32.5" height="88" fill="#000"/>
<rect x="431.25" y="318.25" width="33" height="22.25" fill="#000"/>
<g stroke="#000" stroke-width="1.4">
<line x1="353.5" y1="274" x2="353.5" y2="257"/><line x1="345.5" y1="257" x2="361.75" y2="257"/>
<line x1="400.75" y1="253" x2="400.75" y2="246.75"/><line x1="392.5" y1="246.75" x2="408.75" y2="246.75"/>
<line x1="447.75" y1="319" x2="447.75" y2="315"/><line x1="440" y1="315" x2="455.75" y2="315"/>
<line x1="352.5" y1="219.6" x2="445" y2="219.6" stroke-width="1.5"/>
<line x1="399.8" y1="237.9" x2="447" y2="237.9" stroke-width="1.5"/>
<line x1="335.1" y1="359.2" x2="463" y2="359.2" stroke-width="1.5"/>
</g>
<g stroke="#000" fill="none">
<line x1="29.5" y1="341.8" x2="29.5" y2="450.2" stroke-width="1.6"/>
<line x1="26.5" y1="449.6" x2="193" y2="449.6" stroke-width="1.7"/>
<line x1="25.8" y1="449.50" x2="29.5" y2="449.50" stroke-width="1.3"/>
<line x1="25.8" y1="440.58" x2="29.5" y2="440.58" stroke-width="1.3"/>
<line x1="25.8" y1="431.67" x2="29.5" y2="431.67" stroke-width="1.3"/>
<line x1="25.8" y1="422.75" x2="29.5" y2="422.75" stroke-width="1.3"/>
<line x1="25.8" y1="413.83" x2="29.5" y2="413.83" stroke-width="1.3"/>
<line x1="25.8" y1="404.92" x2="29.5" y2="404.92" stroke-width="1.3"/>
<line x1="25.8" y1="396.00" x2="29.5" y2="396.00" stroke-width="1.3"/>
<line x1="25.8" y1="387.08" x2="29.5" y2="387.08" stroke-width="1.3"/>
<line x1="25.8" y1="378.16" x2="29.5" y2="378.16" stroke-width="1.3"/>
<line x1="25.8" y1="369.25" x2="29.5" y2="369.25" stroke-width="1.3"/>
<line x1="25.8" y1="360.33" x2="29.5" y2="360.33" stroke-width="1.3"/>
<line x1="25.8" y1="351.41" x2="29.5" y2="351.41" stroke-width="1.3"/>
<line x1="25.8" y1="342.50" x2="29.5" y2="342.50" stroke-width="1.3"/>
<line x1="29.80" y1="449.5" x2="29.80" y2="453.6" stroke-width="1.3"/>
<line x1="56.50" y1="449.5" x2="56.50" y2="453.6" stroke-width="1.3"/>
<line x1="83.20" y1="449.5" x2="83.20" y2="453.6" stroke-width="1.3"/>
<line x1="109.90" y1="449.5" x2="109.90" y2="453.6" stroke-width="1.3"/>
<line x1="136.60" y1="449.5" x2="136.60" y2="453.6" stroke-width="1.3"/>
<line x1="163.30" y1="449.5" x2="163.30" y2="453.6" stroke-width="1.3"/>
<line x1="190.00" y1="449.5" x2="190.00" y2="453.6" stroke-width="1.3"/>
</g>
<g font-family="Liberation Sans, sans-serif" font-weight="bold" font-size="6.5" text-anchor="end">
<text x="25.2" y="451.80">0</text>
<text x="25.2" y="442.88">10</text>
<text x="25.2" y="433.97">20</text>
<text x="25.2" y="425.05">30</text>
<text x="25.2" y="416.13">40</text>
<text x="25.2" y="407.22">50</text>
<text x="25.2" y="398.30">60</text>
<text x="25.2" y="389.38">70</text>
<text x="25.2" y="380.46">80</text>
<text x="25.2" y="371.55">90</text>
<text x="25.2" y="362.63">100</text>
<text x="25.2" y="353.71">110</text>
<text x="25.2" y="344.80">120</text>
</g>
<g font-family="Liberation Sans, sans-serif" font-weight="bold" font-size="7.8" text-anchor="middle">
<text x="29.80" y="461.5">1</text>
<text x="56.50" y="461.5">2</text>
<text x="83.20" y="461.5">3</text>
<text x="109.90" y="461.5">4</text>
<text x="136.60" y="461.5">5</text>
<text x="163.30" y="461.5">6</text>
<text x="190.00" y="461.5">7</text>
</g>
<g stroke="#000" stroke-width="2.2" fill="none" stroke-linejoin="round">
<polyline points="29.80,447.60 56.40,381.00 83.60,358.40 109.80,368.80 190.30,398.60"/>
<polyline points="29.80,447.60 56.50,403.20 83.20,392.30 110.00,404.60 190.20,391.00"/>
<polyline points="29.80,445.80 56.40,445.80 83.20,447.70 109.90,448.20 190.00,448.20"/>
</g>
<g stroke="#000" stroke-width="1.3">
<line x1="56.4" y1="372.4" x2="56.4" y2="388.7"/><line x1="53.2" y1="372.4" x2="59.6" y2="372.4"/><line x1="53.2" y1="388.7" x2="59.6" y2="388.7"/>
<line x1="106.8" y1="364.8" x2="112.8" y2="364.8"/><line x1="106.8" y1="372.8" x2="112.8" y2="372.8"/>
</g>
<path d="M26.10 448.59L33.50 448.59L29.80 442.39Z" fill="#000"/>
<path d="M52.70 448.59L60.10 448.59L56.40 442.39Z" fill="#000"/>
<path d="M79.50 450.49L86.90 450.49L83.20 444.29Z" fill="#000"/>
<path d="M106.20 450.99L113.60 450.99L109.90 444.79Z" fill="#000"/>
<path d="M186.30 450.99L193.70 450.99L190.00 444.79Z" fill="#000"/>
<path d="M26.10 444.81L33.50 444.81L29.80 451.01Z" fill="#000"/>
<path d="M52.80 400.41L60.20 400.41L56.50 406.61Z" fill="#000"/>
<path d="M79.50 389.51L86.90 389.51L83.20 395.71Z" fill="#000"/>
<path d="M106.30 401.81L113.70 401.81L110.00 408.01Z" fill="#000"/>
<path d="M186.50 388.21L193.90 388.21L190.20 394.41Z" fill="#000"/>
<rect x="26.70" y="444.50" width="6.2" height="6.2" fill="#000"/>
<rect x="53.30" y="377.90" width="6.2" height="6.2" fill="#000"/>
<rect x="80.50" y="355.30" width="6.2" height="6.2" fill="#000"/>
<rect x="106.70" y="365.70" width="6.2" height="6.2" fill="#000"/>
<rect x="187.20" y="395.50" width="6.2" height="6.2" fill="#000"/>
<line x1="150.2" y1="344.7" x2="165.7" y2="344.7" stroke="#000" stroke-width="1.9"/>
<rect x="155.00" y="341.60" width="6.2" height="6.2" fill="#000"/>
<line x1="150.2" y1="357.5" x2="165.7" y2="357.5" stroke="#000" stroke-width="1.9"/>
<path d="M154.40 354.71L161.80 354.71L158.10 360.91Z" fill="#000"/>
<line x1="150.2" y1="369.9" x2="165.7" y2="369.9" stroke="#000" stroke-width="1.9"/>
<path d="M154.40 372.69L161.80 372.69L158.10 366.49Z" fill="#000"/>
<text transform="translate(3.62,15.40) scale(1.0542,1)" font-family="Liberation Sans, sans-serif" font-weight="bold" font-size="18">A</text>
<text transform="translate(22.81,25.60) scale(0.9671,1)" font-family="Liberation Sans, sans-serif" font-weight="bold" font-size="8.6">C3-HA<tspan font-size="7.3" dy="-1.5">high</tspan></text>
<text transform="translate(81.16,25.40) scale(0.9752,1)" font-family="Liberation Sans, sans-serif" font-weight="bold" font-size="8.6">C3-HA<tspan font-size="7.3" dy="-1.5">low</tspan></text>
<text transform="translate(139.85,24.50) scale(0.9014,1)" font-family="Liberation Sans, sans-serif" font-weight="bold" font-size="8.8">B10.D2 +</text>
<text transform="translate(142.36,33.90) scale(0.8764,1)" font-family="Liberation Sans, sans-serif" font-weight="bold" font-size="8.8">LM-HA</text>
<text transform="translate(247.80,70.85) scale(0.7955,1)" font-family="Liberation Sans, sans-serif" font-weight="bold" font-size="8.6">Day 1</text>
<text transform="translate(247.79,135.80) scale(0.8136,1)" font-family="Liberation Sans, sans-serif" font-weight="bold" font-size="8.6">Day 2</text>
<text transform="translate(247.79,196.20) scale(0.8136,1)" font-family="Liberation Sans, sans-serif" font-weight="bold" font-size="8.6">Day 3</text>
<text transform="translate(247.80,258.00) scale(0.8044,1)" font-family="Liberation Sans, sans-serif" font-weight="bold" font-size="8.6">Day 4</text>
<text transform="translate(200.60,214.70) scale(0.9080,1)" font-family="Liberation Sans, sans-serif" font-weight="bold" font-size="8.6">B10.D2</text>
<text transform="translate(93.18,300.70) scale(0.8652,1)" font-family="Liberation Sans, sans-serif" font-weight="bold" font-size="8.8">CFSE</text>
<text transform="translate(7.40,170.03) rotate(-90) scale(1.0646,1)" font-family="Liberation Sans, sans-serif" font-weight="bold" font-size="7.4">PD-1</text>
<text transform="translate(303.13,15.30) scale(1.0311,1)" font-family="Liberation Sans, sans-serif" font-weight="bold" font-size="17.5">C</text>
<text transform="translate(352.24,29.90) scale(1.0250,1)" font-family="Liberation Sans, sans-serif" font-weight="bold" font-size="8.2"><tspan font-style="italic">P</tspan> &lt;.001</text>
<text transform="translate(446.04,98.80) scale(1.0468,1)" font-family="Liberation Sans, sans-serif" font-weight="bold" font-size="8.2"><tspan font-style="italic">P</tspan> &lt;.05</text>
<text transform="translate(453.43,52.80) scale(1.0894,1)" font-family="Liberation Sans, sans-serif" font-weight="bold" font-size="8.4">C3-HA<tspan font-size="6" dy="-2.6">low</tspan></text>
<text transform="translate(453.16,66.50) scale(1.0824,1)" font-family="Liberation Sans, sans-serif" font-weight="bold" font-size="8.4">B10.D2+LM-HA</text>
<text transform="translate(453.17,81.70) scale(1.0545,1)" font-family="Liberation Sans, sans-serif" font-weight="bold" font-size="8.4">B10.D2</text>
<text transform="translate(367.17,171.20) scale(1.0621,1)" font-family="Liberation Sans, sans-serif" font-weight="bold" font-size="8.4">Day 4</text>
<text transform="translate(456.78,171.20) scale(1.0326,1)" font-family="Liberation Sans, sans-serif" font-weight="bold" font-size="8.4">Day 7</text>
<text transform="translate(312.60,150.50) rotate(-90) scale(1.0504,1)" font-family="Liberation Sans, sans-serif" font-weight="bold" font-size="8.6">Total Clone 4 cells (x10<tspan font-size="6" dy="-3">4</tspan><tspan dy="3">)</tspan></text>
<text transform="translate(302.79,208.60) scale(1.0455,1)" font-family="Liberation Sans, sans-serif" font-weight="bold" font-size="18">D</text>
<text transform="translate(391.04,215.90) scale(1.0340,1)" font-family="Liberation Sans, sans-serif" font-weight="bold" font-size="8.2"><tspan font-style="italic">P</tspan> &lt;.05</text>
<text transform="translate(413.36,234.60) scale(0.9532,1)" font-family="Liberation Sans, sans-serif" font-weight="bold" font-size="8.2"><tspan font-style="italic">P</tspan> &lt;.01</text>
<text transform="translate(335.14,353.80) scale(1.0419,1)" font-family="Liberation Sans, sans-serif" font-weight="bold" font-size="8.2"><tspan font-family="Liberation Serif, serif" font-size="1.1em">α</tspan>-B7-H1</text>
<text transform="translate(387.84,354.00) scale(1.0269,1)" font-family="Liberation Sans, sans-serif" font-weight="bold" font-size="8.2"><tspan font-family="Liberation Serif, serif" font-size="1.1em">α</tspan>-PD-1</text>
<text transform="translate(432.59,353.80) scale(1.0286,1)" font-family="Liberation Sans, sans-serif" font-weight="bold" font-size="8.2">Isotype</text>
<text transform="translate(374.43,370.30) scale(1.1397,1)" font-family="Liberation Sans, sans-serif" font-weight="bold" font-size="7.9">in vivo Ab</text>
<text transform="translate(312.60,343.30) rotate(-90) scale(1.0075,1)" font-family="Liberation Sans, sans-serif" font-weight="bold" font-size="8.6">Total Clone 4 cells (x10<tspan font-size="6" dy="-3">4</tspan><tspan dy="3">)</tspan></text>
<text transform="translate(2.12,336.00) scale(1.0273,1)" font-family="Liberation Sans, sans-serif" font-weight="bold" font-size="18">B</text>
<text transform="translate(47.21,472.00) scale(1.0499,1)" font-family="Liberation Sans, sans-serif" font-weight="bold" font-size="9.4">Days after adoptive transfer</text>
<text transform="translate(12.20,446.50) rotate(-90) scale(1.2013,1)" font-family="Liberation Sans, sans-serif" font-weight="bold" font-size="8.3">PD-1 Geometric MFI</text>
<text transform="translate(168.06,348.80) scale(0.9556,1)" font-family="Liberation Sans, sans-serif" font-weight="bold" font-size="8.5">C3-HA<tspan font-size="6.2" dy="-2.6">low</tspan></text>
<text transform="translate(168.06,361.50) scale(0.9688,1)" font-family="Liberation Sans, sans-serif" font-weight="bold" font-size="8.5">C3-HA<tspan font-size="6.2" dy="-2.6">high</tspan></text>
<text transform="translate(167.81,373.10) scale(0.9764,1)" font-family="Liberation Sans, sans-serif" font-weight="bold" font-size="8.3">B10.D2 + LM-HA</text>
</svg>
</body></html>
